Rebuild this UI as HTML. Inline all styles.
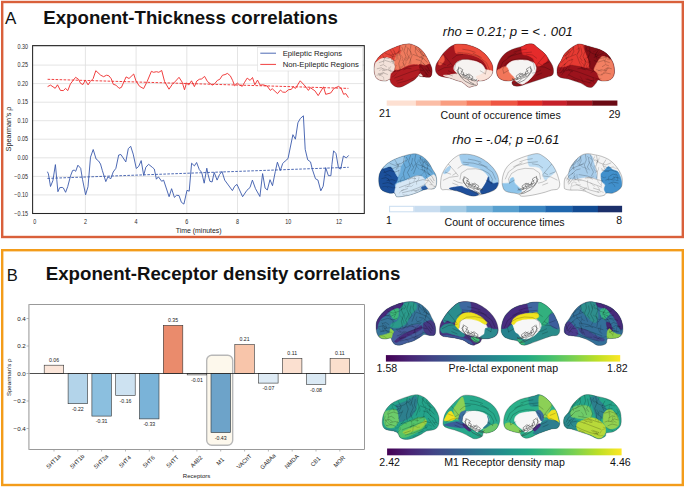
<!DOCTYPE html><html><head><meta charset="utf-8"><style>
html,body{margin:0;padding:0;background:#fff;width:685px;height:487px;overflow:hidden}
svg{display:block}
text{font-family:"Liberation Sans", sans-serif}
</style></head><body>
<svg width="685" height="487" viewBox="0 0 685 487">
<rect width="685" height="487" fill="#fff"/>
<rect x="2.2" y="2" width="680.6" height="235" fill="none" stroke="#d9603b" stroke-width="2.4"/>
<rect x="2.2" y="250.2" width="680.6" height="234.8" fill="none" stroke="#f39c1a" stroke-width="2.4"/>
<text x="5" y="24" font-size="17" fill="#111">A</text>
<text x="43.3" y="24.3" font-size="19" font-weight="bold" fill="#111" textLength="294.5" lengthAdjust="spacingAndGlyphs">Exponent-Thickness correlations</text>
<text x="6.8" y="281.2" font-size="16.5" fill="#111">B</text>
<text x="45.8" y="279.8" font-size="18.5" font-weight="bold" fill="#111" textLength="354.5" lengthAdjust="spacingAndGlyphs">Exponent-Receptor density correlations</text>
<line x1="33" x2="364" y1="46.5" y2="46.5" stroke="#dddddd" stroke-width="0.8"/>
<line x1="33" x2="364" y1="65.1" y2="65.1" stroke="#dddddd" stroke-width="0.8"/>
<line x1="33" x2="364" y1="83.6" y2="83.6" stroke="#dddddd" stroke-width="0.8"/>
<line x1="33" x2="364" y1="102.2" y2="102.2" stroke="#dddddd" stroke-width="0.8"/>
<line x1="33" x2="364" y1="120.7" y2="120.7" stroke="#dddddd" stroke-width="0.8"/>
<line x1="33" x2="364" y1="139.2" y2="139.2" stroke="#dddddd" stroke-width="0.8"/>
<line x1="33" x2="364" y1="157.8" y2="157.8" stroke="#dddddd" stroke-width="0.8"/>
<line x1="33" x2="364" y1="176.4" y2="176.4" stroke="#dddddd" stroke-width="0.8"/>
<line x1="33" x2="364" y1="194.9" y2="194.9" stroke="#dddddd" stroke-width="0.8"/>
<line x1="85.4" x2="85.4" y1="46" y2="213" stroke="#dddddd" stroke-width="0.8"/>
<line x1="136.1" x2="136.1" y1="46" y2="213" stroke="#dddddd" stroke-width="0.8"/>
<line x1="186.8" x2="186.8" y1="46" y2="213" stroke="#dddddd" stroke-width="0.8"/>
<line x1="237.5" x2="237.5" y1="46" y2="213" stroke="#dddddd" stroke-width="0.8"/>
<line x1="288.2" x2="288.2" y1="46" y2="213" stroke="#dddddd" stroke-width="0.8"/>
<line x1="338.9" x2="338.9" y1="46" y2="213" stroke="#dddddd" stroke-width="0.8"/>
<polyline points="47.6,86.6 50.5,85.1 55.2,88.3 57.5,84.8 60.4,90.4 63.4,90.6 65.5,88.4 67.8,90.6 70.4,83.9 75.6,77.3 78.5,79.3 80.6,83.4 83.0,84.5 85.3,80.1 88.1,84.9 90.2,81.6 93.1,78.7 95.8,70.7 100.7,75.2 103.6,76.7 106.6,75.2 108.9,75.8 111.2,78.7 113.3,84.3 115.9,85.1 119.1,88.3 121.4,87.4 126.1,76.9 129.0,78.5 133.7,74.0 136.0,81.0 139.5,86.3 143.6,88.6 147.1,81.6 151.4,71.3 153.5,72.3 156.5,71.7 158.8,72.3 161.7,70.5 164.6,81.6 169.0,89.2 172.2,84.5 175.7,81.0 179.0,77.3 182.2,82.2 184.5,89.8 186.5,82.8 188.6,85.1 191.5,80.8 194.4,86.6 196.8,81.0 199.3,79.3 201.7,78.9 204.6,76.4 207.5,81.6 212.2,85.1 214.5,83.9 217.4,80.4 219.8,79.3 222.5,75.2 225.0,74.6 227.4,73.4 230.3,75.8 232.6,80.4 234.6,85.7 237.3,83.1 239.6,85.1 242.3,86.3 244.3,82.8 247.2,78.1 250.1,80.4 252.5,77.5 254.8,84.8 257.5,80.1 260.1,85.1 263.0,84.8 267.1,86.0 270.3,90.4 272.2,88.7 277.5,93.6 280.5,90.0 282.7,92.1 285.4,92.3 288.6,89.7 291.3,89.4 293.2,86.8 295.5,88.4 300.2,80.8 305.1,86.0 308.4,90.4 310.3,87.7 314.9,90.8 318.2,95.6 323.5,86.8 325.7,94.3 330.7,93.0 334.0,88.4 338.6,86.4 341.2,88.4 343.6,94.3 345.8,93.6 348.4,97.6" fill="none" stroke="#ee2a2a" stroke-width="0.9" stroke-linejoin="round"/>
<polyline points="47.4,171.7 48.4,173.8 50.5,186.5 52.9,180.6 55.4,164.6 57.9,191.7 59.7,187.7 62.2,187.4 63.4,188.0 65.6,192.3 67.7,186.7 70.6,175.7 72.6,170.5 74.2,170.1 75.7,171.3 77.9,165.2 80.7,168.3 82.5,179.4 85.6,194.8 88.0,186.7 90.5,157.2 93.2,149.5 96.1,159.0 98.5,160.9 100.5,164.0 102.4,170.7 105.8,181.6 107.9,176.9 110.8,178.7 113.2,172.0 115.9,168.3 118.7,155.0 120.9,154.5 125.8,161.9 128.3,148.6 130.7,146.3 133.2,154.1 136.3,168.5 138.7,166.4 141.2,160.6 143.7,175.4 145.8,167.3 148.6,164.3 152.3,167.3 154.3,169.0 156.4,179.2 158.4,176.8 161.7,181.3 163.6,180.1 169.1,196.7 171.6,188.7 174.4,197.4 176.5,195.3 179.0,195.5 181.4,202.3 183.9,204.1 187.0,190.3 189.2,191.2 191.6,163.2 194.4,165.9 196.6,162.5 199.3,169.6 201.7,172.4 204.2,183.2 206.8,168.2 208.1,174.6 209.9,181.3 212.1,182.0 214.2,172.4 217.1,180.1 219.5,174.6 222.0,171.5 224.7,180.1 232.4,190.6 234.6,186.3 237.0,184.4 242.6,196.7 246.9,190.3 250.0,187.5 252.4,180.1 255.5,188.7 259.9,196.5 262.6,173.6 265.1,188.1 267.3,190.0 270.0,179.7 272.5,185.7 275.3,171.5 277.4,162.2 280.3,170.6 282.7,163.5 285.2,161.0 288.0,158.6 292.9,134.7 295.4,139.2 297.9,122.8 300.3,118.5 303.4,115.8 305.2,149.3 307.7,159.8 310.5,161.9 312.4,169.6 315.5,178.8 317.9,180.0 320.8,190.8 323.2,186.2 325.7,167.7 328.4,175.7 330.9,175.7 331.9,164.6 333.6,150.8 336.0,153.6 338.5,168.1 340.7,169.0 343.4,156.0 346.3,157.9 348.7,155.4" fill="none" stroke="#3a59ab" stroke-width="0.9" stroke-linejoin="round"/>
<line x1="47.6" y1="79.3" x2="348.4" y2="88.4" stroke="#ee2a2a" stroke-width="0.9" stroke-dasharray="2.6,1.4"/>
<line x1="47.4" y1="178.4" x2="348.7" y2="167.3" stroke="#3a59ab" stroke-width="0.9" stroke-dasharray="2.6,1.4"/>
<rect x="32.6" y="45.6" width="331.7" height="167.9" fill="none" stroke="#262626" stroke-width="1.05"/>
<text transform="translate(28,48.7) scale(0.86,1)" font-size="6.3" fill="#2a2a2a" text-anchor="end">0.30</text>
<text transform="translate(28,67.3) scale(0.86,1)" font-size="6.3" fill="#2a2a2a" text-anchor="end">0.25</text>
<text transform="translate(28,85.8) scale(0.86,1)" font-size="6.3" fill="#2a2a2a" text-anchor="end">0.20</text>
<text transform="translate(28,104.4) scale(0.86,1)" font-size="6.3" fill="#2a2a2a" text-anchor="end">0.15</text>
<text transform="translate(28,122.9) scale(0.86,1)" font-size="6.3" fill="#2a2a2a" text-anchor="end">0.10</text>
<text transform="translate(28,141.4) scale(0.86,1)" font-size="6.3" fill="#2a2a2a" text-anchor="end">0.05</text>
<text transform="translate(28,160.0) scale(0.86,1)" font-size="6.3" fill="#2a2a2a" text-anchor="end">0.00</text>
<text transform="translate(28,178.6) scale(0.86,1)" font-size="6.3" fill="#2a2a2a" text-anchor="end">−0.05</text>
<text transform="translate(28,197.1) scale(0.86,1)" font-size="6.3" fill="#2a2a2a" text-anchor="end">−0.10</text>
<text transform="translate(28,215.7) scale(0.86,1)" font-size="6.3" fill="#2a2a2a" text-anchor="end">−0.15</text>
<text transform="translate(34.7,224.2) scale(0.86,1)" font-size="6.3" fill="#2a2a2a" text-anchor="middle">0</text>
<text transform="translate(85.4,224.2) scale(0.86,1)" font-size="6.3" fill="#2a2a2a" text-anchor="middle">2</text>
<text transform="translate(136.1,224.2) scale(0.86,1)" font-size="6.3" fill="#2a2a2a" text-anchor="middle">4</text>
<text transform="translate(186.8,224.2) scale(0.86,1)" font-size="6.3" fill="#2a2a2a" text-anchor="middle">6</text>
<text transform="translate(237.5,224.2) scale(0.86,1)" font-size="6.3" fill="#2a2a2a" text-anchor="middle">8</text>
<text transform="translate(288.2,224.2) scale(0.86,1)" font-size="6.3" fill="#2a2a2a" text-anchor="middle">10</text>
<text transform="translate(338.9,224.2) scale(0.86,1)" font-size="6.3" fill="#2a2a2a" text-anchor="middle">12</text>
<text x="198.7" y="233.3" font-size="7.6" fill="#1e1e1e" text-anchor="middle" textLength="45.8" lengthAdjust="spacingAndGlyphs">Time (minutes)</text>
<text transform="translate(11.3,129) rotate(-90)" font-size="7.3" fill="#222" text-anchor="middle">Spearman’s ρ</text>
<rect x="257.6" y="47.3" width="104.8" height="23.7" fill="#fff" fill-opacity="0.85" stroke="#ddd" stroke-width="0.6"/>
<line x1="260.3" x2="276" y1="53.2" y2="53.2" stroke="#3a59ab" stroke-width="0.9"/>
<line x1="260.3" x2="276" y1="64.4" y2="64.4" stroke="#ee2a2a" stroke-width="0.9"/>
<text x="282.7" y="55.8" font-size="7.7" fill="#222">Epileptic Regions</text>
<text x="282.7" y="67.1" font-size="7.7" fill="#222">Non-Epileptic Regions</text>
<rect x="206.7" y="355.2" width="26" height="90" rx="5" ry="5" fill="#fdf8ec" stroke="#b8b8b8" stroke-width="1.4"/>
<rect x="44.2" y="365.2" width="19.5" height="8.2" fill="#fbe6da" stroke="#333" stroke-width="0.6"/>
<text x="54.0" y="361.8" font-size="5.2" fill="#222" text-anchor="middle">0.06</text>
<line x1="54.0" x2="54.0" y1="449.3" y2="451.5" stroke="#888" stroke-width="0.6"/>
<text transform="translate(54.9,462.9) rotate(-45)" font-size="5.8" fill="#1e1e1e" text-anchor="middle">5HT1a</text>
<rect x="68.1" y="373.5" width="19.5" height="30.2" fill="#b3d4ea" stroke="#333" stroke-width="0.6"/>
<text x="77.8" y="410.8" font-size="5.2" fill="#222" text-anchor="middle">-0.22</text>
<line x1="77.8" x2="77.8" y1="449.3" y2="451.5" stroke="#888" stroke-width="0.6"/>
<text transform="translate(78.7,462.9) rotate(-45)" font-size="5.8" fill="#1e1e1e" text-anchor="middle">5HT1b</text>
<rect x="91.9" y="373.5" width="19.5" height="42.6" fill="#8bbfdf" stroke="#333" stroke-width="0.6"/>
<text x="101.6" y="423.1" font-size="5.2" fill="#222" text-anchor="middle">-0.31</text>
<line x1="101.6" x2="101.6" y1="449.3" y2="451.5" stroke="#888" stroke-width="0.6"/>
<text transform="translate(102.5,462.9) rotate(-45)" font-size="5.8" fill="#1e1e1e" text-anchor="middle">5HT2a</text>
<rect x="115.7" y="373.5" width="19.5" height="22.0" fill="#cde2f1" stroke="#333" stroke-width="0.6"/>
<text x="125.5" y="402.5" font-size="5.2" fill="#222" text-anchor="middle">-0.16</text>
<line x1="125.5" x2="125.5" y1="449.3" y2="451.5" stroke="#888" stroke-width="0.6"/>
<text transform="translate(126.4,462.9) rotate(-45)" font-size="5.8" fill="#1e1e1e" text-anchor="middle">5HT4</text>
<rect x="139.5" y="373.5" width="19.5" height="45.4" fill="#7ab3d8" stroke="#333" stroke-width="0.6"/>
<text x="149.3" y="425.9" font-size="5.2" fill="#222" text-anchor="middle">-0.33</text>
<line x1="149.3" x2="149.3" y1="449.3" y2="451.5" stroke="#888" stroke-width="0.6"/>
<text transform="translate(150.2,462.9) rotate(-45)" font-size="5.8" fill="#1e1e1e" text-anchor="middle">5HT6</text>
<rect x="163.3" y="325.4" width="19.5" height="48.1" fill="#ea8b6c" stroke="#333" stroke-width="0.6"/>
<text x="173.1" y="321.9" font-size="5.2" fill="#222" text-anchor="middle">0.35</text>
<line x1="173.1" x2="173.1" y1="449.3" y2="451.5" stroke="#888" stroke-width="0.6"/>
<text transform="translate(174.0,462.9) rotate(-45)" font-size="5.8" fill="#1e1e1e" text-anchor="middle">5HTT</text>
<rect x="187.2" y="373.5" width="19.5" height="1.4" fill="#f7f7f7" stroke="#333" stroke-width="0.6"/>
<text x="196.9" y="381.9" font-size="5.2" fill="#222" text-anchor="middle">-0.01</text>
<line x1="196.9" x2="196.9" y1="449.3" y2="451.5" stroke="#888" stroke-width="0.6"/>
<text transform="translate(197.8,462.9) rotate(-45)" font-size="5.8" fill="#1e1e1e" text-anchor="middle">A4B2</text>
<rect x="211.0" y="373.5" width="19.5" height="59.1" fill="#6da3c9" stroke="#333" stroke-width="0.6"/>
<text x="220.7" y="439.6" font-size="5.2" fill="#222" text-anchor="middle">-0.43</text>
<line x1="220.7" x2="220.7" y1="449.3" y2="451.5" stroke="#888" stroke-width="0.6"/>
<text transform="translate(221.6,462.9) rotate(-45)" font-size="5.8" fill="#1e1e1e" text-anchor="middle">M1</text>
<rect x="234.8" y="344.6" width="19.5" height="28.9" fill="#f8c5aa" stroke="#333" stroke-width="0.6"/>
<text x="244.6" y="341.1" font-size="5.2" fill="#222" text-anchor="middle">0.21</text>
<line x1="244.6" x2="244.6" y1="449.3" y2="451.5" stroke="#888" stroke-width="0.6"/>
<text transform="translate(245.5,462.9) rotate(-45)" font-size="5.8" fill="#1e1e1e" text-anchor="middle">VAChT</text>
<rect x="258.6" y="373.5" width="19.5" height="9.6" fill="#deebf5" stroke="#333" stroke-width="0.6"/>
<text x="268.4" y="390.1" font-size="5.2" fill="#222" text-anchor="middle">-0.07</text>
<line x1="268.4" x2="268.4" y1="449.3" y2="451.5" stroke="#888" stroke-width="0.6"/>
<text transform="translate(269.3,462.9) rotate(-45)" font-size="5.8" fill="#1e1e1e" text-anchor="middle">GABAa</text>
<rect x="282.4" y="358.4" width="19.5" height="15.1" fill="#fbe0d0" stroke="#333" stroke-width="0.6"/>
<text x="292.2" y="354.9" font-size="5.2" fill="#222" text-anchor="middle">0.11</text>
<line x1="292.2" x2="292.2" y1="449.3" y2="451.5" stroke="#888" stroke-width="0.6"/>
<text transform="translate(293.1,462.9) rotate(-45)" font-size="5.8" fill="#1e1e1e" text-anchor="middle">NMDA</text>
<rect x="306.3" y="373.5" width="19.5" height="11.0" fill="#dae9f4" stroke="#333" stroke-width="0.6"/>
<text x="316.0" y="391.5" font-size="5.2" fill="#222" text-anchor="middle">-0.08</text>
<line x1="316.0" x2="316.0" y1="449.3" y2="451.5" stroke="#888" stroke-width="0.6"/>
<text transform="translate(316.9,462.9) rotate(-45)" font-size="5.8" fill="#1e1e1e" text-anchor="middle">CB1</text>
<rect x="330.1" y="358.4" width="19.5" height="15.1" fill="#fbdfcd" stroke="#333" stroke-width="0.6"/>
<text x="339.8" y="354.9" font-size="5.2" fill="#222" text-anchor="middle">0.11</text>
<line x1="339.8" x2="339.8" y1="449.3" y2="451.5" stroke="#888" stroke-width="0.6"/>
<text transform="translate(340.7,462.9) rotate(-45)" font-size="5.8" fill="#1e1e1e" text-anchor="middle">MOR</text>
<line x1="28.8" x2="364.4" y1="373.5" y2="373.5" stroke="#222" stroke-width="0.8"/>
<path d="M28.8,449.5 L28.8,304.5 L364.5,304.5 L364.5,449.5 Z" fill="none" stroke="#999" stroke-width="1"/>
<line x1="28.9" x2="28.9" y1="304.5" y2="449.5" stroke="#c4c4c4" stroke-width="1.3"/>
<line x1="26.5" x2="28.8" y1="318.5" y2="318.5" stroke="#888" stroke-width="0.6"/>
<text x="25.8" y="320.7" font-size="6.2" fill="#222" text-anchor="end">0.4</text>
<line x1="26.5" x2="28.8" y1="346.0" y2="346.0" stroke="#888" stroke-width="0.6"/>
<text x="25.8" y="348.2" font-size="6.2" fill="#222" text-anchor="end">0.2</text>
<line x1="26.5" x2="28.8" y1="373.5" y2="373.5" stroke="#888" stroke-width="0.6"/>
<text x="25.8" y="375.7" font-size="6.2" fill="#222" text-anchor="end">0.0</text>
<line x1="26.5" x2="28.8" y1="401.0" y2="401.0" stroke="#888" stroke-width="0.6"/>
<text x="25.8" y="403.2" font-size="6.2" fill="#222" text-anchor="end">−0.2</text>
<line x1="26.5" x2="28.8" y1="428.5" y2="428.5" stroke="#888" stroke-width="0.6"/>
<text x="25.8" y="430.7" font-size="6.2" fill="#222" text-anchor="end">−0.4</text>
<text transform="translate(11,377.3) rotate(-90)" font-size="6.1" fill="#222" text-anchor="middle">Spearman’s ρ</text>
<text x="196.6" y="477.5" font-size="6.05" fill="#222" text-anchor="middle">Receptors</text>
<rect x="386.7" y="100.5" width="29.5" height="5.2" fill="#fde0d2"/>
<rect x="415.9" y="100.5" width="24.8" height="5.2" fill="#fbbda6"/>
<rect x="440.4" y="100.5" width="26.3" height="5.2" fill="#f99d80"/>
<rect x="466.4" y="100.5" width="24.8" height="5.2" fill="#f6785a"/>
<rect x="490.9" y="100.5" width="26.6" height="5.2" fill="#ee5542"/>
<rect x="517.2" y="100.5" width="25.2" height="5.2" fill="#e32f28"/>
<rect x="542.1" y="100.5" width="24.8" height="5.2" fill="#c6202a"/>
<rect x="566.6" y="100.5" width="25.9" height="5.2" fill="#a5161f"/>
<rect x="592.2" y="100.5" width="25.2" height="5.2" fill="#6b0a14"/>
<rect x="389.1" y="205.8" width="25.4" height="6.5" fill="#ffffff"/>
<rect x="414.2" y="205.8" width="26.2" height="6.5" fill="#c9ddf0"/>
<rect x="440.1" y="205.8" width="26.4" height="6.5" fill="#a6cce5"/>
<rect x="466.2" y="205.8" width="26.7" height="6.5" fill="#7db6db"/>
<rect x="492.6" y="205.8" width="26.7" height="6.5" fill="#58a0cf"/>
<rect x="519.0" y="205.8" width="26.5" height="6.5" fill="#3a85c1"/>
<rect x="545.2" y="205.8" width="27.3" height="6.5" fill="#1f66ad"/>
<rect x="572.2" y="205.8" width="26.0" height="6.5" fill="#124b93"/>
<rect x="597.9" y="205.8" width="24.2" height="6.5" fill="#1b2f6a"/>
<rect x="389.6" y="206.3" width="24.2" height="5.5" fill="none" stroke="#c9ddf0" stroke-width="1"/>
<text x="379.0" y="116.8" font-size="10.6" fill="#111">21</text>
<text x="440.6" y="118.9" font-size="10.6" fill="#111">Count of occurence times</text>
<text x="608.7" y="118.0" font-size="10.6" fill="#111">29</text>
<text x="442.8" y="36.2" font-size="12" font-style="italic" fill="#111" textLength="130" lengthAdjust="spacingAndGlyphs">rho = 0.21; p = &lt; . 001</text>
<text x="452.2" y="144.4" font-size="12" font-style="italic" fill="#111" textLength="107.4" lengthAdjust="spacingAndGlyphs">rho = -.04; p =0.61</text>
<text x="386.0" y="223.7" font-size="10.6" fill="#111">1</text>
<text x="444.5" y="226.0" font-size="10.6" fill="#111">Count of occurence times</text>
<text x="616.3" y="223.5" font-size="10.6" fill="#111">8</text>
<defs><linearGradient id="vir" x1="0" x2="1" y1="0" y2="0"><stop offset="0.00" stop-color="#440154"/><stop offset="0.10" stop-color="#482475"/><stop offset="0.20" stop-color="#414487"/><stop offset="0.30" stop-color="#355f8d"/><stop offset="0.40" stop-color="#2a788e"/><stop offset="0.50" stop-color="#21918c"/><stop offset="0.60" stop-color="#22a884"/><stop offset="0.70" stop-color="#44bf70"/><stop offset="0.80" stop-color="#7ad151"/><stop offset="0.90" stop-color="#bddf26"/><stop offset="1.00" stop-color="#fde725"/></linearGradient></defs>
<rect x="385.9" y="355.1" width="234.3" height="6.5" fill="url(#vir)"/>
<rect x="387.1" y="448.5" width="234.5" height="6.8" fill="url(#vir)"/>
<text x="376.6" y="372.3" font-size="10.6" fill="#111">1.58</text>
<text x="448.6" y="372.3" font-size="10.6" fill="#111">Pre-Ictal exponent map</text>
<text x="607.1" y="372.3" font-size="10.6" fill="#111">1.82</text>
<text x="379.3" y="465.9" font-size="10.6" fill="#111">2.42</text>
<text x="444.2" y="465.9" font-size="10.6" fill="#111">M1 Receptor density map</text>
<text x="610.1" y="466.0" font-size="10.6" fill="#111">4.46</text>
<g transform="translate(370,40) scale(0.10264)">
<clipPath id="bc0"><path d="M40,300C38,278 42,247 45,230C48,213 52,212 60,200C68,188 75,174 90,160C105,146 128,128 150,115C172,102 195,91 220,80C245,69 280,56 300,50C320,44 325,44 340,42C355,40 373,36 390,38C407,40 423,47 440,55C457,63 475,72 490,85C505,98 518,114 530,130C542,146 550,162 560,180C570,198 582,222 590,240C598,258 603,273 605,290C607,307 604,328 600,340C596,352 592,359 580,362C568,365 545,361 530,360C515,359 500,357 490,355C480,353 480,344 470,350C460,356 448,377 430,390C412,403 383,418 360,430C337,442 310,457 290,460C270,463 254,457 240,450C226,443 213,431 205,420C197,409 199,388 190,385C181,382 167,399 150,400C133,401 106,397 90,390C74,383 63,375 55,360C47,345 42,322 40,300Z"/></clipPath>
<path d="M40,300C38,278 42,247 45,230C48,213 52,212 60,200C68,188 75,174 90,160C105,146 128,128 150,115C172,102 195,91 220,80C245,69 280,56 300,50C320,44 325,44 340,42C355,40 373,36 390,38C407,40 423,47 440,55C457,63 475,72 490,85C505,98 518,114 530,130C542,146 550,162 560,180C570,198 582,222 590,240C598,258 603,273 605,290C607,307 604,328 600,340C596,352 592,359 580,362C568,365 545,361 530,360C515,359 500,357 490,355C480,353 480,344 470,350C460,356 448,377 430,390C412,403 383,418 360,430C337,442 310,457 290,460C270,463 254,457 240,450C226,443 213,431 205,420C197,409 199,388 190,385C181,382 167,399 150,400C133,401 106,397 90,390C74,383 63,375 55,360C47,345 42,322 40,300Z" fill="#b21c22"/>
<g clip-path="url(#bc0)">
<path d="M45,330C43,320 38,284 40,270C42,256 53,220 60,210C67,200 88,185 100,180C112,175 148,166 160,165C172,164 191,171 200,175C209,179 235,190 240,200C245,210 246,248 245,260C244,272 235,292 230,300C225,308 205,320 200,330C195,340 196,377 190,385C184,393 162,399 150,400C138,401 101,395 90,390C79,385 60,367 55,360C50,353 47,340 45,330Z" fill="#f3e2da" stroke="#f3e2da" stroke-width="6" stroke-linejoin="round"/>
<path d="M60,210C59,208 80,171 90,160C100,149 135,124 150,115C165,106 202,88 220,80C238,72 291,44 300,50C309,56 305,120 300,130C295,140 267,132 260,140C253,148 247,196 240,200C233,204 209,179 200,175C191,171 172,164 160,165C148,166 112,175 100,180C88,185 61,212 60,210Z" fill="#e8463a" stroke="#e8463a" stroke-width="6" stroke-linejoin="round"/>
<path d="M300,50C305,40 330,43 340,42C350,41 378,36 390,38C402,40 428,50 440,55C452,60 480,76 490,85C500,94 522,119 530,130C538,141 554,168 560,180C566,192 582,227 580,235C578,243 552,249 540,250C528,251 494,242 480,240C466,238 434,234 420,235C406,236 374,245 360,250C346,255 313,275 300,280C287,285 256,292 250,290C244,288 246,270 245,260C244,250 238,214 240,200C242,186 253,148 260,140C267,132 295,140 300,130C305,120 295,60 300,50Z" fill="#f07b5e" stroke="#f07b5e" stroke-width="6" stroke-linejoin="round"/>
<path d="M480,240C486,234 528,251 540,250C552,249 573,232 580,235C587,238 598,268 600,280C602,292 602,330 600,340C598,350 588,360 580,362C572,364 540,361 530,360C520,359 497,356 490,355C483,354 470,356 470,350C470,344 489,313 490,300C491,287 474,246 480,240Z" fill="#8e1118" stroke="#8e1118" stroke-width="6" stroke-linejoin="round"/>
<path d="M470,350C469,346 485,330 490,330C495,330 509,346 510,350C511,354 505,365 500,365C495,365 471,354 470,350Z" fill="#f5ded6" stroke="#f5ded6" stroke-width="6" stroke-linejoin="round"/>
<polyline points="150,130 200,150 260,130 300,100" fill="none" stroke="#000" stroke-opacity="0.28" stroke-width="7" stroke-linejoin="round" stroke-linecap="round"/>
<polyline points="90,220 150,200 200,215 240,200" fill="none" stroke="#000" stroke-opacity="0.28" stroke-width="7" stroke-linejoin="round" stroke-linecap="round"/>
<polyline points="290,60 280,120 300,170 280,230 290,280" fill="none" stroke="#000" stroke-opacity="0.28" stroke-width="7" stroke-linejoin="round" stroke-linecap="round"/>
<polyline points="350,50 330,110 350,160 320,220 340,260" fill="none" stroke="#000" stroke-opacity="0.28" stroke-width="7" stroke-linejoin="round" stroke-linecap="round"/>
<polyline points="400,45 390,100 410,150 380,230" fill="none" stroke="#000" stroke-opacity="0.28" stroke-width="7" stroke-linejoin="round" stroke-linecap="round"/>
<polyline points="420,140 470,160 520,180 560,220" fill="none" stroke="#000" stroke-opacity="0.28" stroke-width="7" stroke-linejoin="round" stroke-linecap="round"/>
<polyline points="230,310 300,290 380,260 460,245" fill="none" stroke="#000" stroke-opacity="0.28" stroke-width="7" stroke-linejoin="round" stroke-linecap="round"/>
<polyline points="240,370 320,340 400,310 470,290 520,300" fill="none" stroke="#000" stroke-opacity="0.28" stroke-width="7" stroke-linejoin="round" stroke-linecap="round"/>
<polyline points="270,420 350,400 430,370 490,340" fill="none" stroke="#000" stroke-opacity="0.28" stroke-width="7" stroke-linejoin="round" stroke-linecap="round"/>
<polyline points="480,90 500,140 540,160" fill="none" stroke="#000" stroke-opacity="0.28" stroke-width="7" stroke-linejoin="round" stroke-linecap="round"/>
<polyline points="120,300 170,290 200,300" fill="none" stroke="#000" stroke-opacity="0.28" stroke-width="7" stroke-linejoin="round" stroke-linecap="round"/>
<polyline points="450,60 440,110 460,150" fill="none" stroke="#000" stroke-opacity="0.28" stroke-width="7" stroke-linejoin="round" stroke-linecap="round"/>
<polyline points="520,230 560,260 580,300" fill="none" stroke="#000" stroke-opacity="0.28" stroke-width="7" stroke-linejoin="round" stroke-linecap="round"/>
<polyline points="200,100 230,150 210,190" fill="none" stroke="#000" stroke-opacity="0.28" stroke-width="7" stroke-linejoin="round" stroke-linecap="round"/>
<polyline points="100,250 130,240 160,260" fill="none" stroke="#000" stroke-opacity="0.28" stroke-width="7" stroke-linejoin="round" stroke-linecap="round"/>
<polyline points="70,280 110,270 140,290" fill="none" stroke="#000" stroke-opacity="0.28" stroke-width="7" stroke-linejoin="round" stroke-linecap="round"/>
<polyline points="80,330 130,320 170,335" fill="none" stroke="#000" stroke-opacity="0.28" stroke-width="7" stroke-linejoin="round" stroke-linecap="round"/>
<polyline points="130,170 180,180 220,160" fill="none" stroke="#000" stroke-opacity="0.28" stroke-width="7" stroke-linejoin="round" stroke-linecap="round"/>
<polyline points="310,70 320,90 305,110" fill="none" stroke="#000" stroke-opacity="0.28" stroke-width="7" stroke-linejoin="round" stroke-linecap="round"/>
<polyline points="370,80 360,130 380,170 360,200" fill="none" stroke="#000" stroke-opacity="0.28" stroke-width="7" stroke-linejoin="round" stroke-linecap="round"/>
<polyline points="440,70 460,100 480,120" fill="none" stroke="#000" stroke-opacity="0.28" stroke-width="7" stroke-linejoin="round" stroke-linecap="round"/>
<polyline points="500,110 520,150 510,190" fill="none" stroke="#000" stroke-opacity="0.28" stroke-width="7" stroke-linejoin="round" stroke-linecap="round"/>
<polyline points="450,190 490,200 530,240" fill="none" stroke="#000" stroke-opacity="0.28" stroke-width="7" stroke-linejoin="round" stroke-linecap="round"/>
<polyline points="260,400 320,380" fill="none" stroke="#000" stroke-opacity="0.28" stroke-width="7" stroke-linejoin="round" stroke-linecap="round"/>
<polyline points="400,400 450,380" fill="none" stroke="#000" stroke-opacity="0.28" stroke-width="7" stroke-linejoin="round" stroke-linecap="round"/>
<polyline points="540,280 570,320" fill="none" stroke="#000" stroke-opacity="0.28" stroke-width="7" stroke-linejoin="round" stroke-linecap="round"/>
<polyline points="500,260 530,300 560,340" fill="none" stroke="#000" stroke-opacity="0.28" stroke-width="7" stroke-linejoin="round" stroke-linecap="round"/>
<polyline points="330,290 360,275 400,280" fill="none" stroke="#000" stroke-opacity="0.28" stroke-width="7" stroke-linejoin="round" stroke-linecap="round"/>
<polyline points="185,266 182,289 197,308 220,308" fill="none" stroke="#000" stroke-opacity="0.22" stroke-width="6" stroke-linejoin="round" stroke-linecap="round"/>
<polyline points="500,157 507,186 497,214 488,243" fill="none" stroke="#000" stroke-opacity="0.22" stroke-width="6" stroke-linejoin="round" stroke-linecap="round"/>
<polyline points="396,116 392,143 378,167 357,185" fill="none" stroke="#000" stroke-opacity="0.22" stroke-width="6" stroke-linejoin="round" stroke-linecap="round"/>
<polyline points="94,348 103,332 120,325 136,317" fill="none" stroke="#000" stroke-opacity="0.22" stroke-width="6" stroke-linejoin="round" stroke-linecap="round"/>
<polyline points="437,394 465,384 493,390 521,393" fill="none" stroke="#000" stroke-opacity="0.22" stroke-width="6" stroke-linejoin="round" stroke-linecap="round"/>
<polyline points="551,394 560,381 576,379 591,375" fill="none" stroke="#000" stroke-opacity="0.22" stroke-width="6" stroke-linejoin="round" stroke-linecap="round"/>
<polyline points="389,173 395,192 397,212 397,231" fill="none" stroke="#000" stroke-opacity="0.22" stroke-width="6" stroke-linejoin="round" stroke-linecap="round"/>
<polyline points="535,319 553,339 564,364 588,379" fill="none" stroke="#000" stroke-opacity="0.22" stroke-width="6" stroke-linejoin="round" stroke-linecap="round"/>
<polyline points="512,426 533,434 556,430 577,439" fill="none" stroke="#000" stroke-opacity="0.22" stroke-width="6" stroke-linejoin="round" stroke-linecap="round"/>
<polyline points="361,167 347,190 352,217 342,243" fill="none" stroke="#000" stroke-opacity="0.22" stroke-width="6" stroke-linejoin="round" stroke-linecap="round"/>
<polyline points="275,116 263,138 271,163 274,189" fill="none" stroke="#000" stroke-opacity="0.22" stroke-width="6" stroke-linejoin="round" stroke-linecap="round"/>
<polyline points="84,332 108,347 132,361 135,389" fill="none" stroke="#000" stroke-opacity="0.22" stroke-width="6" stroke-linejoin="round" stroke-linecap="round"/>
<polyline points="223,87 229,100 238,111 244,123" fill="none" stroke="#000" stroke-opacity="0.22" stroke-width="6" stroke-linejoin="round" stroke-linecap="round"/>
<polyline points="142,74 126,83 108,79 89,80" fill="none" stroke="#000" stroke-opacity="0.22" stroke-width="6" stroke-linejoin="round" stroke-linecap="round"/>
<polyline points="302,257 297,280 288,301 267,309" fill="none" stroke="#000" stroke-opacity="0.22" stroke-width="6" stroke-linejoin="round" stroke-linecap="round"/>
<polyline points="326,223 330,240 320,253 309,267" fill="none" stroke="#000" stroke-opacity="0.22" stroke-width="6" stroke-linejoin="round" stroke-linecap="round"/>
<polyline points="348,62 367,76 382,93 393,113" fill="none" stroke="#000" stroke-opacity="0.22" stroke-width="6" stroke-linejoin="round" stroke-linecap="round"/>
<polyline points="92,298 113,285 137,281 161,288" fill="none" stroke="#000" stroke-opacity="0.22" stroke-width="6" stroke-linejoin="round" stroke-linecap="round"/>
<polyline points="72,81 82,109 94,136 101,164" fill="none" stroke="#000" stroke-opacity="0.22" stroke-width="6" stroke-linejoin="round" stroke-linecap="round"/>
<polyline points="228,197 228,217 234,235 244,251" fill="none" stroke="#000" stroke-opacity="0.22" stroke-width="6" stroke-linejoin="round" stroke-linecap="round"/>
<polyline points="465,68 473,93 492,110 499,135" fill="none" stroke="#000" stroke-opacity="0.22" stroke-width="6" stroke-linejoin="round" stroke-linecap="round"/>
<polyline points="185,130 203,147 225,159 250,163" fill="none" stroke="#000" stroke-opacity="0.22" stroke-width="6" stroke-linejoin="round" stroke-linecap="round"/>
<polyline points="498,225 499,242 495,257 483,267" fill="none" stroke="#000" stroke-opacity="0.22" stroke-width="6" stroke-linejoin="round" stroke-linecap="round"/>
<polyline points="297,144 313,159 320,180 313,201" fill="none" stroke="#000" stroke-opacity="0.22" stroke-width="6" stroke-linejoin="round" stroke-linecap="round"/>
<polyline points="156,164 140,182 129,204 134,227" fill="none" stroke="#000" stroke-opacity="0.22" stroke-width="6" stroke-linejoin="round" stroke-linecap="round"/>
<polyline points="213,361 230,352 245,340 258,326" fill="none" stroke="#000" stroke-opacity="0.22" stroke-width="6" stroke-linejoin="round" stroke-linecap="round"/>
<polyline points="543,118 534,145 507,156 482,170" fill="none" stroke="#000" stroke-opacity="0.22" stroke-width="6" stroke-linejoin="round" stroke-linecap="round"/>
<polyline points="559,412 584,418 606,430 628,444" fill="none" stroke="#000" stroke-opacity="0.22" stroke-width="6" stroke-linejoin="round" stroke-linecap="round"/>
<polyline points="212,188 212,203 219,216 217,230" fill="none" stroke="#000" stroke-opacity="0.22" stroke-width="6" stroke-linejoin="round" stroke-linecap="round"/>
<polyline points="84,403 108,418 116,446 121,474" fill="none" stroke="#000" stroke-opacity="0.22" stroke-width="6" stroke-linejoin="round" stroke-linecap="round"/>
<polyline points="67,343 85,340 103,339 121,335" fill="none" stroke="#000" stroke-opacity="0.22" stroke-width="6" stroke-linejoin="round" stroke-linecap="round"/>
<polyline points="553,292 570,297 586,302 599,315" fill="none" stroke="#000" stroke-opacity="0.22" stroke-width="6" stroke-linejoin="round" stroke-linecap="round"/>
<polyline points="245,133 260,156 261,183 244,203" fill="none" stroke="#000" stroke-opacity="0.22" stroke-width="6" stroke-linejoin="round" stroke-linecap="round"/>
<polyline points="483,373 507,376 526,362 537,341" fill="none" stroke="#000" stroke-opacity="0.22" stroke-width="6" stroke-linejoin="round" stroke-linecap="round"/>
<polyline points="201,259 192,279 202,298 222,304" fill="none" stroke="#000" stroke-opacity="0.22" stroke-width="6" stroke-linejoin="round" stroke-linecap="round"/>
<polyline points="127,106 117,134 130,161 142,188" fill="none" stroke="#000" stroke-opacity="0.22" stroke-width="6" stroke-linejoin="round" stroke-linecap="round"/>
<polyline points="226,178 225,202 230,226 247,243" fill="none" stroke="#000" stroke-opacity="0.22" stroke-width="6" stroke-linejoin="round" stroke-linecap="round"/>
<polyline points="233,105 238,130 258,145 283,146" fill="none" stroke="#000" stroke-opacity="0.22" stroke-width="6" stroke-linejoin="round" stroke-linecap="round"/>
<polyline points="256,289 243,304 227,315 213,329" fill="none" stroke="#000" stroke-opacity="0.22" stroke-width="6" stroke-linejoin="round" stroke-linecap="round"/>
<polyline points="256,248 246,266 238,284 240,305" fill="none" stroke="#000" stroke-opacity="0.22" stroke-width="6" stroke-linejoin="round" stroke-linecap="round"/>
</g>
<path d="M40,300C38,278 42,247 45,230C48,213 52,212 60,200C68,188 75,174 90,160C105,146 128,128 150,115C172,102 195,91 220,80C245,69 280,56 300,50C320,44 325,44 340,42C355,40 373,36 390,38C407,40 423,47 440,55C457,63 475,72 490,85C505,98 518,114 530,130C542,146 550,162 560,180C570,198 582,222 590,240C598,258 603,273 605,290C607,307 604,328 600,340C596,352 592,359 580,362C568,365 545,361 530,360C515,359 500,357 490,355C480,353 480,344 470,350C460,356 448,377 430,390C412,403 383,418 360,430C337,442 310,457 290,460C270,463 254,457 240,450C226,443 213,431 205,420C197,409 199,388 190,385C181,382 167,399 150,400C133,401 106,397 90,390C74,383 63,375 55,360C47,345 42,322 40,300Z" fill="none" stroke="#222" stroke-opacity="0.55" stroke-width="5" stroke-linejoin="round"/>
</g>
<g transform="translate(432,40) scale(0.10264)">
<clipPath id="bc1"><path d="M35,300C32,283 34,258 40,240C46,222 58,208 70,190C82,172 95,148 110,130C125,112 142,94 160,80C178,66 200,52 220,45C240,38 257,39 280,40C303,41 333,43 360,50C387,57 415,67 440,80C465,93 490,112 510,130C530,148 547,170 560,190C573,210 585,228 590,250C595,272 594,302 590,320C586,338 577,348 565,360C553,372 536,383 520,390C504,397 483,398 470,400C457,402 445,398 440,405C435,412 447,432 440,440C433,448 413,447 400,450C387,453 372,462 360,460C348,458 342,448 330,440C318,432 305,418 290,410C275,402 260,402 240,395C220,388 192,376 170,370C148,364 128,365 110,360C92,355 72,350 60,340C48,330 38,317 35,300Z"/></clipPath>
<path d="M35,300C32,283 34,258 40,240C46,222 58,208 70,190C82,172 95,148 110,130C125,112 142,94 160,80C178,66 200,52 220,45C240,38 257,39 280,40C303,41 333,43 360,50C387,57 415,67 440,80C465,93 490,112 510,130C530,148 547,170 560,190C573,210 585,228 590,250C595,272 594,302 590,320C586,338 577,348 565,360C553,372 536,383 520,390C504,397 483,398 470,400C457,402 445,398 440,405C435,412 447,432 440,440C433,448 413,447 400,450C387,453 372,462 360,460C348,458 342,448 330,440C318,432 305,418 290,410C275,402 260,402 240,395C220,388 192,376 170,370C148,364 128,365 110,360C92,355 72,350 60,340C48,330 38,317 35,300Z" fill="#a3161e"/>
<g clip-path="url(#bc1)">
<path d="M220,45C226,35 264,39 280,40C296,41 341,45 360,50C379,55 422,71 440,80C458,89 496,117 510,130C524,143 551,176 560,190C569,204 586,237 590,250C594,263 595,299 590,305C585,311 557,306 550,300C543,294 536,261 530,250C524,239 509,214 500,205C491,196 462,176 450,170C438,164 414,154 400,150C386,146 346,138 330,135C314,132 272,129 260,128C248,127 235,135 230,125C225,115 214,55 220,45Z" fill="#ec4b3a" stroke="#ec4b3a" stroke-width="6" stroke-linejoin="round"/>
<path d="M215,260C218,252 231,228 240,220C249,212 276,198 290,195C304,192 344,193 360,195C376,197 415,205 430,210C445,215 480,231 490,240C500,249 518,281 520,290C522,299 516,313 510,320C504,327 478,341 470,350C462,359 450,386 445,395C440,404 433,427 425,430C417,433 391,425 380,420C369,415 342,398 330,390C318,382 290,358 280,350C270,342 248,327 240,320C232,313 218,297 215,290C212,283 212,268 215,260Z" fill="#f6f3f1" stroke="#f6f3f1" stroke-width="6" stroke-linejoin="round"/>
<path d="M520,290C529,288 583,298 590,305C597,312 586,341 580,350C574,359 553,374 540,380C527,386 483,402 470,400C457,398 430,367 430,360C430,353 461,345 470,340C479,335 504,326 510,320C516,314 511,292 520,290Z" fill="#fbe4da" stroke="#fbe4da" stroke-width="6" stroke-linejoin="round"/>
<path d="M110,345C110,342 156,342 170,340C184,338 217,330 230,330C243,330 268,335 280,340C292,345 318,364 330,370C342,376 368,386 380,390C392,394 423,394 430,400C437,406 444,434 440,440C436,446 409,448 400,450C391,452 368,461 360,460C352,459 338,446 330,440C322,434 300,415 290,410C280,405 254,400 240,395C226,390 185,376 170,370C155,364 110,348 110,345Z" fill="#f2e0d9" stroke="#f2e0d9" stroke-width="6" stroke-linejoin="round"/>
<path d="M70,190C75,180 104,149 110,150C116,151 122,190 120,200C118,210 96,235 90,240C84,245 67,246 65,240C63,234 65,200 70,190Z" fill="#ee5a44" stroke="#ee5a44" stroke-width="6" stroke-linejoin="round"/>
<polyline points="60,300 120,270 200,260" fill="none" stroke="#000" stroke-opacity="0.28" stroke-width="7" stroke-linejoin="round" stroke-linecap="round"/>
<polyline points="110,140 160,200 200,250" fill="none" stroke="#000" stroke-opacity="0.28" stroke-width="7" stroke-linejoin="round" stroke-linecap="round"/>
<polyline points="250,120 350,130 450,160 530,220 560,290" fill="none" stroke="#000" stroke-opacity="0.28" stroke-width="7" stroke-linejoin="round" stroke-linecap="round"/>
<polyline points="160,300 200,320 240,330" fill="none" stroke="#000" stroke-opacity="0.28" stroke-width="7" stroke-linejoin="round" stroke-linecap="round"/>
<polyline points="300,90 360,100 420,120" fill="none" stroke="#000" stroke-opacity="0.28" stroke-width="7" stroke-linejoin="round" stroke-linecap="round"/>
<polyline points="80,220 130,240" fill="none" stroke="#000" stroke-opacity="0.28" stroke-width="7" stroke-linejoin="round" stroke-linecap="round"/>
<polyline points="400,130 480,170" fill="none" stroke="#000" stroke-opacity="0.28" stroke-width="7" stroke-linejoin="round" stroke-linecap="round"/>
<polyline points="150,330 200,350" fill="none" stroke="#000" stroke-opacity="0.28" stroke-width="7" stroke-linejoin="round" stroke-linecap="round"/>
<polyline points="470,300 520,330" fill="none" stroke="#000" stroke-opacity="0.28" stroke-width="7" stroke-linejoin="round" stroke-linecap="round"/>
<polyline points="220,290 230,230 290,190 370,185 440,200 500,235 530,290 520,330" fill="none" stroke="#000" stroke-opacity="0.28" stroke-width="7" stroke-linejoin="round" stroke-linecap="round"/>
<polyline points="200,180 240,150 300,140" fill="none" stroke="#000" stroke-opacity="0.28" stroke-width="7" stroke-linejoin="round" stroke-linecap="round"/>
<polyline points="150,250 180,230" fill="none" stroke="#000" stroke-opacity="0.28" stroke-width="7" stroke-linejoin="round" stroke-linecap="round"/>
<polyline points="240,300 270,270 300,290 280,330 330,350 360,330 400,360 380,390 420,400 440,380" fill="none" stroke="#3a3a3a" stroke-opacity="0.8" stroke-width="6" stroke-linejoin="round"/>
<polyline points="260,260 250,320 290,360 340,380 370,410 410,430" fill="none" stroke="#3a3a3a" stroke-opacity="0.8" stroke-width="6" stroke-linejoin="round"/>
<polyline points="280,300 310,320 300,350 350,370" fill="none" stroke="#3a3a3a" stroke-opacity="0.8" stroke-width="6" stroke-linejoin="round"/>
<polyline points="330,330 370,350 350,380 400,390" fill="none" stroke="#3a3a3a" stroke-opacity="0.8" stroke-width="6" stroke-linejoin="round"/>
<polyline points="250,300 280,360 320,400 380,430 430,440" fill="none" stroke="#3a3a3a" stroke-opacity="0.8" stroke-width="6" stroke-linejoin="round"/>
<polyline points="300,330 350,360 400,380 440,400" fill="none" stroke="#3a3a3a" stroke-opacity="0.8" stroke-width="6" stroke-linejoin="round"/>
</g>
<path d="M35,300C32,283 34,258 40,240C46,222 58,208 70,190C82,172 95,148 110,130C125,112 142,94 160,80C178,66 200,52 220,45C240,38 257,39 280,40C303,41 333,43 360,50C387,57 415,67 440,80C465,93 490,112 510,130C530,148 547,170 560,190C573,210 585,228 590,250C595,272 594,302 590,320C586,338 577,348 565,360C553,372 536,383 520,390C504,397 483,398 470,400C457,402 445,398 440,405C435,412 447,432 440,440C433,448 413,447 400,450C387,453 372,462 360,460C348,458 342,448 330,440C318,432 305,418 290,410C275,402 260,402 240,395C220,388 192,376 170,370C148,364 128,365 110,360C92,355 72,350 60,340C48,330 38,317 35,300Z" fill="none" stroke="#222" stroke-opacity="0.55" stroke-width="5" stroke-linejoin="round"/>
</g>
<g transform="translate(494,40) scale(0.10264)">
<clipPath id="bc2"><path d="M25,310C25,288 31,255 40,230C49,205 63,180 80,160C97,140 118,123 140,110C162,97 187,88 210,80C233,72 260,67 280,60C300,53 313,43 330,40C347,37 365,35 380,40C395,45 405,58 420,70C435,82 455,97 470,110C485,123 498,135 510,150C522,165 530,183 540,200C550,217 563,233 570,250C577,267 580,285 580,300C580,315 580,330 570,340C560,350 538,353 520,360C502,367 480,373 460,380C440,387 420,393 400,400C380,407 360,413 340,420C320,427 298,435 280,440C262,445 246,450 230,450C214,450 194,447 185,440C176,433 174,418 175,410C176,402 196,392 190,390C184,388 158,400 140,400C122,400 97,397 80,390C63,383 49,373 40,360C31,347 25,332 25,310Z"/></clipPath>
<path d="M25,310C25,288 31,255 40,230C49,205 63,180 80,160C97,140 118,123 140,110C162,97 187,88 210,80C233,72 260,67 280,60C300,53 313,43 330,40C347,37 365,35 380,40C395,45 405,58 420,70C435,82 455,97 470,110C485,123 498,135 510,150C522,165 530,183 540,200C550,217 563,233 570,250C577,267 580,285 580,300C580,315 580,330 570,340C560,350 538,353 520,360C502,367 480,373 460,380C440,387 420,393 400,400C380,407 360,413 340,420C320,427 298,435 280,440C262,445 246,450 230,450C214,450 194,447 185,440C176,433 174,418 175,410C176,402 196,392 190,390C184,388 158,400 140,400C122,400 97,397 80,390C63,383 49,373 40,360C31,347 25,332 25,310Z" fill="#931219"/>
<g clip-path="url(#bc2)">
<path d="M270,60C277,53 317,42 330,40C343,38 370,36 380,40C390,44 410,62 420,70C430,78 460,101 470,110C480,119 504,140 510,150C516,160 525,190 520,200C515,210 480,233 470,240C460,247 438,261 430,260C422,259 406,239 400,230C394,221 388,189 380,180C372,171 342,155 330,150C318,145 287,146 280,140C273,134 271,109 270,100C269,91 263,67 270,60Z" fill="#e52b2b" stroke="#e52b2b" stroke-width="6" stroke-linejoin="round"/>
<path d="M110,290C109,280 122,250 130,240C138,230 166,210 180,205C194,200 232,196 250,195C268,194 314,196 330,200C346,204 381,217 390,225C399,233 409,259 410,270C411,281 405,310 400,320C395,330 378,351 370,360C362,369 340,392 330,400C320,408 290,428 280,430C270,432 249,425 240,420C231,415 208,397 200,390C192,383 177,367 170,360C163,353 147,338 140,330C133,322 111,300 110,290Z" fill="#f6f4f3" stroke="#f6f4f3" stroke-width="6" stroke-linejoin="round"/>
<path d="M25,310C24,301 31,296 40,290C49,284 90,262 100,260C110,258 124,263 130,270C136,277 143,310 150,320C157,330 184,352 190,360C196,368 204,380 200,385C196,390 172,399 160,400C148,401 113,398 100,395C87,392 59,380 50,370C41,360 26,319 25,310Z" fill="#f2765a" stroke="#f2765a" stroke-width="6" stroke-linejoin="round"/>
<polyline points="555,294 495,265 415,255" fill="none" stroke="#000" stroke-opacity="0.28" stroke-width="7" stroke-linejoin="round" stroke-linecap="round"/>
<polyline points="505,138 455,196 415,245" fill="none" stroke="#000" stroke-opacity="0.28" stroke-width="7" stroke-linejoin="round" stroke-linecap="round"/>
<polyline points="365,118 265,128 165,157 85,216 55,284" fill="none" stroke="#000" stroke-opacity="0.28" stroke-width="7" stroke-linejoin="round" stroke-linecap="round"/>
<polyline points="455,294 415,313 375,323" fill="none" stroke="#000" stroke-opacity="0.28" stroke-width="7" stroke-linejoin="round" stroke-linecap="round"/>
<polyline points="315,89 255,99 195,118" fill="none" stroke="#000" stroke-opacity="0.28" stroke-width="7" stroke-linejoin="round" stroke-linecap="round"/>
<polyline points="535,216 485,235" fill="none" stroke="#000" stroke-opacity="0.28" stroke-width="7" stroke-linejoin="round" stroke-linecap="round"/>
<polyline points="215,128 135,167" fill="none" stroke="#000" stroke-opacity="0.28" stroke-width="7" stroke-linejoin="round" stroke-linecap="round"/>
<polyline points="465,323 415,343" fill="none" stroke="#000" stroke-opacity="0.28" stroke-width="7" stroke-linejoin="round" stroke-linecap="round"/>
<polyline points="145,294 95,323" fill="none" stroke="#000" stroke-opacity="0.28" stroke-width="7" stroke-linejoin="round" stroke-linecap="round"/>
<polyline points="395,284 385,225 325,186 245,182 175,196 115,230 85,284 95,323" fill="none" stroke="#000" stroke-opacity="0.28" stroke-width="7" stroke-linejoin="round" stroke-linecap="round"/>
<polyline points="415,177 375,147 315,138" fill="none" stroke="#000" stroke-opacity="0.28" stroke-width="7" stroke-linejoin="round" stroke-linecap="round"/>
<polyline points="465,245 435,225" fill="none" stroke="#000" stroke-opacity="0.28" stroke-width="7" stroke-linejoin="round" stroke-linecap="round"/>
<polyline points="375,294 345,265 315,284 335,323 285,343 255,323 215,352 235,382 195,391 175,372" fill="none" stroke="#3a3a3a" stroke-opacity="0.8" stroke-width="6" stroke-linejoin="round"/>
<polyline points="355,255 365,313 325,352 275,372 245,401 205,421" fill="none" stroke="#3a3a3a" stroke-opacity="0.8" stroke-width="6" stroke-linejoin="round"/>
<polyline points="335,294 305,313 315,343 265,362" fill="none" stroke="#3a3a3a" stroke-opacity="0.8" stroke-width="6" stroke-linejoin="round"/>
<polyline points="285,323 245,343 265,372 215,382" fill="none" stroke="#3a3a3a" stroke-opacity="0.8" stroke-width="6" stroke-linejoin="round"/>
<polyline points="365,294 335,352 295,391 235,421 185,430" fill="none" stroke="#3a3a3a" stroke-opacity="0.8" stroke-width="6" stroke-linejoin="round"/>
<polyline points="315,323 265,352 215,372 175,391" fill="none" stroke="#3a3a3a" stroke-opacity="0.8" stroke-width="6" stroke-linejoin="round"/>
</g>
<path d="M25,310C25,288 31,255 40,230C49,205 63,180 80,160C97,140 118,123 140,110C162,97 187,88 210,80C233,72 260,67 280,60C300,53 313,43 330,40C347,37 365,35 380,40C395,45 405,58 420,70C435,82 455,97 470,110C485,123 498,135 510,150C522,165 530,183 540,200C550,217 563,233 570,250C577,267 580,285 580,300C580,315 580,330 570,340C560,350 538,353 520,360C502,367 480,373 460,380C440,387 420,393 400,400C380,407 360,413 340,420C320,427 298,435 280,440C262,445 246,450 230,450C214,450 194,447 185,440C176,433 174,418 175,410C176,402 196,392 190,390C184,388 158,400 140,400C122,400 97,397 80,390C63,383 49,373 40,360C31,347 25,332 25,310Z" fill="none" stroke="#222" stroke-opacity="0.55" stroke-width="5" stroke-linejoin="round"/>
</g>
<g transform="translate(555,40) scale(0.10264)">
<clipPath id="bc3"><path d="M20,320C19,305 18,280 25,260C32,240 49,220 60,200C71,180 77,158 90,140C103,122 122,105 140,90C158,75 183,59 200,50C217,41 225,38 240,38C255,38 270,45 290,50C310,55 337,63 360,70C383,77 407,80 430,90C453,100 480,113 500,130C520,147 538,170 550,190C562,210 570,228 575,250C580,272 582,300 580,320C578,340 570,358 560,370C550,382 537,390 520,395C503,400 477,401 460,400C443,399 430,387 420,390C410,393 410,408 400,420C390,432 375,454 360,460C345,466 328,462 310,455C292,448 270,429 250,420C230,411 210,407 190,400C170,393 150,385 130,380C110,375 87,375 70,370C53,365 38,358 30,350C22,342 21,335 20,320Z"/></clipPath>
<path d="M20,320C19,305 18,280 25,260C32,240 49,220 60,200C71,180 77,158 90,140C103,122 122,105 140,90C158,75 183,59 200,50C217,41 225,38 240,38C255,38 270,45 290,50C310,55 337,63 360,70C383,77 407,80 430,90C453,100 480,113 500,130C520,147 538,170 550,190C562,210 570,228 575,250C580,272 582,300 580,320C578,340 570,358 560,370C550,382 537,390 520,395C503,400 477,401 460,400C443,399 430,387 420,390C410,393 410,408 400,420C390,432 375,454 360,460C345,466 328,462 310,455C292,448 270,429 250,420C230,411 210,407 190,400C170,393 150,385 130,380C110,375 87,375 70,370C53,365 38,358 30,350C22,342 21,335 20,320Z" fill="#9c131c"/>
<g clip-path="url(#bc3)">
<path d="M40,260C36,253 54,214 60,200C66,186 81,153 90,140C99,127 127,100 140,90C153,80 188,56 200,50C212,44 230,38 240,38C250,38 283,40 290,50C297,60 295,102 300,120C305,138 325,182 330,200C335,218 347,263 340,270C333,277 286,262 270,260C254,258 214,252 200,250C186,248 163,239 150,240C137,241 103,258 90,260C77,262 44,267 40,260Z" fill="#e63a32" stroke="#e63a32" stroke-width="6" stroke-linejoin="round"/>
<path d="M290,50C297,44 344,65 360,70C376,75 414,83 430,90C446,97 487,120 500,130C513,140 539,175 540,180C541,185 519,172 510,170C501,168 469,158 460,160C451,162 437,181 430,190C423,199 406,228 400,240C394,252 387,286 380,290C373,294 346,280 340,270C334,260 335,218 330,200C325,182 305,138 300,120C295,102 283,56 290,50Z" fill="#850e16" stroke="#850e16" stroke-width="6" stroke-linejoin="round"/>
<path d="M380,290C379,281 394,252 400,240C406,228 423,199 430,190C437,181 451,162 460,160C469,158 500,165 510,170C520,175 543,191 550,200C557,209 567,236 570,250C573,264 576,306 575,320C574,334 566,361 560,370C554,379 532,392 520,395C508,398 470,403 460,400C450,397 436,379 430,370C424,361 416,329 410,320C404,311 381,299 380,290Z" fill="#f27f62" stroke="#f27f62" stroke-width="6" stroke-linejoin="round"/>
<polyline points="471,130 421,150 362,130 322,100" fill="none" stroke="#000" stroke-opacity="0.28" stroke-width="7" stroke-linejoin="round" stroke-linecap="round"/>
<polyline points="530,220 471,200 421,215 382,200" fill="none" stroke="#000" stroke-opacity="0.28" stroke-width="7" stroke-linejoin="round" stroke-linecap="round"/>
<polyline points="332,60 342,120 322,170 342,230 332,280" fill="none" stroke="#000" stroke-opacity="0.28" stroke-width="7" stroke-linejoin="round" stroke-linecap="round"/>
<polyline points="273,50 293,110 273,160 302,220 283,260" fill="none" stroke="#000" stroke-opacity="0.28" stroke-width="7" stroke-linejoin="round" stroke-linecap="round"/>
<polyline points="223,45 233,100 213,150 243,230" fill="none" stroke="#000" stroke-opacity="0.28" stroke-width="7" stroke-linejoin="round" stroke-linecap="round"/>
<polyline points="203,140 154,160 104,180 65,220" fill="none" stroke="#000" stroke-opacity="0.28" stroke-width="7" stroke-linejoin="round" stroke-linecap="round"/>
<polyline points="392,310 322,290 243,260 164,245" fill="none" stroke="#000" stroke-opacity="0.28" stroke-width="7" stroke-linejoin="round" stroke-linecap="round"/>
<polyline points="382,370 302,340 223,310 154,290 104,300" fill="none" stroke="#000" stroke-opacity="0.28" stroke-width="7" stroke-linejoin="round" stroke-linecap="round"/>
<polyline points="352,420 273,400 193,370 134,340" fill="none" stroke="#000" stroke-opacity="0.28" stroke-width="7" stroke-linejoin="round" stroke-linecap="round"/>
<polyline points="144,90 124,140 84,160" fill="none" stroke="#000" stroke-opacity="0.28" stroke-width="7" stroke-linejoin="round" stroke-linecap="round"/>
<polyline points="501,300 451,290 421,300" fill="none" stroke="#000" stroke-opacity="0.28" stroke-width="7" stroke-linejoin="round" stroke-linecap="round"/>
<polyline points="174,60 184,110 164,150" fill="none" stroke="#000" stroke-opacity="0.28" stroke-width="7" stroke-linejoin="round" stroke-linecap="round"/>
<polyline points="104,230 65,260 45,300" fill="none" stroke="#000" stroke-opacity="0.28" stroke-width="7" stroke-linejoin="round" stroke-linecap="round"/>
<polyline points="421,100 392,150 412,190" fill="none" stroke="#000" stroke-opacity="0.28" stroke-width="7" stroke-linejoin="round" stroke-linecap="round"/>
<polyline points="521,250 491,240 461,260" fill="none" stroke="#000" stroke-opacity="0.28" stroke-width="7" stroke-linejoin="round" stroke-linecap="round"/>
<polyline points="550,280 511,270 481,290" fill="none" stroke="#000" stroke-opacity="0.28" stroke-width="7" stroke-linejoin="round" stroke-linecap="round"/>
<polyline points="540,330 491,320 451,335" fill="none" stroke="#000" stroke-opacity="0.28" stroke-width="7" stroke-linejoin="round" stroke-linecap="round"/>
<polyline points="491,170 441,180 402,160" fill="none" stroke="#000" stroke-opacity="0.28" stroke-width="7" stroke-linejoin="round" stroke-linecap="round"/>
<polyline points="312,70 302,90 317,110" fill="none" stroke="#000" stroke-opacity="0.28" stroke-width="7" stroke-linejoin="round" stroke-linecap="round"/>
<polyline points="253,80 263,130 243,170 263,200" fill="none" stroke="#000" stroke-opacity="0.28" stroke-width="7" stroke-linejoin="round" stroke-linecap="round"/>
<polyline points="184,70 164,100 144,120" fill="none" stroke="#000" stroke-opacity="0.28" stroke-width="7" stroke-linejoin="round" stroke-linecap="round"/>
<polyline points="124,110 104,150 114,190" fill="none" stroke="#000" stroke-opacity="0.28" stroke-width="7" stroke-linejoin="round" stroke-linecap="round"/>
<polyline points="174,190 134,200 94,240" fill="none" stroke="#000" stroke-opacity="0.28" stroke-width="7" stroke-linejoin="round" stroke-linecap="round"/>
<polyline points="362,400 302,380" fill="none" stroke="#000" stroke-opacity="0.28" stroke-width="7" stroke-linejoin="round" stroke-linecap="round"/>
<polyline points="223,400 174,380" fill="none" stroke="#000" stroke-opacity="0.28" stroke-width="7" stroke-linejoin="round" stroke-linecap="round"/>
<polyline points="84,280 55,320" fill="none" stroke="#000" stroke-opacity="0.28" stroke-width="7" stroke-linejoin="round" stroke-linecap="round"/>
<polyline points="124,260 94,300 65,340" fill="none" stroke="#000" stroke-opacity="0.28" stroke-width="7" stroke-linejoin="round" stroke-linecap="round"/>
<polyline points="293,290 263,275 223,280" fill="none" stroke="#000" stroke-opacity="0.28" stroke-width="7" stroke-linejoin="round" stroke-linecap="round"/>
<polyline points="410,379 384,392 354,397 335,420" fill="none" stroke="#000" stroke-opacity="0.22" stroke-width="6" stroke-linejoin="round" stroke-linecap="round"/>
<polyline points="434,116 420,137 408,159 384,169" fill="none" stroke="#000" stroke-opacity="0.22" stroke-width="6" stroke-linejoin="round" stroke-linecap="round"/>
<polyline points="554,102 542,129 532,157 533,186" fill="none" stroke="#000" stroke-opacity="0.22" stroke-width="6" stroke-linejoin="round" stroke-linecap="round"/>
<polyline points="536,91 548,115 567,135 591,147" fill="none" stroke="#000" stroke-opacity="0.22" stroke-width="6" stroke-linejoin="round" stroke-linecap="round"/>
<polyline points="322,198 324,227 307,250 311,278" fill="none" stroke="#000" stroke-opacity="0.22" stroke-width="6" stroke-linejoin="round" stroke-linecap="round"/>
<polyline points="90,312 83,286 92,261 91,234" fill="none" stroke="#000" stroke-opacity="0.22" stroke-width="6" stroke-linejoin="round" stroke-linecap="round"/>
<polyline points="426,411 408,423 401,443 394,464" fill="none" stroke="#000" stroke-opacity="0.22" stroke-width="6" stroke-linejoin="round" stroke-linecap="round"/>
<polyline points="389,430 376,412 373,391 372,369" fill="none" stroke="#000" stroke-opacity="0.22" stroke-width="6" stroke-linejoin="round" stroke-linecap="round"/>
<polyline points="166,299 144,290 120,285 103,269" fill="none" stroke="#000" stroke-opacity="0.22" stroke-width="6" stroke-linejoin="round" stroke-linecap="round"/>
<polyline points="250,237 256,254 260,271 266,287" fill="none" stroke="#000" stroke-opacity="0.22" stroke-width="6" stroke-linejoin="round" stroke-linecap="round"/>
<polyline points="495,153 497,167 505,179 513,191" fill="none" stroke="#000" stroke-opacity="0.22" stroke-width="6" stroke-linejoin="round" stroke-linecap="round"/>
<polyline points="437,72 418,88 397,103 375,115" fill="none" stroke="#000" stroke-opacity="0.22" stroke-width="6" stroke-linejoin="round" stroke-linecap="round"/>
<polyline points="253,209 263,225 277,236 280,254" fill="none" stroke="#000" stroke-opacity="0.22" stroke-width="6" stroke-linejoin="round" stroke-linecap="round"/>
<polyline points="455,303 438,301 421,294 404,289" fill="none" stroke="#000" stroke-opacity="0.22" stroke-width="6" stroke-linejoin="round" stroke-linecap="round"/>
<polyline points="369,404 353,393 334,387 318,375" fill="none" stroke="#000" stroke-opacity="0.22" stroke-width="6" stroke-linejoin="round" stroke-linecap="round"/>
<polyline points="247,65 240,78 227,85 214,91" fill="none" stroke="#000" stroke-opacity="0.22" stroke-width="6" stroke-linejoin="round" stroke-linecap="round"/>
<polyline points="508,139 520,150 525,165 539,173" fill="none" stroke="#000" stroke-opacity="0.22" stroke-width="6" stroke-linejoin="round" stroke-linecap="round"/>
<polyline points="526,271 515,280 501,283 493,294" fill="none" stroke="#000" stroke-opacity="0.22" stroke-width="6" stroke-linejoin="round" stroke-linecap="round"/>
<polyline points="135,112 128,125 121,137 109,147" fill="none" stroke="#000" stroke-opacity="0.22" stroke-width="6" stroke-linejoin="round" stroke-linecap="round"/>
<polyline points="172,308 148,306 134,287 134,263" fill="none" stroke="#000" stroke-opacity="0.22" stroke-width="6" stroke-linejoin="round" stroke-linecap="round"/>
<polyline points="473,188 485,198 486,214 493,228" fill="none" stroke="#000" stroke-opacity="0.22" stroke-width="6" stroke-linejoin="round" stroke-linecap="round"/>
<polyline points="493,147 498,163 495,181 489,197" fill="none" stroke="#000" stroke-opacity="0.22" stroke-width="6" stroke-linejoin="round" stroke-linecap="round"/>
<polyline points="532,149 541,160 539,174 535,188" fill="none" stroke="#000" stroke-opacity="0.22" stroke-width="6" stroke-linejoin="round" stroke-linecap="round"/>
<polyline points="287,188 298,210 322,218 346,211" fill="none" stroke="#000" stroke-opacity="0.22" stroke-width="6" stroke-linejoin="round" stroke-linecap="round"/>
<polyline points="465,338 448,342 431,340 416,332" fill="none" stroke="#000" stroke-opacity="0.22" stroke-width="6" stroke-linejoin="round" stroke-linecap="round"/>
<polyline points="164,184 167,213 149,235 143,264" fill="none" stroke="#000" stroke-opacity="0.22" stroke-width="6" stroke-linejoin="round" stroke-linecap="round"/>
<polyline points="369,275 373,294 366,312 348,320" fill="none" stroke="#000" stroke-opacity="0.22" stroke-width="6" stroke-linejoin="round" stroke-linecap="round"/>
<polyline points="305,185 295,204 291,224 289,245" fill="none" stroke="#000" stroke-opacity="0.22" stroke-width="6" stroke-linejoin="round" stroke-linecap="round"/>
<polyline points="333,149 322,168 301,175 285,190" fill="none" stroke="#000" stroke-opacity="0.22" stroke-width="6" stroke-linejoin="round" stroke-linecap="round"/>
<polyline points="448,376 429,381 410,379 392,370" fill="none" stroke="#000" stroke-opacity="0.22" stroke-width="6" stroke-linejoin="round" stroke-linecap="round"/>
<polyline points="151,112 140,137 129,162 113,183" fill="none" stroke="#000" stroke-opacity="0.22" stroke-width="6" stroke-linejoin="round" stroke-linecap="round"/>
<polyline points="408,118 395,134 394,155 381,171" fill="none" stroke="#000" stroke-opacity="0.22" stroke-width="6" stroke-linejoin="round" stroke-linecap="round"/>
<polyline points="114,291 101,285 88,292 75,299" fill="none" stroke="#000" stroke-opacity="0.22" stroke-width="6" stroke-linejoin="round" stroke-linecap="round"/>
<polyline points="293,425 270,407 262,380 246,356" fill="none" stroke="#000" stroke-opacity="0.22" stroke-width="6" stroke-linejoin="round" stroke-linecap="round"/>
<polyline points="90,302 69,313 47,321 23,318" fill="none" stroke="#000" stroke-opacity="0.22" stroke-width="6" stroke-linejoin="round" stroke-linecap="round"/>
<polyline points="540,135 528,152 525,172 523,192" fill="none" stroke="#000" stroke-opacity="0.22" stroke-width="6" stroke-linejoin="round" stroke-linecap="round"/>
<polyline points="238,82 239,100 232,117 221,132" fill="none" stroke="#000" stroke-opacity="0.22" stroke-width="6" stroke-linejoin="round" stroke-linecap="round"/>
<polyline points="167,305 146,321 133,343 113,360" fill="none" stroke="#000" stroke-opacity="0.22" stroke-width="6" stroke-linejoin="round" stroke-linecap="round"/>
<polyline points="330,251 320,272 300,284 276,285" fill="none" stroke="#000" stroke-opacity="0.22" stroke-width="6" stroke-linejoin="round" stroke-linecap="round"/>
<polyline points="511,278 504,296 489,308 471,317" fill="none" stroke="#000" stroke-opacity="0.22" stroke-width="6" stroke-linejoin="round" stroke-linecap="round"/>
</g>
<path d="M20,320C19,305 18,280 25,260C32,240 49,220 60,200C71,180 77,158 90,140C103,122 122,105 140,90C158,75 183,59 200,50C217,41 225,38 240,38C255,38 270,45 290,50C310,55 337,63 360,70C383,77 407,80 430,90C453,100 480,113 500,130C520,147 538,170 550,190C562,210 570,228 575,250C580,272 582,300 580,320C578,340 570,358 560,370C550,382 537,390 520,395C503,400 477,401 460,400C443,399 430,387 420,390C410,393 410,408 400,420C390,432 375,454 360,460C345,466 328,462 310,455C292,448 270,429 250,420C230,411 210,407 190,400C170,393 150,385 130,380C110,375 87,375 70,370C53,365 38,358 30,350C22,342 21,335 20,320Z" fill="none" stroke="#222" stroke-opacity="0.55" stroke-width="5" stroke-linejoin="round"/>
</g>
<g transform="translate(370,148) scale(0.10264)">
<clipPath id="bc4"><path d="M85,330C83,308 84,282 90,260C96,238 107,218 120,200C133,182 150,165 170,150C190,135 215,122 240,110C265,98 293,88 320,80C347,72 377,63 400,60C423,57 440,55 460,60C480,65 502,77 520,90C538,103 555,120 570,140C585,160 598,190 610,210C622,230 633,242 640,260C647,278 650,300 650,320C650,340 647,367 640,380C633,393 623,397 610,400C597,403 575,398 560,400C545,402 535,405 520,410C505,415 490,422 470,430C450,438 423,448 400,455C377,462 353,467 330,470C307,473 275,480 260,475C245,470 252,446 240,440C228,434 208,443 190,440C172,437 145,428 130,420C115,412 108,405 100,390C92,375 87,352 85,330Z"/></clipPath>
<path d="M85,330C83,308 84,282 90,260C96,238 107,218 120,200C133,182 150,165 170,150C190,135 215,122 240,110C265,98 293,88 320,80C347,72 377,63 400,60C423,57 440,55 460,60C480,65 502,77 520,90C538,103 555,120 570,140C585,160 598,190 610,210C622,230 633,242 640,260C647,278 650,300 650,320C650,340 647,367 640,380C633,393 623,397 610,400C597,403 575,398 560,400C545,402 535,405 520,410C505,415 490,422 470,430C450,438 423,448 400,455C377,462 353,467 330,470C307,473 275,480 260,475C245,470 252,446 240,440C228,434 208,443 190,440C172,437 145,428 130,420C115,412 108,405 100,390C92,375 87,352 85,330Z" fill="#68aad9"/>
<g clip-path="url(#bc4)">
<path d="M85,330C84,315 86,275 90,260C94,245 107,209 120,200C133,191 186,176 200,180C214,184 232,218 240,230C248,242 268,268 270,280C272,292 264,321 260,330C256,339 240,347 240,360C240,373 266,431 260,440C254,449 205,442 190,440C175,438 140,426 130,420C120,414 105,400 100,390C95,380 86,345 85,330Z" fill="#1b4f9a" stroke="#1b4f9a" stroke-width="6" stroke-linejoin="round"/>
<path d="M120,200C116,196 156,160 170,150C184,140 222,118 240,110C258,102 308,79 320,80C332,81 342,108 340,120C338,132 306,166 300,180C294,194 294,228 290,240C286,252 276,281 270,280C264,279 248,242 240,230C232,218 214,184 200,180C186,176 124,204 120,200Z" fill="#a1cbea" stroke="#a1cbea" stroke-width="6" stroke-linejoin="round"/>
<path d="M260,350C270,343 324,327 340,320C356,313 386,296 400,290C414,284 447,271 460,270C473,269 501,274 510,280C519,286 539,308 540,320C541,332 528,367 520,380C512,393 484,421 470,430C456,439 416,450 400,455C384,460 346,468 330,470C314,472 270,478 260,475C250,472 241,451 240,440C239,429 248,390 250,380C252,370 250,357 260,350Z" fill="#d6e7f5" stroke="#d6e7f5" stroke-width="6" stroke-linejoin="round"/>
<path d="M540,310C549,298 608,261 620,260C632,259 642,287 645,300C648,313 649,358 645,370C641,382 620,396 610,400C600,404 568,405 560,400C552,395 542,370 540,360C538,350 531,322 540,310Z" fill="#ececec" stroke="#ececec" stroke-width="6" stroke-linejoin="round"/>
<path d="M500,385C502,380 533,368 540,370C547,372 562,395 560,400C558,405 527,412 520,410C513,408 498,390 500,385Z" fill="#2a5ea8" stroke="#2a5ea8" stroke-width="6" stroke-linejoin="round"/>
<polyline points="195,150 245,170 305,150 345,121" fill="none" stroke="#000" stroke-opacity="0.28" stroke-width="7" stroke-linejoin="round" stroke-linecap="round"/>
<polyline points="135,239 195,219 245,234 285,219" fill="none" stroke="#000" stroke-opacity="0.28" stroke-width="7" stroke-linejoin="round" stroke-linecap="round"/>
<polyline points="335,82 325,141 345,190 325,249 335,298" fill="none" stroke="#000" stroke-opacity="0.28" stroke-width="7" stroke-linejoin="round" stroke-linecap="round"/>
<polyline points="395,72 375,131 395,180 365,239 385,278" fill="none" stroke="#000" stroke-opacity="0.28" stroke-width="7" stroke-linejoin="round" stroke-linecap="round"/>
<polyline points="445,67 435,121 455,170 425,249" fill="none" stroke="#000" stroke-opacity="0.28" stroke-width="7" stroke-linejoin="round" stroke-linecap="round"/>
<polyline points="465,160 515,180 565,200 605,239" fill="none" stroke="#000" stroke-opacity="0.28" stroke-width="7" stroke-linejoin="round" stroke-linecap="round"/>
<polyline points="275,327 345,308 425,278 505,264" fill="none" stroke="#000" stroke-opacity="0.28" stroke-width="7" stroke-linejoin="round" stroke-linecap="round"/>
<polyline points="285,386 365,357 445,327 515,308 565,318" fill="none" stroke="#000" stroke-opacity="0.28" stroke-width="7" stroke-linejoin="round" stroke-linecap="round"/>
<polyline points="315,436 395,416 475,386 535,357" fill="none" stroke="#000" stroke-opacity="0.28" stroke-width="7" stroke-linejoin="round" stroke-linecap="round"/>
<polyline points="525,111 545,160 585,180" fill="none" stroke="#000" stroke-opacity="0.28" stroke-width="7" stroke-linejoin="round" stroke-linecap="round"/>
<polyline points="165,318 215,308 245,318" fill="none" stroke="#000" stroke-opacity="0.28" stroke-width="7" stroke-linejoin="round" stroke-linecap="round"/>
<polyline points="495,82 485,131 505,170" fill="none" stroke="#000" stroke-opacity="0.28" stroke-width="7" stroke-linejoin="round" stroke-linecap="round"/>
<polyline points="565,249 605,278 625,318" fill="none" stroke="#000" stroke-opacity="0.28" stroke-width="7" stroke-linejoin="round" stroke-linecap="round"/>
<polyline points="245,121 275,170 255,209" fill="none" stroke="#000" stroke-opacity="0.28" stroke-width="7" stroke-linejoin="round" stroke-linecap="round"/>
<polyline points="145,268 175,259 205,278" fill="none" stroke="#000" stroke-opacity="0.28" stroke-width="7" stroke-linejoin="round" stroke-linecap="round"/>
<polyline points="115,298 155,288 185,308" fill="none" stroke="#000" stroke-opacity="0.28" stroke-width="7" stroke-linejoin="round" stroke-linecap="round"/>
<polyline points="125,347 175,337 215,352" fill="none" stroke="#000" stroke-opacity="0.28" stroke-width="7" stroke-linejoin="round" stroke-linecap="round"/>
<polyline points="175,190 225,200 265,180" fill="none" stroke="#000" stroke-opacity="0.28" stroke-width="7" stroke-linejoin="round" stroke-linecap="round"/>
<polyline points="355,91 365,111 350,131" fill="none" stroke="#000" stroke-opacity="0.28" stroke-width="7" stroke-linejoin="round" stroke-linecap="round"/>
<polyline points="415,101 405,150 425,190 405,219" fill="none" stroke="#000" stroke-opacity="0.28" stroke-width="7" stroke-linejoin="round" stroke-linecap="round"/>
<polyline points="485,91 505,121 525,141" fill="none" stroke="#000" stroke-opacity="0.28" stroke-width="7" stroke-linejoin="round" stroke-linecap="round"/>
<polyline points="545,131 565,170 555,209" fill="none" stroke="#000" stroke-opacity="0.28" stroke-width="7" stroke-linejoin="round" stroke-linecap="round"/>
<polyline points="495,209 535,219 575,259" fill="none" stroke="#000" stroke-opacity="0.28" stroke-width="7" stroke-linejoin="round" stroke-linecap="round"/>
<polyline points="305,416 365,396" fill="none" stroke="#000" stroke-opacity="0.28" stroke-width="7" stroke-linejoin="round" stroke-linecap="round"/>
<polyline points="445,416 495,396" fill="none" stroke="#000" stroke-opacity="0.28" stroke-width="7" stroke-linejoin="round" stroke-linecap="round"/>
<polyline points="585,298 615,337" fill="none" stroke="#000" stroke-opacity="0.28" stroke-width="7" stroke-linejoin="round" stroke-linecap="round"/>
<polyline points="545,278 575,318 605,357" fill="none" stroke="#000" stroke-opacity="0.28" stroke-width="7" stroke-linejoin="round" stroke-linecap="round"/>
<polyline points="375,308 405,293 445,298" fill="none" stroke="#000" stroke-opacity="0.28" stroke-width="7" stroke-linejoin="round" stroke-linecap="round"/>
<polyline points="111,122 128,140 153,143 176,135" fill="none" stroke="#000" stroke-opacity="0.22" stroke-width="6" stroke-linejoin="round" stroke-linecap="round"/>
<polyline points="503,135 515,157 525,179 537,200" fill="none" stroke="#000" stroke-opacity="0.22" stroke-width="6" stroke-linejoin="round" stroke-linecap="round"/>
<polyline points="322,454 334,458 348,460 361,455" fill="none" stroke="#000" stroke-opacity="0.22" stroke-width="6" stroke-linejoin="round" stroke-linecap="round"/>
<polyline points="278,217 282,233 283,250 282,267" fill="none" stroke="#000" stroke-opacity="0.22" stroke-width="6" stroke-linejoin="round" stroke-linecap="round"/>
<polyline points="606,395 622,399 628,415 644,420" fill="none" stroke="#000" stroke-opacity="0.22" stroke-width="6" stroke-linejoin="round" stroke-linecap="round"/>
<polyline points="491,406 507,412 519,423 535,427" fill="none" stroke="#000" stroke-opacity="0.22" stroke-width="6" stroke-linejoin="round" stroke-linecap="round"/>
<polyline points="441,162 453,177 467,190 477,206" fill="none" stroke="#000" stroke-opacity="0.22" stroke-width="6" stroke-linejoin="round" stroke-linecap="round"/>
<polyline points="544,440 570,455 600,460 627,448" fill="none" stroke="#000" stroke-opacity="0.22" stroke-width="6" stroke-linejoin="round" stroke-linecap="round"/>
<polyline points="432,285 439,298 434,312 427,325" fill="none" stroke="#000" stroke-opacity="0.22" stroke-width="6" stroke-linejoin="round" stroke-linecap="round"/>
<polyline points="470,116 465,144 440,158 426,183" fill="none" stroke="#000" stroke-opacity="0.22" stroke-width="6" stroke-linejoin="round" stroke-linecap="round"/>
<polyline points="344,380 370,376 387,356 387,329" fill="none" stroke="#000" stroke-opacity="0.22" stroke-width="6" stroke-linejoin="round" stroke-linecap="round"/>
<polyline points="621,125 618,143 605,157 592,171" fill="none" stroke="#000" stroke-opacity="0.22" stroke-width="6" stroke-linejoin="round" stroke-linecap="round"/>
<polyline points="367,376 386,373 405,374 420,361" fill="none" stroke="#000" stroke-opacity="0.22" stroke-width="6" stroke-linejoin="round" stroke-linecap="round"/>
<polyline points="164,132 143,145 118,148 97,161" fill="none" stroke="#000" stroke-opacity="0.22" stroke-width="6" stroke-linejoin="round" stroke-linecap="round"/>
<polyline points="507,449 518,442 526,431 527,418" fill="none" stroke="#000" stroke-opacity="0.22" stroke-width="6" stroke-linejoin="round" stroke-linecap="round"/>
<polyline points="129,127 123,140 124,154 132,165" fill="none" stroke="#000" stroke-opacity="0.22" stroke-width="6" stroke-linejoin="round" stroke-linecap="round"/>
<polyline points="536,192 534,213 530,233 515,248" fill="none" stroke="#000" stroke-opacity="0.22" stroke-width="6" stroke-linejoin="round" stroke-linecap="round"/>
<polyline points="316,277 305,295 296,314 300,334" fill="none" stroke="#000" stroke-opacity="0.22" stroke-width="6" stroke-linejoin="round" stroke-linecap="round"/>
<polyline points="170,374 198,380 225,390 254,383" fill="none" stroke="#000" stroke-opacity="0.22" stroke-width="6" stroke-linejoin="round" stroke-linecap="round"/>
<polyline points="553,125 557,140 567,152 578,163" fill="none" stroke="#000" stroke-opacity="0.22" stroke-width="6" stroke-linejoin="round" stroke-linecap="round"/>
<polyline points="478,283 473,309 453,327 454,353" fill="none" stroke="#000" stroke-opacity="0.22" stroke-width="6" stroke-linejoin="round" stroke-linecap="round"/>
<polyline points="428,416 444,419 461,418 477,414" fill="none" stroke="#000" stroke-opacity="0.22" stroke-width="6" stroke-linejoin="round" stroke-linecap="round"/>
<polyline points="534,224 543,239 545,256 552,271" fill="none" stroke="#000" stroke-opacity="0.22" stroke-width="6" stroke-linejoin="round" stroke-linecap="round"/>
<polyline points="510,105 515,128 521,151 508,171" fill="none" stroke="#000" stroke-opacity="0.22" stroke-width="6" stroke-linejoin="round" stroke-linecap="round"/>
<polyline points="251,148 265,164 279,180 301,178" fill="none" stroke="#000" stroke-opacity="0.22" stroke-width="6" stroke-linejoin="round" stroke-linecap="round"/>
<polyline points="105,222 91,234 75,243 61,255" fill="none" stroke="#000" stroke-opacity="0.22" stroke-width="6" stroke-linejoin="round" stroke-linecap="round"/>
<polyline points="513,167 510,195 515,222 537,238" fill="none" stroke="#000" stroke-opacity="0.22" stroke-width="6" stroke-linejoin="round" stroke-linecap="round"/>
<polyline points="406,150 392,168 373,180 354,191" fill="none" stroke="#000" stroke-opacity="0.22" stroke-width="6" stroke-linejoin="round" stroke-linecap="round"/>
<polyline points="556,196 556,220 568,242 583,261" fill="none" stroke="#000" stroke-opacity="0.22" stroke-width="6" stroke-linejoin="round" stroke-linecap="round"/>
<polyline points="537,171 526,179 512,183 501,191" fill="none" stroke="#000" stroke-opacity="0.22" stroke-width="6" stroke-linejoin="round" stroke-linecap="round"/>
<polyline points="621,379 637,371 653,378 670,374" fill="none" stroke="#000" stroke-opacity="0.22" stroke-width="6" stroke-linejoin="round" stroke-linecap="round"/>
<polyline points="130,197 135,217 143,235 160,246" fill="none" stroke="#000" stroke-opacity="0.22" stroke-width="6" stroke-linejoin="round" stroke-linecap="round"/>
<polyline points="117,381 137,374 159,375 175,389" fill="none" stroke="#000" stroke-opacity="0.22" stroke-width="6" stroke-linejoin="round" stroke-linecap="round"/>
<polyline points="539,353 547,339 562,332 567,317" fill="none" stroke="#000" stroke-opacity="0.22" stroke-width="6" stroke-linejoin="round" stroke-linecap="round"/>
<polyline points="404,421 421,412 440,418 456,430" fill="none" stroke="#000" stroke-opacity="0.22" stroke-width="6" stroke-linejoin="round" stroke-linecap="round"/>
<polyline points="545,95 546,115 536,133 519,145" fill="none" stroke="#000" stroke-opacity="0.22" stroke-width="6" stroke-linejoin="round" stroke-linecap="round"/>
<polyline points="583,357 603,358 621,369 639,379" fill="none" stroke="#000" stroke-opacity="0.22" stroke-width="6" stroke-linejoin="round" stroke-linecap="round"/>
<polyline points="177,300 189,325 206,347 231,359" fill="none" stroke="#000" stroke-opacity="0.22" stroke-width="6" stroke-linejoin="round" stroke-linecap="round"/>
<polyline points="284,440 298,428 311,414 327,406" fill="none" stroke="#000" stroke-opacity="0.22" stroke-width="6" stroke-linejoin="round" stroke-linecap="round"/>
<polyline points="285,150 276,165 277,183 271,199" fill="none" stroke="#000" stroke-opacity="0.22" stroke-width="6" stroke-linejoin="round" stroke-linecap="round"/>
</g>
<path d="M85,330C83,308 84,282 90,260C96,238 107,218 120,200C133,182 150,165 170,150C190,135 215,122 240,110C265,98 293,88 320,80C347,72 377,63 400,60C423,57 440,55 460,60C480,65 502,77 520,90C538,103 555,120 570,140C585,160 598,190 610,210C622,230 633,242 640,260C647,278 650,300 650,320C650,340 647,367 640,380C633,393 623,397 610,400C597,403 575,398 560,400C545,402 535,405 520,410C505,415 490,422 470,430C450,438 423,448 400,455C377,462 353,467 330,470C307,473 275,480 260,475C245,470 252,446 240,440C228,434 208,443 190,440C172,437 145,428 130,420C115,412 108,405 100,390C92,375 87,352 85,330Z" fill="none" stroke="#222" stroke-opacity="0.55" stroke-width="5" stroke-linejoin="round"/>
</g>
<g transform="translate(432,148) scale(0.10264)">
<clipPath id="bc5"><path d="M90,400C81,386 83,345 85,320C87,295 91,273 100,250C109,227 125,202 140,180C155,158 172,138 190,120C208,102 232,85 250,75C268,65 278,62 300,60C322,58 353,60 380,65C407,70 433,78 460,90C487,102 517,122 540,140C563,158 583,178 600,200C617,222 632,247 640,270C648,293 653,318 650,340C647,362 635,385 620,400C605,415 582,422 560,430C538,438 508,445 490,450C472,455 465,457 450,460C435,463 418,471 400,470C382,469 360,462 340,455C320,448 303,438 280,430C257,422 223,414 200,410C177,406 158,407 140,405C122,403 99,414 90,400Z"/></clipPath>
<path d="M90,400C81,386 83,345 85,320C87,295 91,273 100,250C109,227 125,202 140,180C155,158 172,138 190,120C208,102 232,85 250,75C268,65 278,62 300,60C322,58 353,60 380,65C407,70 433,78 460,90C487,102 517,122 540,140C563,158 583,178 600,200C617,222 632,247 640,270C648,293 653,318 650,340C647,362 635,385 620,400C605,415 582,422 560,430C538,438 508,445 490,450C472,455 465,457 450,460C435,463 418,471 400,470C382,469 360,462 340,455C320,448 303,438 280,430C257,422 223,414 200,410C177,406 158,407 140,405C122,403 99,414 90,400Z" fill="#f5f5f5"/>
<g clip-path="url(#bc5)">
<path d="M270,70C272,63 287,61 300,60C313,59 361,62 380,65C399,68 441,81 460,90C479,99 524,127 540,140C556,153 588,185 600,200C612,215 635,254 640,270C645,286 650,331 645,340C640,349 610,347 600,345C590,343 566,328 560,320C554,312 555,289 550,280C545,271 530,249 520,240C510,231 476,207 460,200C444,193 399,185 380,180C361,175 312,167 300,160C288,153 284,130 280,120C276,110 268,77 270,70Z" fill="#9fcbec" stroke="#9fcbec" stroke-width="6" stroke-linejoin="round"/>
<path d="M550,280C554,279 554,312 560,320C566,328 590,343 600,345C610,347 643,334 645,340C647,346 630,390 620,400C610,410 575,424 560,430C545,436 500,451 490,450C480,449 469,428 470,420C471,412 493,390 500,380C507,370 524,342 530,330C536,318 546,281 550,280Z" fill="#1d4e98" stroke="#1d4e98" stroke-width="6" stroke-linejoin="round"/>
<path d="M170,392C174,388 216,382 230,380C244,378 280,373 290,374C300,375 312,387 320,390C328,393 350,399 360,403C370,407 400,419 410,423C420,427 440,436 445,440C450,444 455,456 450,460C445,464 413,471 400,470C387,469 354,460 340,455C326,450 296,435 280,430C264,425 213,416 200,412C187,408 166,396 170,392Z" fill="#1f4f9b" stroke="#1f4f9b" stroke-width="6" stroke-linejoin="round"/>
<path d="M110,240C112,233 142,197 150,190C158,183 178,176 180,180C182,184 176,212 170,220C164,228 137,248 130,250C123,252 108,247 110,240Z" fill="#a7d0ee" stroke="#a7d0ee" stroke-width="6" stroke-linejoin="round"/>
<polyline points="110,314 172,285 253,275" fill="none" stroke="#000" stroke-opacity="0.28" stroke-width="7" stroke-linejoin="round" stroke-linecap="round"/>
<polyline points="161,158 212,216 253,265" fill="none" stroke="#000" stroke-opacity="0.28" stroke-width="7" stroke-linejoin="round" stroke-linecap="round"/>
<polyline points="304,138 406,148 507,177 589,236 619,304" fill="none" stroke="#000" stroke-opacity="0.28" stroke-width="7" stroke-linejoin="round" stroke-linecap="round"/>
<polyline points="212,314 253,333 294,343" fill="none" stroke="#000" stroke-opacity="0.28" stroke-width="7" stroke-linejoin="round" stroke-linecap="round"/>
<polyline points="355,109 416,119 477,138" fill="none" stroke="#000" stroke-opacity="0.28" stroke-width="7" stroke-linejoin="round" stroke-linecap="round"/>
<polyline points="131,236 182,255" fill="none" stroke="#000" stroke-opacity="0.28" stroke-width="7" stroke-linejoin="round" stroke-linecap="round"/>
<polyline points="457,148 538,187" fill="none" stroke="#000" stroke-opacity="0.28" stroke-width="7" stroke-linejoin="round" stroke-linecap="round"/>
<polyline points="202,343 253,363" fill="none" stroke="#000" stroke-opacity="0.28" stroke-width="7" stroke-linejoin="round" stroke-linecap="round"/>
<polyline points="528,314 579,343" fill="none" stroke="#000" stroke-opacity="0.28" stroke-width="7" stroke-linejoin="round" stroke-linecap="round"/>
<polyline points="273,304 284,245 345,206 426,202 497,216 558,250 589,304 579,343" fill="none" stroke="#000" stroke-opacity="0.28" stroke-width="7" stroke-linejoin="round" stroke-linecap="round"/>
<polyline points="253,197 294,167 355,158" fill="none" stroke="#000" stroke-opacity="0.28" stroke-width="7" stroke-linejoin="round" stroke-linecap="round"/>
<polyline points="202,265 233,245" fill="none" stroke="#000" stroke-opacity="0.28" stroke-width="7" stroke-linejoin="round" stroke-linecap="round"/>
<polyline points="294,314 324,285 355,304 334,343 385,363 416,343 457,372 436,402 477,411 497,392" fill="none" stroke="#3a3a3a" stroke-opacity="0.8" stroke-width="6" stroke-linejoin="round"/>
<polyline points="314,275 304,333 345,372 395,392 426,421 467,441" fill="none" stroke="#3a3a3a" stroke-opacity="0.8" stroke-width="6" stroke-linejoin="round"/>
<polyline points="334,314 365,333 355,363 406,382" fill="none" stroke="#3a3a3a" stroke-opacity="0.8" stroke-width="6" stroke-linejoin="round"/>
<polyline points="385,343 426,363 406,392 457,402" fill="none" stroke="#3a3a3a" stroke-opacity="0.8" stroke-width="6" stroke-linejoin="round"/>
<polyline points="304,314 334,372 375,411 436,441 487,450" fill="none" stroke="#3a3a3a" stroke-opacity="0.8" stroke-width="6" stroke-linejoin="round"/>
<polyline points="355,343 406,372 457,392 497,411" fill="none" stroke="#3a3a3a" stroke-opacity="0.8" stroke-width="6" stroke-linejoin="round"/>
</g>
<path d="M90,400C81,386 83,345 85,320C87,295 91,273 100,250C109,227 125,202 140,180C155,158 172,138 190,120C208,102 232,85 250,75C268,65 278,62 300,60C322,58 353,60 380,65C407,70 433,78 460,90C487,102 517,122 540,140C563,158 583,178 600,200C617,222 632,247 640,270C648,293 653,318 650,340C647,362 635,385 620,400C605,415 582,422 560,430C538,438 508,445 490,450C472,455 465,457 450,460C435,463 418,471 400,470C382,469 360,462 340,455C320,448 303,438 280,430C257,422 223,414 200,410C177,406 158,407 140,405C122,403 99,414 90,400Z" fill="none" stroke="#222" stroke-opacity="0.55" stroke-width="5" stroke-linejoin="round"/>
</g>
<g transform="translate(494,148) scale(0.10264)">
<clipPath id="bc6"><path d="M80,350C78,328 80,303 85,280C90,257 98,232 110,210C122,188 140,167 160,150C180,133 205,122 230,110C255,98 285,88 310,80C335,72 360,64 380,60C400,56 413,52 430,55C447,58 463,69 480,80C497,91 513,103 530,120C547,137 567,160 580,180C593,200 602,220 610,240C618,260 625,280 630,300C635,320 642,343 640,360C638,377 633,392 620,400C607,408 580,405 560,410C540,415 523,423 500,430C477,437 447,444 420,450C393,456 365,462 340,465C315,468 287,472 270,470C253,468 252,455 240,450C228,445 217,443 200,440C183,437 157,435 140,430C123,425 110,423 100,410C90,397 82,372 80,350Z"/></clipPath>
<path d="M80,350C78,328 80,303 85,280C90,257 98,232 110,210C122,188 140,167 160,150C180,133 205,122 230,110C255,98 285,88 310,80C335,72 360,64 380,60C400,56 413,52 430,55C447,58 463,69 480,80C497,91 513,103 530,120C547,137 567,160 580,180C593,200 602,220 610,240C618,260 625,280 630,300C635,320 642,343 640,360C638,377 633,392 620,400C607,408 580,405 560,410C540,415 523,423 500,430C477,437 447,444 420,450C393,456 365,462 340,465C315,468 287,472 270,470C253,468 252,455 240,450C228,445 217,443 200,440C183,437 157,435 140,430C123,425 110,423 100,410C90,397 82,372 80,350Z" fill="#f6f6f6"/>
<g clip-path="url(#bc6)">
<path d="M330,80C335,67 368,63 380,60C392,57 418,53 430,55C442,57 468,72 480,80C492,88 518,108 530,120C542,132 572,167 580,180C588,193 605,218 600,230C595,242 552,271 540,280C528,289 507,310 500,310C493,310 484,289 480,280C476,271 475,240 470,230C465,220 450,196 440,190C430,184 392,182 380,180C368,178 346,182 340,170C334,158 325,93 330,80Z" fill="#bcdcf3" stroke="#bcdcf3" stroke-width="6" stroke-linejoin="round"/>
<path d="M80,350C80,342 92,346 100,345C108,344 143,345 150,340C157,335 155,306 160,300C165,294 185,285 190,290C195,295 194,330 200,340C206,350 232,371 240,380C248,389 270,413 270,420C270,427 255,439 240,440C225,441 156,434 140,430C124,426 107,419 100,410C93,401 80,358 80,350Z" fill="#8fc5ea" stroke="#8fc5ea" stroke-width="6" stroke-linejoin="round"/>
<polyline points="615,312 554,282 474,272" fill="none" stroke="#000" stroke-opacity="0.28" stroke-width="7" stroke-linejoin="round" stroke-linecap="round"/>
<polyline points="564,154 514,213 474,262" fill="none" stroke="#000" stroke-opacity="0.28" stroke-width="7" stroke-linejoin="round" stroke-linecap="round"/>
<polyline points="423,134 322,144 221,174 141,233 110,302" fill="none" stroke="#000" stroke-opacity="0.28" stroke-width="7" stroke-linejoin="round" stroke-linecap="round"/>
<polyline points="514,312 474,332 433,342" fill="none" stroke="#000" stroke-opacity="0.28" stroke-width="7" stroke-linejoin="round" stroke-linecap="round"/>
<polyline points="373,104 312,114 252,134" fill="none" stroke="#000" stroke-opacity="0.28" stroke-width="7" stroke-linejoin="round" stroke-linecap="round"/>
<polyline points="595,233 544,253" fill="none" stroke="#000" stroke-opacity="0.28" stroke-width="7" stroke-linejoin="round" stroke-linecap="round"/>
<polyline points="272,144 191,183" fill="none" stroke="#000" stroke-opacity="0.28" stroke-width="7" stroke-linejoin="round" stroke-linecap="round"/>
<polyline points="524,342 474,361" fill="none" stroke="#000" stroke-opacity="0.28" stroke-width="7" stroke-linejoin="round" stroke-linecap="round"/>
<polyline points="201,312 151,342" fill="none" stroke="#000" stroke-opacity="0.28" stroke-width="7" stroke-linejoin="round" stroke-linecap="round"/>
<polyline points="453,302 443,243 383,203 302,198 231,213 171,248 141,302 151,342" fill="none" stroke="#000" stroke-opacity="0.28" stroke-width="7" stroke-linejoin="round" stroke-linecap="round"/>
<polyline points="474,193 433,164 373,154" fill="none" stroke="#000" stroke-opacity="0.28" stroke-width="7" stroke-linejoin="round" stroke-linecap="round"/>
<polyline points="524,262 494,243" fill="none" stroke="#000" stroke-opacity="0.28" stroke-width="7" stroke-linejoin="round" stroke-linecap="round"/>
<polyline points="433,312 403,282 373,302 393,342 342,361 312,342 272,371 292,401 252,411 231,391" fill="none" stroke="#3a3a3a" stroke-opacity="0.8" stroke-width="6" stroke-linejoin="round"/>
<polyline points="413,272 423,332 383,371 332,391 302,421 262,440" fill="none" stroke="#3a3a3a" stroke-opacity="0.8" stroke-width="6" stroke-linejoin="round"/>
<polyline points="393,312 363,332 373,361 322,381" fill="none" stroke="#3a3a3a" stroke-opacity="0.8" stroke-width="6" stroke-linejoin="round"/>
<polyline points="342,342 302,361 322,391 272,401" fill="none" stroke="#3a3a3a" stroke-opacity="0.8" stroke-width="6" stroke-linejoin="round"/>
<polyline points="423,312 393,371 352,411 292,440 241,450" fill="none" stroke="#3a3a3a" stroke-opacity="0.8" stroke-width="6" stroke-linejoin="round"/>
<polyline points="373,342 322,371 272,391 231,411" fill="none" stroke="#3a3a3a" stroke-opacity="0.8" stroke-width="6" stroke-linejoin="round"/>
</g>
<path d="M80,350C78,328 80,303 85,280C90,257 98,232 110,210C122,188 140,167 160,150C180,133 205,122 230,110C255,98 285,88 310,80C335,72 360,64 380,60C400,56 413,52 430,55C447,58 463,69 480,80C497,91 513,103 530,120C547,137 567,160 580,180C593,200 602,220 610,240C618,260 625,280 630,300C635,320 642,343 640,360C638,377 633,392 620,400C607,408 580,405 560,410C540,415 523,423 500,430C477,437 447,444 420,450C393,456 365,462 340,465C315,468 287,472 270,470C253,468 252,455 240,450C228,445 217,443 200,440C183,437 157,435 140,430C123,425 110,423 100,410C90,397 82,372 80,350Z" fill="none" stroke="#222" stroke-opacity="0.55" stroke-width="5" stroke-linejoin="round"/>
</g>
<g transform="translate(555,148) scale(0.10264)">
<clipPath id="bc7"><path d="M90,380C89,363 88,322 95,300C102,278 121,268 130,250C139,232 138,212 150,190C162,168 182,140 200,120C218,100 240,81 260,70C280,59 300,56 320,55C340,54 358,61 380,65C402,69 427,72 450,80C473,88 498,97 520,110C542,123 562,140 580,160C598,180 618,207 630,230C642,253 652,277 655,300C658,323 656,352 650,370C644,388 635,398 620,410C605,422 580,435 560,440C540,445 513,437 500,440C487,443 493,455 480,460C467,465 440,472 420,470C400,468 382,458 360,450C338,442 313,427 290,420C267,413 243,412 220,410C197,408 170,412 150,410C130,408 110,405 100,400C90,395 91,397 90,380Z"/></clipPath>
<path d="M90,380C89,363 88,322 95,300C102,278 121,268 130,250C139,232 138,212 150,190C162,168 182,140 200,120C218,100 240,81 260,70C280,59 300,56 320,55C340,54 358,61 380,65C402,69 427,72 450,80C473,88 498,97 520,110C542,123 562,140 580,160C598,180 618,207 630,230C642,253 652,277 655,300C658,323 656,352 650,370C644,388 635,398 620,410C605,422 580,435 560,440C540,445 513,437 500,440C487,443 493,455 480,460C467,465 440,472 420,470C400,468 382,458 360,450C338,442 313,427 290,420C267,413 243,412 220,410C197,408 170,412 150,410C130,408 110,405 100,400C90,395 91,397 90,380Z" fill="#f4f4f4"/>
<g clip-path="url(#bc7)">
<path d="M130,250C131,237 142,205 150,190C158,175 187,134 200,120C213,106 246,78 260,70C274,62 308,54 320,55C332,56 353,69 360,80C367,91 375,132 380,150C385,168 396,212 400,230C404,248 412,293 410,300C408,307 390,292 380,290C370,288 334,280 320,280C306,280 274,288 260,290C246,292 214,299 200,300C186,301 148,306 140,300C132,294 129,263 130,250Z" fill="#a8cdeb" stroke="#a8cdeb" stroke-width="6" stroke-linejoin="round"/>
<path d="M450,250C454,242 472,228 480,220C488,212 511,181 520,180C529,179 550,204 560,210C570,216 601,221 610,230C619,239 635,274 640,290C645,306 652,356 650,370C648,384 630,402 620,410C610,418 574,436 560,440C546,444 509,445 500,440C491,435 481,409 480,400C479,391 492,368 490,360C488,352 465,338 460,330C455,322 451,299 450,290C449,281 446,258 450,250Z" fill="#4190cc" stroke="#4190cc" stroke-width="6" stroke-linejoin="round"/>
<polyline points="545,145 495,165 435,145 395,116" fill="none" stroke="#000" stroke-opacity="0.28" stroke-width="7" stroke-linejoin="round" stroke-linecap="round"/>
<polyline points="605,234 545,214 495,229 455,214" fill="none" stroke="#000" stroke-opacity="0.28" stroke-width="7" stroke-linejoin="round" stroke-linecap="round"/>
<polyline points="405,77 415,136 395,185 415,244 405,293" fill="none" stroke="#000" stroke-opacity="0.28" stroke-width="7" stroke-linejoin="round" stroke-linecap="round"/>
<polyline points="345,67 365,126 345,175 375,234 355,273" fill="none" stroke="#000" stroke-opacity="0.28" stroke-width="7" stroke-linejoin="round" stroke-linecap="round"/>
<polyline points="295,62 305,116 285,165 315,244" fill="none" stroke="#000" stroke-opacity="0.28" stroke-width="7" stroke-linejoin="round" stroke-linecap="round"/>
<polyline points="275,155 225,175 175,195 135,234" fill="none" stroke="#000" stroke-opacity="0.28" stroke-width="7" stroke-linejoin="round" stroke-linecap="round"/>
<polyline points="465,322 395,303 315,273 235,259" fill="none" stroke="#000" stroke-opacity="0.28" stroke-width="7" stroke-linejoin="round" stroke-linecap="round"/>
<polyline points="455,381 375,352 295,322 225,303 175,313" fill="none" stroke="#000" stroke-opacity="0.28" stroke-width="7" stroke-linejoin="round" stroke-linecap="round"/>
<polyline points="425,431 345,411 265,381 205,352" fill="none" stroke="#000" stroke-opacity="0.28" stroke-width="7" stroke-linejoin="round" stroke-linecap="round"/>
<polyline points="215,106 195,155 155,175" fill="none" stroke="#000" stroke-opacity="0.28" stroke-width="7" stroke-linejoin="round" stroke-linecap="round"/>
<polyline points="575,313 525,303 495,313" fill="none" stroke="#000" stroke-opacity="0.28" stroke-width="7" stroke-linejoin="round" stroke-linecap="round"/>
<polyline points="245,77 255,126 235,165" fill="none" stroke="#000" stroke-opacity="0.28" stroke-width="7" stroke-linejoin="round" stroke-linecap="round"/>
<polyline points="175,244 135,273 115,313" fill="none" stroke="#000" stroke-opacity="0.28" stroke-width="7" stroke-linejoin="round" stroke-linecap="round"/>
<polyline points="495,116 465,165 485,204" fill="none" stroke="#000" stroke-opacity="0.28" stroke-width="7" stroke-linejoin="round" stroke-linecap="round"/>
<polyline points="595,263 565,254 535,273" fill="none" stroke="#000" stroke-opacity="0.28" stroke-width="7" stroke-linejoin="round" stroke-linecap="round"/>
<polyline points="625,293 585,283 555,303" fill="none" stroke="#000" stroke-opacity="0.28" stroke-width="7" stroke-linejoin="round" stroke-linecap="round"/>
<polyline points="615,342 565,332 525,347" fill="none" stroke="#000" stroke-opacity="0.28" stroke-width="7" stroke-linejoin="round" stroke-linecap="round"/>
<polyline points="565,185 515,195 475,175" fill="none" stroke="#000" stroke-opacity="0.28" stroke-width="7" stroke-linejoin="round" stroke-linecap="round"/>
<polyline points="385,86 375,106 390,126" fill="none" stroke="#000" stroke-opacity="0.28" stroke-width="7" stroke-linejoin="round" stroke-linecap="round"/>
<polyline points="325,96 335,145 315,185 335,214" fill="none" stroke="#000" stroke-opacity="0.28" stroke-width="7" stroke-linejoin="round" stroke-linecap="round"/>
<polyline points="255,86 235,116 215,136" fill="none" stroke="#000" stroke-opacity="0.28" stroke-width="7" stroke-linejoin="round" stroke-linecap="round"/>
<polyline points="195,126 175,165 185,204" fill="none" stroke="#000" stroke-opacity="0.28" stroke-width="7" stroke-linejoin="round" stroke-linecap="round"/>
<polyline points="245,204 205,214 165,254" fill="none" stroke="#000" stroke-opacity="0.28" stroke-width="7" stroke-linejoin="round" stroke-linecap="round"/>
<polyline points="435,411 375,391" fill="none" stroke="#000" stroke-opacity="0.28" stroke-width="7" stroke-linejoin="round" stroke-linecap="round"/>
<polyline points="295,411 245,391" fill="none" stroke="#000" stroke-opacity="0.28" stroke-width="7" stroke-linejoin="round" stroke-linecap="round"/>
<polyline points="155,293 125,332" fill="none" stroke="#000" stroke-opacity="0.28" stroke-width="7" stroke-linejoin="round" stroke-linecap="round"/>
<polyline points="195,273 165,313 135,352" fill="none" stroke="#000" stroke-opacity="0.28" stroke-width="7" stroke-linejoin="round" stroke-linecap="round"/>
<polyline points="365,303 335,288 295,293" fill="none" stroke="#000" stroke-opacity="0.28" stroke-width="7" stroke-linejoin="round" stroke-linecap="round"/>
<polyline points="624,95 606,108 592,124 570,125" fill="none" stroke="#000" stroke-opacity="0.22" stroke-width="6" stroke-linejoin="round" stroke-linecap="round"/>
<polyline points="194,448 177,449 161,447 148,457" fill="none" stroke="#000" stroke-opacity="0.22" stroke-width="6" stroke-linejoin="round" stroke-linecap="round"/>
<polyline points="313,79 325,90 340,96 351,108" fill="none" stroke="#000" stroke-opacity="0.22" stroke-width="6" stroke-linejoin="round" stroke-linecap="round"/>
<polyline points="328,397 320,370 315,342 318,314" fill="none" stroke="#000" stroke-opacity="0.22" stroke-width="6" stroke-linejoin="round" stroke-linecap="round"/>
<polyline points="573,279 578,300 593,316 615,317" fill="none" stroke="#000" stroke-opacity="0.22" stroke-width="6" stroke-linejoin="round" stroke-linecap="round"/>
<polyline points="207,337 184,330 163,343 161,367" fill="none" stroke="#000" stroke-opacity="0.22" stroke-width="6" stroke-linejoin="round" stroke-linecap="round"/>
<polyline points="454,274 465,286 480,290 495,284" fill="none" stroke="#000" stroke-opacity="0.22" stroke-width="6" stroke-linejoin="round" stroke-linecap="round"/>
<polyline points="425,190 423,211 412,228 394,238" fill="none" stroke="#000" stroke-opacity="0.22" stroke-width="6" stroke-linejoin="round" stroke-linecap="round"/>
<polyline points="189,435 163,426 152,401 156,374" fill="none" stroke="#000" stroke-opacity="0.22" stroke-width="6" stroke-linejoin="round" stroke-linecap="round"/>
<polyline points="235,333 225,309 215,285 214,259" fill="none" stroke="#000" stroke-opacity="0.22" stroke-width="6" stroke-linejoin="round" stroke-linecap="round"/>
<polyline points="150,324 132,306 111,292 86,297" fill="none" stroke="#000" stroke-opacity="0.22" stroke-width="6" stroke-linejoin="round" stroke-linecap="round"/>
<polyline points="133,269 134,294 136,320 130,345" fill="none" stroke="#000" stroke-opacity="0.22" stroke-width="6" stroke-linejoin="round" stroke-linecap="round"/>
<polyline points="189,247 185,269 194,289 196,312" fill="none" stroke="#000" stroke-opacity="0.22" stroke-width="6" stroke-linejoin="round" stroke-linecap="round"/>
<polyline points="632,196 625,213 632,229 630,246" fill="none" stroke="#000" stroke-opacity="0.22" stroke-width="6" stroke-linejoin="round" stroke-linecap="round"/>
<polyline points="247,358 220,361 193,362 167,372" fill="none" stroke="#000" stroke-opacity="0.22" stroke-width="6" stroke-linejoin="round" stroke-linecap="round"/>
<polyline points="569,186 586,197 606,198 625,207" fill="none" stroke="#000" stroke-opacity="0.22" stroke-width="6" stroke-linejoin="round" stroke-linecap="round"/>
<polyline points="282,144 269,156 253,164 236,169" fill="none" stroke="#000" stroke-opacity="0.22" stroke-width="6" stroke-linejoin="round" stroke-linecap="round"/>
<polyline points="451,293 455,317 453,342 451,367" fill="none" stroke="#000" stroke-opacity="0.22" stroke-width="6" stroke-linejoin="round" stroke-linecap="round"/>
<polyline points="594,119 616,138 628,165 620,193" fill="none" stroke="#000" stroke-opacity="0.22" stroke-width="6" stroke-linejoin="round" stroke-linecap="round"/>
<polyline points="430,96 426,114 414,126 406,142" fill="none" stroke="#000" stroke-opacity="0.22" stroke-width="6" stroke-linejoin="round" stroke-linecap="round"/>
<polyline points="238,119 235,133 224,144 224,159" fill="none" stroke="#000" stroke-opacity="0.22" stroke-width="6" stroke-linejoin="round" stroke-linecap="round"/>
<polyline points="387,372 371,364 358,352 346,339" fill="none" stroke="#000" stroke-opacity="0.22" stroke-width="6" stroke-linejoin="round" stroke-linecap="round"/>
<polyline points="635,416 620,422 605,425 590,426" fill="none" stroke="#000" stroke-opacity="0.22" stroke-width="6" stroke-linejoin="round" stroke-linecap="round"/>
<polyline points="249,166 267,187 293,192 315,207" fill="none" stroke="#000" stroke-opacity="0.22" stroke-width="6" stroke-linejoin="round" stroke-linecap="round"/>
<polyline points="332,133 340,150 351,165 365,178" fill="none" stroke="#000" stroke-opacity="0.22" stroke-width="6" stroke-linejoin="round" stroke-linecap="round"/>
<polyline points="449,362 434,347 419,333 416,312" fill="none" stroke="#000" stroke-opacity="0.22" stroke-width="6" stroke-linejoin="round" stroke-linecap="round"/>
<polyline points="583,377 577,362 567,351 554,344" fill="none" stroke="#000" stroke-opacity="0.22" stroke-width="6" stroke-linejoin="round" stroke-linecap="round"/>
<polyline points="375,276 357,289 335,292 312,289" fill="none" stroke="#000" stroke-opacity="0.22" stroke-width="6" stroke-linejoin="round" stroke-linecap="round"/>
<polyline points="254,314 229,318 204,308 185,290" fill="none" stroke="#000" stroke-opacity="0.22" stroke-width="6" stroke-linejoin="round" stroke-linecap="round"/>
<polyline points="204,427 183,428 163,433 143,427" fill="none" stroke="#000" stroke-opacity="0.22" stroke-width="6" stroke-linejoin="round" stroke-linecap="round"/>
<polyline points="594,251 607,268 607,289 610,310" fill="none" stroke="#000" stroke-opacity="0.22" stroke-width="6" stroke-linejoin="round" stroke-linecap="round"/>
<polyline points="124,163 142,182 168,188 183,209" fill="none" stroke="#000" stroke-opacity="0.22" stroke-width="6" stroke-linejoin="round" stroke-linecap="round"/>
<polyline points="270,424 257,431 246,441 234,450" fill="none" stroke="#000" stroke-opacity="0.22" stroke-width="6" stroke-linejoin="round" stroke-linecap="round"/>
<polyline points="282,436 277,414 287,393 309,387" fill="none" stroke="#000" stroke-opacity="0.22" stroke-width="6" stroke-linejoin="round" stroke-linecap="round"/>
<polyline points="418,115 420,129 410,139 403,151" fill="none" stroke="#000" stroke-opacity="0.22" stroke-width="6" stroke-linejoin="round" stroke-linecap="round"/>
<polyline points="470,432 451,424 433,430 413,426" fill="none" stroke="#000" stroke-opacity="0.22" stroke-width="6" stroke-linejoin="round" stroke-linecap="round"/>
<polyline points="450,197 472,214 499,219 524,230" fill="none" stroke="#000" stroke-opacity="0.22" stroke-width="6" stroke-linejoin="round" stroke-linecap="round"/>
<polyline points="525,278 522,291 518,304 524,316" fill="none" stroke="#000" stroke-opacity="0.22" stroke-width="6" stroke-linejoin="round" stroke-linecap="round"/>
<polyline points="388,170 376,194 386,218 410,229" fill="none" stroke="#000" stroke-opacity="0.22" stroke-width="6" stroke-linejoin="round" stroke-linecap="round"/>
<polyline points="444,421 430,408 429,389 414,377" fill="none" stroke="#000" stroke-opacity="0.22" stroke-width="6" stroke-linejoin="round" stroke-linecap="round"/>
</g>
<path d="M90,380C89,363 88,322 95,300C102,278 121,268 130,250C139,232 138,212 150,190C162,168 182,140 200,120C218,100 240,81 260,70C280,59 300,56 320,55C340,54 358,61 380,65C402,69 427,72 450,80C473,88 498,97 520,110C542,123 562,140 580,160C598,180 618,207 630,230C642,253 652,277 655,300C658,323 656,352 650,370C644,388 635,398 620,410C605,422 580,435 560,440C540,445 513,437 500,440C487,443 493,455 480,460C467,465 440,472 420,470C400,468 382,458 360,450C338,442 313,427 290,420C267,413 243,412 220,410C197,408 170,412 150,410C130,408 110,405 100,400C90,395 91,397 90,380Z" fill="none" stroke="#222" stroke-opacity="0.55" stroke-width="5" stroke-linejoin="round"/>
</g>
<g transform="translate(370,298) scale(0.10264)">
<clipPath id="bc8"><path d="M60,300C59,280 58,252 65,230C72,208 84,190 100,170C116,150 137,127 160,110C183,93 213,81 240,70C267,59 293,51 320,45C347,39 377,35 400,35C423,35 440,38 460,45C480,52 502,66 520,80C538,94 557,112 570,130C583,148 590,170 600,190C610,210 623,230 630,250C637,270 640,292 640,310C640,328 640,351 630,360C620,369 597,366 580,365C563,364 545,352 530,355C515,358 508,369 490,380C472,391 443,410 420,420C397,430 372,433 350,440C328,447 308,458 290,460C272,462 252,457 240,450C228,443 222,430 215,420C208,410 211,393 200,390C189,387 167,400 150,400C133,400 113,398 100,390C87,382 77,365 70,350C63,335 61,320 60,300Z"/></clipPath>
<path d="M60,300C59,280 58,252 65,230C72,208 84,190 100,170C116,150 137,127 160,110C183,93 213,81 240,70C267,59 293,51 320,45C347,39 377,35 400,35C423,35 440,38 460,45C480,52 502,66 520,80C538,94 557,112 570,130C583,148 590,170 600,190C610,210 623,230 630,250C637,270 640,292 640,310C640,328 640,351 630,360C620,369 597,366 580,365C563,364 545,352 530,355C515,358 508,369 490,380C472,391 443,410 420,420C397,430 372,433 350,440C328,447 308,458 290,460C272,462 252,457 240,450C228,443 222,430 215,420C208,410 211,393 200,390C189,387 167,400 150,400C133,400 113,398 100,390C87,382 77,365 70,350C63,335 61,320 60,300Z" fill="#36749a"/>
<g clip-path="url(#bc8)">
<path d="M60,300C59,292 60,245 65,230C70,215 89,184 100,170C111,156 144,122 160,110C176,98 221,78 240,70C259,62 312,43 320,45C328,47 318,82 310,90C302,98 264,105 250,110C236,115 202,123 190,130C178,137 159,162 150,170C141,178 118,191 110,200C102,209 85,238 80,250C75,262 72,294 70,300C68,306 61,308 60,300Z" fill="#472a7a" stroke="#472a7a" stroke-width="6" stroke-linejoin="round"/>
<path d="M300,100C306,85 328,57 340,50C352,43 387,39 400,40C413,41 444,52 450,60C456,68 455,100 450,110C445,120 418,140 410,150C402,160 387,188 380,200C373,212 359,241 350,250C341,259 312,275 300,280C288,285 262,290 250,290C238,290 205,285 200,280C195,275 203,256 210,250C217,244 251,238 260,230C269,222 285,195 290,180C295,165 294,115 300,100Z" fill="#2b9a8b" stroke="#2b9a8b" stroke-width="6" stroke-linejoin="round"/>
<path d="M195,140C198,131 230,114 240,110C250,106 276,97 280,105C284,113 278,168 275,180C272,192 262,209 255,210C248,211 222,198 215,190C208,182 192,149 195,140Z" fill="#3cb77a" stroke="#3cb77a" stroke-width="6" stroke-linejoin="round"/>
<path d="M90,370C91,366 118,364 130,360C142,356 182,347 190,340C198,333 195,301 200,300C205,299 228,321 230,330C232,339 226,372 220,380C214,388 192,393 180,395C168,397 130,398 120,395C110,392 89,374 90,370Z" fill="#8dd04c" stroke="#8dd04c" stroke-width="6" stroke-linejoin="round"/>
<path d="M230,340C240,326 280,308 300,300C320,292 379,275 400,270C421,265 466,256 480,260C494,264 519,286 520,300C521,314 502,366 490,380C478,394 436,413 420,420C404,427 365,435 350,440C335,445 303,459 290,460C277,461 249,455 240,450C231,445 216,433 215,420C214,407 220,354 230,340Z" fill="#455e9c" stroke="#455e9c" stroke-width="6" stroke-linejoin="round"/>
<path d="M240,420C245,413 284,380 300,370C316,360 362,338 380,330C398,322 436,307 450,300C464,293 494,270 500,270C506,270 512,292 505,300C498,308 455,327 440,335C425,343 395,357 380,365C365,373 324,397 310,405C296,413 268,430 260,432C252,434 235,427 240,420Z" fill="#472d7b" stroke="#472d7b" stroke-width="6" stroke-linejoin="round"/>
<path d="M520,250C527,237 577,220 590,220C603,220 624,240 630,250C636,260 640,297 640,310C640,323 637,354 630,360C623,366 592,368 580,365C568,362 537,343 530,330C523,317 513,263 520,250Z" fill="#453781" stroke="#453781" stroke-width="6" stroke-linejoin="round"/>
<polyline points="173,128 224,148 286,128 327,97" fill="none" stroke="#000" stroke-opacity="0.28" stroke-width="7" stroke-linejoin="round" stroke-linecap="round"/>
<polyline points="111,218 173,198 224,213 265,198" fill="none" stroke="#000" stroke-opacity="0.28" stroke-width="7" stroke-linejoin="round" stroke-linecap="round"/>
<polyline points="317,57 306,118 327,168 306,228 317,279" fill="none" stroke="#000" stroke-opacity="0.28" stroke-width="7" stroke-linejoin="round" stroke-linecap="round"/>
<polyline points="378,47 358,108 378,158 347,218 368,259" fill="none" stroke="#000" stroke-opacity="0.28" stroke-width="7" stroke-linejoin="round" stroke-linecap="round"/>
<polyline points="430,42 419,97 440,148 409,228" fill="none" stroke="#000" stroke-opacity="0.28" stroke-width="7" stroke-linejoin="round" stroke-linecap="round"/>
<polyline points="450,138 501,158 553,178 594,218" fill="none" stroke="#000" stroke-opacity="0.28" stroke-width="7" stroke-linejoin="round" stroke-linecap="round"/>
<polyline points="255,309 327,289 409,259 491,243" fill="none" stroke="#000" stroke-opacity="0.28" stroke-width="7" stroke-linejoin="round" stroke-linecap="round"/>
<polyline points="265,369 347,339 430,309 501,289 553,299" fill="none" stroke="#000" stroke-opacity="0.28" stroke-width="7" stroke-linejoin="round" stroke-linecap="round"/>
<polyline points="296,420 378,400 460,369 522,339" fill="none" stroke="#000" stroke-opacity="0.28" stroke-width="7" stroke-linejoin="round" stroke-linecap="round"/>
<polyline points="512,87 532,138 573,158" fill="none" stroke="#000" stroke-opacity="0.28" stroke-width="7" stroke-linejoin="round" stroke-linecap="round"/>
<polyline points="142,299 193,289 224,299" fill="none" stroke="#000" stroke-opacity="0.28" stroke-width="7" stroke-linejoin="round" stroke-linecap="round"/>
<polyline points="481,57 471,108 491,148" fill="none" stroke="#000" stroke-opacity="0.28" stroke-width="7" stroke-linejoin="round" stroke-linecap="round"/>
<polyline points="553,228 594,259 614,299" fill="none" stroke="#000" stroke-opacity="0.28" stroke-width="7" stroke-linejoin="round" stroke-linecap="round"/>
<polyline points="224,97 255,148 235,188" fill="none" stroke="#000" stroke-opacity="0.28" stroke-width="7" stroke-linejoin="round" stroke-linecap="round"/>
<polyline points="122,249 152,238 183,259" fill="none" stroke="#000" stroke-opacity="0.28" stroke-width="7" stroke-linejoin="round" stroke-linecap="round"/>
<polyline points="91,279 132,269 163,289" fill="none" stroke="#000" stroke-opacity="0.28" stroke-width="7" stroke-linejoin="round" stroke-linecap="round"/>
<polyline points="101,329 152,319 193,334" fill="none" stroke="#000" stroke-opacity="0.28" stroke-width="7" stroke-linejoin="round" stroke-linecap="round"/>
<polyline points="152,168 204,178 245,158" fill="none" stroke="#000" stroke-opacity="0.28" stroke-width="7" stroke-linejoin="round" stroke-linecap="round"/>
<polyline points="337,67 347,87 332,108" fill="none" stroke="#000" stroke-opacity="0.28" stroke-width="7" stroke-linejoin="round" stroke-linecap="round"/>
<polyline points="399,77 388,128 409,168 388,198" fill="none" stroke="#000" stroke-opacity="0.28" stroke-width="7" stroke-linejoin="round" stroke-linecap="round"/>
<polyline points="471,67 491,97 512,118" fill="none" stroke="#000" stroke-opacity="0.28" stroke-width="7" stroke-linejoin="round" stroke-linecap="round"/>
<polyline points="532,108 553,148 542,188" fill="none" stroke="#000" stroke-opacity="0.28" stroke-width="7" stroke-linejoin="round" stroke-linecap="round"/>
<polyline points="481,188 522,198 563,238" fill="none" stroke="#000" stroke-opacity="0.28" stroke-width="7" stroke-linejoin="round" stroke-linecap="round"/>
<polyline points="286,400 347,379" fill="none" stroke="#000" stroke-opacity="0.28" stroke-width="7" stroke-linejoin="round" stroke-linecap="round"/>
<polyline points="430,400 481,379" fill="none" stroke="#000" stroke-opacity="0.28" stroke-width="7" stroke-linejoin="round" stroke-linecap="round"/>
<polyline points="573,279 604,319" fill="none" stroke="#000" stroke-opacity="0.28" stroke-width="7" stroke-linejoin="round" stroke-linecap="round"/>
<polyline points="532,259 563,299 594,339" fill="none" stroke="#000" stroke-opacity="0.28" stroke-width="7" stroke-linejoin="round" stroke-linecap="round"/>
<polyline points="358,289 388,274 430,279" fill="none" stroke="#000" stroke-opacity="0.28" stroke-width="7" stroke-linejoin="round" stroke-linecap="round"/>
<polyline points="201,414 212,422 220,433 224,446" fill="none" stroke="#000" stroke-opacity="0.22" stroke-width="6" stroke-linejoin="round" stroke-linecap="round"/>
<polyline points="86,374 112,367 138,373 159,389" fill="none" stroke="#000" stroke-opacity="0.22" stroke-width="6" stroke-linejoin="round" stroke-linecap="round"/>
<polyline points="263,313 284,331 312,331 340,338" fill="none" stroke="#000" stroke-opacity="0.22" stroke-width="6" stroke-linejoin="round" stroke-linecap="round"/>
<polyline points="537,172 543,198 528,219 524,244" fill="none" stroke="#000" stroke-opacity="0.22" stroke-width="6" stroke-linejoin="round" stroke-linecap="round"/>
<polyline points="128,278 139,299 156,316 180,319" fill="none" stroke="#000" stroke-opacity="0.22" stroke-width="6" stroke-linejoin="round" stroke-linecap="round"/>
<polyline points="299,355 315,339 331,324 353,328" fill="none" stroke="#000" stroke-opacity="0.22" stroke-width="6" stroke-linejoin="round" stroke-linecap="round"/>
<polyline points="296,173 314,195 325,220 332,247" fill="none" stroke="#000" stroke-opacity="0.22" stroke-width="6" stroke-linejoin="round" stroke-linecap="round"/>
<polyline points="407,253 416,278 439,294 466,293" fill="none" stroke="#000" stroke-opacity="0.22" stroke-width="6" stroke-linejoin="round" stroke-linecap="round"/>
<polyline points="378,149 382,170 380,193 377,214" fill="none" stroke="#000" stroke-opacity="0.22" stroke-width="6" stroke-linejoin="round" stroke-linecap="round"/>
<polyline points="366,355 379,361 393,363 406,363" fill="none" stroke="#000" stroke-opacity="0.22" stroke-width="6" stroke-linejoin="round" stroke-linecap="round"/>
<polyline points="144,278 140,291 147,304 156,316" fill="none" stroke="#000" stroke-opacity="0.22" stroke-width="6" stroke-linejoin="round" stroke-linecap="round"/>
<polyline points="164,336 185,330 207,333 224,347" fill="none" stroke="#000" stroke-opacity="0.22" stroke-width="6" stroke-linejoin="round" stroke-linecap="round"/>
<polyline points="116,241 128,266 122,294 130,322" fill="none" stroke="#000" stroke-opacity="0.22" stroke-width="6" stroke-linejoin="round" stroke-linecap="round"/>
<polyline points="408,377 426,383 445,383 461,376" fill="none" stroke="#000" stroke-opacity="0.22" stroke-width="6" stroke-linejoin="round" stroke-linecap="round"/>
<polyline points="596,73 585,81 578,94 576,107" fill="none" stroke="#000" stroke-opacity="0.22" stroke-width="6" stroke-linejoin="round" stroke-linecap="round"/>
<polyline points="80,276 89,301 109,320 136,318" fill="none" stroke="#000" stroke-opacity="0.22" stroke-width="6" stroke-linejoin="round" stroke-linecap="round"/>
<polyline points="153,293 160,279 154,264 142,254" fill="none" stroke="#000" stroke-opacity="0.22" stroke-width="6" stroke-linejoin="round" stroke-linecap="round"/>
<polyline points="445,288 437,304 437,323 430,340" fill="none" stroke="#000" stroke-opacity="0.22" stroke-width="6" stroke-linejoin="round" stroke-linecap="round"/>
<polyline points="423,336 439,338 455,339 466,328" fill="none" stroke="#000" stroke-opacity="0.22" stroke-width="6" stroke-linejoin="round" stroke-linecap="round"/>
<polyline points="344,143 334,161 336,181 340,202" fill="none" stroke="#000" stroke-opacity="0.22" stroke-width="6" stroke-linejoin="round" stroke-linecap="round"/>
<polyline points="501,237 482,257 462,276 441,293" fill="none" stroke="#000" stroke-opacity="0.22" stroke-width="6" stroke-linejoin="round" stroke-linecap="round"/>
<polyline points="431,392 448,370 442,342 435,315" fill="none" stroke="#000" stroke-opacity="0.22" stroke-width="6" stroke-linejoin="round" stroke-linecap="round"/>
<polyline points="193,188 205,209 226,220 236,242" fill="none" stroke="#000" stroke-opacity="0.22" stroke-width="6" stroke-linejoin="round" stroke-linecap="round"/>
<polyline points="97,404 112,411 128,418 145,414" fill="none" stroke="#000" stroke-opacity="0.22" stroke-width="6" stroke-linejoin="round" stroke-linecap="round"/>
<polyline points="223,230 223,248 225,265 214,279" fill="none" stroke="#000" stroke-opacity="0.22" stroke-width="6" stroke-linejoin="round" stroke-linecap="round"/>
<polyline points="541,101 534,116 531,132 518,143" fill="none" stroke="#000" stroke-opacity="0.22" stroke-width="6" stroke-linejoin="round" stroke-linecap="round"/>
<polyline points="283,381 296,391 311,388 322,377" fill="none" stroke="#000" stroke-opacity="0.22" stroke-width="6" stroke-linejoin="round" stroke-linecap="round"/>
<polyline points="214,305 235,312 255,301 277,304" fill="none" stroke="#000" stroke-opacity="0.22" stroke-width="6" stroke-linejoin="round" stroke-linecap="round"/>
<polyline points="354,251 356,272 343,288 322,291" fill="none" stroke="#000" stroke-opacity="0.22" stroke-width="6" stroke-linejoin="round" stroke-linecap="round"/>
<polyline points="511,332 524,336 537,340 550,344" fill="none" stroke="#000" stroke-opacity="0.22" stroke-width="6" stroke-linejoin="round" stroke-linecap="round"/>
<polyline points="456,184 447,206 457,227 480,233" fill="none" stroke="#000" stroke-opacity="0.22" stroke-width="6" stroke-linejoin="round" stroke-linecap="round"/>
<polyline points="599,386 626,389 646,370 662,348" fill="none" stroke="#000" stroke-opacity="0.22" stroke-width="6" stroke-linejoin="round" stroke-linecap="round"/>
<polyline points="310,276 293,292 289,314 298,334" fill="none" stroke="#000" stroke-opacity="0.22" stroke-width="6" stroke-linejoin="round" stroke-linecap="round"/>
<polyline points="309,306 329,300 342,284 349,264" fill="none" stroke="#000" stroke-opacity="0.22" stroke-width="6" stroke-linejoin="round" stroke-linecap="round"/>
<polyline points="507,208 492,224 471,225 456,241" fill="none" stroke="#000" stroke-opacity="0.22" stroke-width="6" stroke-linejoin="round" stroke-linecap="round"/>
<polyline points="599,392 624,407 651,398 679,390" fill="none" stroke="#000" stroke-opacity="0.22" stroke-width="6" stroke-linejoin="round" stroke-linecap="round"/>
<polyline points="547,122 547,141 561,154 579,164" fill="none" stroke="#000" stroke-opacity="0.22" stroke-width="6" stroke-linejoin="round" stroke-linecap="round"/>
<polyline points="200,154 187,168 168,174 148,174" fill="none" stroke="#000" stroke-opacity="0.22" stroke-width="6" stroke-linejoin="round" stroke-linecap="round"/>
<polyline points="347,403 372,415 382,441 403,457" fill="none" stroke="#000" stroke-opacity="0.22" stroke-width="6" stroke-linejoin="round" stroke-linecap="round"/>
<polyline points="513,64 513,79 519,92 521,107" fill="none" stroke="#000" stroke-opacity="0.22" stroke-width="6" stroke-linejoin="round" stroke-linecap="round"/>
</g>
<path d="M60,300C59,280 58,252 65,230C72,208 84,190 100,170C116,150 137,127 160,110C183,93 213,81 240,70C267,59 293,51 320,45C347,39 377,35 400,35C423,35 440,38 460,45C480,52 502,66 520,80C538,94 557,112 570,130C583,148 590,170 600,190C610,210 623,230 630,250C637,270 640,292 640,310C640,328 640,351 630,360C620,369 597,366 580,365C563,364 545,352 530,355C515,358 508,369 490,380C472,391 443,410 420,420C397,430 372,433 350,440C328,447 308,458 290,460C272,462 252,457 240,450C228,443 222,430 215,420C208,410 211,393 200,390C189,387 167,400 150,400C133,400 113,398 100,390C87,382 77,365 70,350C63,335 61,320 60,300Z" fill="none" stroke="#222" stroke-opacity="0.55" stroke-width="5" stroke-linejoin="round"/>
</g>
<g transform="translate(432,298) scale(0.10264)">
<clipPath id="bc9"><path d="M75,340C72,322 74,283 80,260C86,237 97,222 110,200C123,178 143,150 160,130C177,110 193,94 210,80C227,66 242,52 260,45C278,38 300,36 320,35C340,34 358,36 380,40C402,44 425,48 450,60C475,72 507,92 530,110C553,128 573,148 590,170C607,192 621,215 630,240C639,265 647,298 645,320C643,342 634,358 620,370C606,382 582,390 560,395C538,400 505,394 490,400C475,406 480,422 470,430C460,438 442,445 430,450C418,455 413,462 400,460C387,458 367,448 350,440C333,432 322,418 300,410C278,402 245,395 220,390C195,385 170,383 150,380C130,377 112,377 100,370C88,363 78,358 75,340Z"/></clipPath>
<path d="M75,340C72,322 74,283 80,260C86,237 97,222 110,200C123,178 143,150 160,130C177,110 193,94 210,80C227,66 242,52 260,45C278,38 300,36 320,35C340,34 358,36 380,40C402,44 425,48 450,60C475,72 507,92 530,110C553,128 573,148 590,170C607,192 621,215 630,240C639,265 647,298 645,320C643,342 634,358 620,370C606,382 582,390 560,395C538,400 505,394 490,400C475,406 480,422 470,430C460,438 442,445 430,450C418,455 413,462 400,460C387,458 367,448 350,440C333,432 322,418 300,410C278,402 245,395 220,390C195,385 170,383 150,380C130,377 112,377 100,370C88,363 78,358 75,340Z" fill="#472f7d"/>
<g clip-path="url(#bc9)">
<path d="M110,200C115,187 148,144 160,130C172,116 198,90 210,80C222,70 251,47 260,45C269,43 286,49 290,60C294,71 294,126 290,140C286,154 267,170 260,180C253,190 237,223 230,230C223,237 209,241 200,240C191,239 159,220 150,220C141,220 125,242 120,240C115,238 105,213 110,200Z" fill="#2a8d8e" stroke="#2a8d8e" stroke-width="6" stroke-linejoin="round"/>
<path d="M270,50C275,42 308,36 320,35C332,34 363,31 370,40C377,49 382,98 380,110C378,122 359,138 350,140C341,142 308,135 300,130C292,125 284,109 280,100C276,91 265,58 270,50Z" fill="#3e68a0" stroke="#3e68a0" stroke-width="6" stroke-linejoin="round"/>
<path d="M250,300C248,290 254,252 260,240C266,228 286,206 300,200C314,194 362,189 380,190C398,191 435,204 450,210C465,216 500,231 510,240C520,249 538,278 540,290C542,302 536,331 530,340C524,349 499,365 490,370C481,375 460,380 450,380C440,380 414,374 400,370C386,366 344,355 330,350C316,345 289,336 280,330C271,324 252,310 250,300Z" fill="#f7f7f7" stroke="#f7f7f7" stroke-width="6" stroke-linejoin="round"/>
<path d="M224,287C221,278 232,232 238,218C244,204 268,175 278,166C288,157 308,148 320,145C332,142 366,142 380,144C394,146 427,157 440,163C453,169 481,186 492,195C503,204 534,235 537,242C540,249 523,258 514,256C505,254 475,232 462,226C449,220 414,211 400,208C386,205 353,203 340,203C327,203 301,205 292,210C283,215 269,232 265,242C261,252 265,292 260,297C255,302 227,296 224,287Z" fill="#eee31f" stroke="#eee31f" stroke-width="6" stroke-linejoin="round"/>
<path d="M520,300C526,293 551,289 560,290C569,291 591,303 600,305C609,307 638,302 640,310C642,318 629,360 620,370C611,380 575,392 560,395C545,398 500,402 490,400C480,398 468,386 470,380C472,374 504,359 510,350C516,341 514,307 520,300Z" fill="#2d8a8f" stroke="#2d8a8f" stroke-width="6" stroke-linejoin="round"/>
<path d="M80,300C82,291 106,266 120,260C134,254 186,246 200,250C214,254 231,281 240,290C249,299 271,322 280,330C289,338 318,354 320,360C322,366 312,380 300,380C288,380 238,365 220,360C202,355 164,342 150,340C136,338 108,345 100,340C92,335 78,309 80,300Z" fill="#2a8a8c" stroke="#2a8a8c" stroke-width="6" stroke-linejoin="round"/>
<path d="M100,370C100,372 136,378 150,380C164,382 202,386 220,390C238,394 285,404 300,410C315,416 338,434 350,440C362,446 398,462 400,460C402,458 382,428 370,420C358,412 318,395 300,390C282,385 238,378 220,375C202,372 164,361 150,360C136,359 100,368 100,370Z" fill="#3b5a98" stroke="#3b5a98" stroke-width="6" stroke-linejoin="round"/>
<path d="M380,385C381,380 411,378 420,380C429,382 456,394 460,400C464,406 456,427 450,430C444,433 418,430 410,425C402,420 379,390 380,385Z" fill="#3ec07a" stroke="#3ec07a" stroke-width="6" stroke-linejoin="round"/>
<polyline points="101,298 162,268 244,258" fill="none" stroke="#000" stroke-opacity="0.28" stroke-width="7" stroke-linejoin="round" stroke-linecap="round"/>
<polyline points="152,136 203,197 244,248" fill="none" stroke="#000" stroke-opacity="0.28" stroke-width="7" stroke-linejoin="round" stroke-linecap="round"/>
<polyline points="296,116 399,126 501,156 583,217 614,288" fill="none" stroke="#000" stroke-opacity="0.28" stroke-width="7" stroke-linejoin="round" stroke-linecap="round"/>
<polyline points="203,298 244,318 286,328" fill="none" stroke="#000" stroke-opacity="0.28" stroke-width="7" stroke-linejoin="round" stroke-linecap="round"/>
<polyline points="347,86 409,96 470,116" fill="none" stroke="#000" stroke-opacity="0.28" stroke-width="7" stroke-linejoin="round" stroke-linecap="round"/>
<polyline points="121,217 173,237" fill="none" stroke="#000" stroke-opacity="0.28" stroke-width="7" stroke-linejoin="round" stroke-linecap="round"/>
<polyline points="450,126 532,167" fill="none" stroke="#000" stroke-opacity="0.28" stroke-width="7" stroke-linejoin="round" stroke-linecap="round"/>
<polyline points="193,328 244,349" fill="none" stroke="#000" stroke-opacity="0.28" stroke-width="7" stroke-linejoin="round" stroke-linecap="round"/>
<polyline points="522,298 573,328" fill="none" stroke="#000" stroke-opacity="0.28" stroke-width="7" stroke-linejoin="round" stroke-linecap="round"/>
<polyline points="265,288 275,227 337,187 419,182 491,197 553,232 583,288 573,328" fill="none" stroke="#000" stroke-opacity="0.28" stroke-width="7" stroke-linejoin="round" stroke-linecap="round"/>
<polyline points="244,177 286,146 347,136" fill="none" stroke="#000" stroke-opacity="0.28" stroke-width="7" stroke-linejoin="round" stroke-linecap="round"/>
<polyline points="193,248 224,227" fill="none" stroke="#000" stroke-opacity="0.28" stroke-width="7" stroke-linejoin="round" stroke-linecap="round"/>
<polyline points="286,298 316,268 347,288 327,328 378,349 409,328 450,359 429,389 470,399 491,379" fill="none" stroke="#3a3a3a" stroke-opacity="0.8" stroke-width="6" stroke-linejoin="round"/>
<polyline points="306,258 296,318 337,359 388,379 419,409 460,430" fill="none" stroke="#3a3a3a" stroke-opacity="0.8" stroke-width="6" stroke-linejoin="round"/>
<polyline points="327,298 357,318 347,349 399,369" fill="none" stroke="#3a3a3a" stroke-opacity="0.8" stroke-width="6" stroke-linejoin="round"/>
<polyline points="378,328 419,349 399,379 450,389" fill="none" stroke="#3a3a3a" stroke-opacity="0.8" stroke-width="6" stroke-linejoin="round"/>
<polyline points="296,298 327,359 368,399 429,430 481,440" fill="none" stroke="#3a3a3a" stroke-opacity="0.8" stroke-width="6" stroke-linejoin="round"/>
<polyline points="347,328 399,359 450,379 491,399" fill="none" stroke="#3a3a3a" stroke-opacity="0.8" stroke-width="6" stroke-linejoin="round"/>
</g>
<path d="M75,340C72,322 74,283 80,260C86,237 97,222 110,200C123,178 143,150 160,130C177,110 193,94 210,80C227,66 242,52 260,45C278,38 300,36 320,35C340,34 358,36 380,40C402,44 425,48 450,60C475,72 507,92 530,110C553,128 573,148 590,170C607,192 621,215 630,240C639,265 647,298 645,320C643,342 634,358 620,370C606,382 582,390 560,395C538,400 505,394 490,400C475,406 480,422 470,430C460,438 442,445 430,450C418,455 413,462 400,460C387,458 367,448 350,440C333,432 322,418 300,410C278,402 245,395 220,390C195,385 170,383 150,380C130,377 112,377 100,370C88,363 78,358 75,340Z" fill="none" stroke="#222" stroke-opacity="0.55" stroke-width="5" stroke-linejoin="round"/>
</g>
<g transform="translate(494,298) scale(0.10264)">
<clipPath id="bc10"><path d="M70,320C69,300 73,265 80,240C87,215 95,192 110,170C125,148 148,126 170,110C192,94 215,84 240,75C265,66 297,61 320,55C343,49 360,42 380,40C400,38 422,37 440,40C458,43 473,50 490,60C507,70 525,85 540,100C555,115 568,132 580,150C592,168 602,192 610,210C618,228 625,242 630,260C635,278 642,303 640,320C638,337 633,352 620,360C607,368 580,365 560,370C540,375 523,382 500,390C477,398 445,411 420,420C395,429 370,438 350,445C330,452 315,459 300,460C285,461 272,457 260,450C248,443 242,427 230,420C218,413 208,415 190,410C172,405 138,398 120,390C102,382 93,372 85,360C77,348 71,340 70,320Z"/></clipPath>
<path d="M70,320C69,300 73,265 80,240C87,215 95,192 110,170C125,148 148,126 170,110C192,94 215,84 240,75C265,66 297,61 320,55C343,49 360,42 380,40C400,38 422,37 440,40C458,43 473,50 490,60C507,70 525,85 540,100C555,115 568,132 580,150C592,168 602,192 610,210C618,228 625,242 630,260C635,278 642,303 640,320C638,337 633,352 620,360C607,368 580,365 560,370C540,375 523,382 500,390C477,398 445,411 420,420C395,429 370,438 350,445C330,452 315,459 300,460C285,461 272,457 260,450C248,443 242,427 230,420C218,413 208,415 190,410C172,405 138,398 120,390C102,382 93,372 85,360C77,348 71,340 70,320Z" fill="#2a8b8a"/>
<g clip-path="url(#bc10)">
<path d="M75,300C70,293 76,255 80,240C84,225 100,185 110,170C120,155 155,121 170,110C185,99 222,81 240,75C258,69 308,52 320,55C332,58 338,90 340,100C342,110 347,133 340,140C333,147 294,154 280,160C266,166 232,181 220,190C208,199 186,227 180,240C174,253 177,293 170,300C163,307 131,300 120,300C109,300 80,307 75,300Z" fill="#482c80" stroke="#482c80" stroke-width="6" stroke-linejoin="round"/>
<path d="M330,55C334,43 367,42 380,40C393,38 433,31 440,40C447,49 445,108 440,120C435,132 410,143 400,145C390,147 358,150 350,140C342,130 326,67 330,55Z" fill="#3f67a0" stroke="#3f67a0" stroke-width="6" stroke-linejoin="round"/>
<path d="M440,40C447,31 478,53 490,60C502,67 531,91 540,100C549,109 568,128 570,140C572,152 565,190 560,200C555,210 537,223 530,230C523,237 507,255 500,260C493,265 477,275 470,270C463,265 446,229 440,220C434,211 421,199 420,190C419,181 428,158 430,140C432,122 433,49 440,40Z" fill="#32b07e" stroke="#32b07e" stroke-width="6" stroke-linejoin="round"/>
<path d="M540,170C545,158 572,145 580,150C588,155 604,197 610,210C616,223 628,250 630,260C632,270 636,296 630,300C624,304 590,296 580,290C570,284 545,264 540,250C535,236 535,182 540,170Z" fill="#3d5e9c" stroke="#3d5e9c" stroke-width="6" stroke-linejoin="round"/>
<path d="M180,250C181,240 191,216 200,210C209,204 245,202 260,200C275,198 314,195 330,195C346,195 387,196 400,200C413,204 433,222 440,230C447,238 460,260 460,270C460,280 447,310 440,320C433,330 410,352 400,360C390,368 362,385 350,390C338,395 310,401 300,400C290,399 269,386 260,380C251,374 228,359 220,350C212,341 195,312 190,300C185,288 179,260 180,250Z" fill="#f7f7f7" stroke="#f7f7f7" stroke-width="6" stroke-linejoin="round"/>
<path d="M172,252C171,246 179,217 187,207C195,197 224,176 237,170C250,164 286,156 300,154C314,152 346,150 360,149C374,148 414,141 423,145C432,149 438,178 435,185C432,192 411,201 400,203C389,205 354,203 340,204C326,205 294,206 280,209C266,212 232,224 222,229C212,234 203,253 197,256C191,259 173,258 172,252Z" fill="#f1e31e" stroke="#f1e31e" stroke-width="6" stroke-linejoin="round"/>
<path d="M75,310C79,303 108,306 120,300C132,294 166,256 175,260C184,264 192,318 200,330C208,342 234,352 240,360C246,368 256,395 250,400C244,405 205,406 190,405C175,404 132,395 120,390C108,385 90,369 85,360C80,351 71,317 75,310Z" fill="#26828e" stroke="#26828e" stroke-width="6" stroke-linejoin="round"/>
<path d="M230,400C231,396 262,409 270,415C278,421 301,446 300,450C299,454 268,456 260,450C252,444 229,404 230,400Z" fill="#35b779" stroke="#35b779" stroke-width="6" stroke-linejoin="round"/>
<polyline points="614,300 553,270 471,260" fill="none" stroke="#000" stroke-opacity="0.28" stroke-width="7" stroke-linejoin="round" stroke-linecap="round"/>
<polyline points="563,140 512,200 471,250" fill="none" stroke="#000" stroke-opacity="0.28" stroke-width="7" stroke-linejoin="round" stroke-linecap="round"/>
<polyline points="419,120 316,130 214,160 132,220 101,290" fill="none" stroke="#000" stroke-opacity="0.28" stroke-width="7" stroke-linejoin="round" stroke-linecap="round"/>
<polyline points="512,300 471,320 429,330" fill="none" stroke="#000" stroke-opacity="0.28" stroke-width="7" stroke-linejoin="round" stroke-linecap="round"/>
<polyline points="368,90 306,100 245,120" fill="none" stroke="#000" stroke-opacity="0.28" stroke-width="7" stroke-linejoin="round" stroke-linecap="round"/>
<polyline points="594,220 542,240" fill="none" stroke="#000" stroke-opacity="0.28" stroke-width="7" stroke-linejoin="round" stroke-linecap="round"/>
<polyline points="265,130 183,170" fill="none" stroke="#000" stroke-opacity="0.28" stroke-width="7" stroke-linejoin="round" stroke-linecap="round"/>
<polyline points="522,330 471,350" fill="none" stroke="#000" stroke-opacity="0.28" stroke-width="7" stroke-linejoin="round" stroke-linecap="round"/>
<polyline points="193,300 142,330" fill="none" stroke="#000" stroke-opacity="0.28" stroke-width="7" stroke-linejoin="round" stroke-linecap="round"/>
<polyline points="450,290 440,230 378,190 296,185 224,200 162,235 132,290 142,330" fill="none" stroke="#000" stroke-opacity="0.28" stroke-width="7" stroke-linejoin="round" stroke-linecap="round"/>
<polyline points="471,180 429,150 368,140" fill="none" stroke="#000" stroke-opacity="0.28" stroke-width="7" stroke-linejoin="round" stroke-linecap="round"/>
<polyline points="522,250 491,230" fill="none" stroke="#000" stroke-opacity="0.28" stroke-width="7" stroke-linejoin="round" stroke-linecap="round"/>
<polyline points="429,300 399,270 368,290 388,330 337,350 306,330 265,360 286,390 245,400 224,380" fill="none" stroke="#3a3a3a" stroke-opacity="0.8" stroke-width="6" stroke-linejoin="round"/>
<polyline points="409,260 419,320 378,360 327,380 296,410 255,430" fill="none" stroke="#3a3a3a" stroke-opacity="0.8" stroke-width="6" stroke-linejoin="round"/>
<polyline points="388,300 358,320 368,350 316,370" fill="none" stroke="#3a3a3a" stroke-opacity="0.8" stroke-width="6" stroke-linejoin="round"/>
<polyline points="337,330 296,350 316,380 265,390" fill="none" stroke="#3a3a3a" stroke-opacity="0.8" stroke-width="6" stroke-linejoin="round"/>
<polyline points="419,300 388,360 347,400 286,430 234,440" fill="none" stroke="#3a3a3a" stroke-opacity="0.8" stroke-width="6" stroke-linejoin="round"/>
<polyline points="368,330 316,360 265,380 224,400" fill="none" stroke="#3a3a3a" stroke-opacity="0.8" stroke-width="6" stroke-linejoin="round"/>
</g>
<path d="M70,320C69,300 73,265 80,240C87,215 95,192 110,170C125,148 148,126 170,110C192,94 215,84 240,75C265,66 297,61 320,55C343,49 360,42 380,40C400,38 422,37 440,40C458,43 473,50 490,60C507,70 525,85 540,100C555,115 568,132 580,150C592,168 602,192 610,210C618,228 625,242 630,260C635,278 642,303 640,320C638,337 633,352 620,360C607,368 580,365 560,370C540,375 523,382 500,390C477,398 445,411 420,420C395,429 370,438 350,445C330,452 315,459 300,460C285,461 272,457 260,450C248,443 242,427 230,420C218,413 208,415 190,410C172,405 138,398 120,390C102,382 93,372 85,360C77,348 71,340 70,320Z" fill="none" stroke="#222" stroke-opacity="0.55" stroke-width="5" stroke-linejoin="round"/>
</g>
<g transform="translate(555,298) scale(0.10264)">
<clipPath id="bc11"><path d="M90,330C87,313 92,282 100,260C108,238 128,218 140,200C152,182 157,168 170,150C183,132 202,107 220,90C238,73 260,59 280,50C300,41 320,36 340,35C360,34 378,41 400,45C422,49 447,52 470,60C493,68 518,77 540,90C562,103 583,122 600,140C617,158 630,178 640,200C650,222 657,248 660,270C663,292 663,313 660,330C657,347 650,360 640,370C630,380 615,386 600,390C585,394 565,393 550,395C535,397 518,392 510,400C502,408 508,430 500,440C492,450 475,457 460,460C445,463 427,465 410,460C393,455 378,440 360,430C342,420 320,408 300,400C280,392 260,385 240,380C220,375 200,373 180,370C160,367 135,367 120,360C105,353 93,347 90,330Z"/></clipPath>
<path d="M90,330C87,313 92,282 100,260C108,238 128,218 140,200C152,182 157,168 170,150C183,132 202,107 220,90C238,73 260,59 280,50C300,41 320,36 340,35C360,34 378,41 400,45C422,49 447,52 470,60C493,68 518,77 540,90C562,103 583,122 600,140C617,158 630,178 640,200C650,222 657,248 660,270C663,292 663,313 660,330C657,347 650,360 640,370C630,380 615,386 600,390C585,394 565,393 550,395C535,397 518,392 510,400C502,408 508,430 500,440C492,450 475,457 460,460C445,463 427,465 410,460C393,455 378,440 360,430C342,420 320,408 300,400C280,392 260,385 240,380C220,375 200,373 180,370C160,367 135,367 120,360C105,353 93,347 90,330Z" fill="#33709a"/>
<g clip-path="url(#bc11)">
<path d="M250,80C256,67 312,44 330,40C348,36 391,38 400,45C409,52 408,84 410,100C412,116 421,164 420,180C419,196 407,234 400,240C393,246 369,236 360,230C351,224 329,199 320,190C311,181 288,163 280,150C272,137 244,93 250,80Z" fill="#2e8f8d" stroke="#2e8f8d" stroke-width="6" stroke-linejoin="round"/>
<path d="M90,330C88,318 94,272 100,260C106,248 131,229 140,230C149,231 171,260 180,270C189,280 215,310 220,320C225,330 225,354 220,360C215,366 192,370 180,370C168,370 130,365 120,360C110,355 92,342 90,330Z" fill="#4b3b8c" stroke="#4b3b8c" stroke-width="6" stroke-linejoin="round"/>
<path d="M400,45C406,42 454,55 470,60C486,65 525,81 540,90C555,99 588,127 600,140C612,153 633,185 640,200C647,215 659,257 660,270C661,283 655,309 650,310C645,311 626,289 620,280C614,271 607,243 600,230C593,217 570,183 560,170C550,157 522,129 510,120C498,111 470,99 460,95C450,91 427,91 420,85C413,79 394,48 400,45Z" fill="#472a7a" stroke="#472a7a" stroke-width="6" stroke-linejoin="round"/>
<path d="M440,120C444,113 471,99 480,100C489,101 514,123 520,130C526,137 532,153 530,160C528,167 506,184 500,190C494,196 485,210 480,210C475,210 464,196 460,190C456,184 447,168 445,160C443,152 436,127 440,120Z" fill="#36b483" stroke="#36b483" stroke-width="6" stroke-linejoin="round"/>
<path d="M500,240C502,232 533,241 540,250C547,259 562,312 560,320C558,328 527,329 520,320C513,311 498,248 500,240Z" fill="#44266f" stroke="#44266f" stroke-width="6" stroke-linejoin="round"/>
<path d="M510,330C512,320 524,300 530,300C536,300 552,324 560,330C568,336 591,346 600,350C609,354 636,356 640,360C644,364 635,376 630,380C625,384 609,393 600,395C591,397 560,396 550,395C540,394 515,398 510,390C505,382 508,340 510,330Z" fill="#8dce4c" stroke="#8dce4c" stroke-width="6" stroke-linejoin="round"/>
<path d="M230,300C235,295 284,304 300,310C316,316 355,342 370,350C385,358 417,374 430,380C443,386 475,395 480,400C485,405 479,419 470,420C461,421 418,415 400,410C382,405 336,387 320,380C304,373 270,359 260,350C250,341 225,305 230,300Z" fill="#404a8d" stroke="#404a8d" stroke-width="6" stroke-linejoin="round"/>
<polyline points="549,128 499,148 438,128 398,97" fill="none" stroke="#000" stroke-opacity="0.28" stroke-width="7" stroke-linejoin="round" stroke-linecap="round"/>
<polyline points="610,218 549,198 499,213 458,198" fill="none" stroke="#000" stroke-opacity="0.28" stroke-width="7" stroke-linejoin="round" stroke-linecap="round"/>
<polyline points="408,57 418,118 398,168 418,228 408,279" fill="none" stroke="#000" stroke-opacity="0.28" stroke-width="7" stroke-linejoin="round" stroke-linecap="round"/>
<polyline points="347,47 367,108 347,158 378,218 357,259" fill="none" stroke="#000" stroke-opacity="0.28" stroke-width="7" stroke-linejoin="round" stroke-linecap="round"/>
<polyline points="297,42 307,97 287,148 317,228" fill="none" stroke="#000" stroke-opacity="0.28" stroke-width="7" stroke-linejoin="round" stroke-linecap="round"/>
<polyline points="277,138 226,158 176,178 135,218" fill="none" stroke="#000" stroke-opacity="0.28" stroke-width="7" stroke-linejoin="round" stroke-linecap="round"/>
<polyline points="468,309 398,289 317,259 236,243" fill="none" stroke="#000" stroke-opacity="0.28" stroke-width="7" stroke-linejoin="round" stroke-linecap="round"/>
<polyline points="458,369 378,339 297,309 226,289 176,299" fill="none" stroke="#000" stroke-opacity="0.28" stroke-width="7" stroke-linejoin="round" stroke-linecap="round"/>
<polyline points="428,420 347,400 267,369 206,339" fill="none" stroke="#000" stroke-opacity="0.28" stroke-width="7" stroke-linejoin="round" stroke-linecap="round"/>
<polyline points="216,87 196,138 156,158" fill="none" stroke="#000" stroke-opacity="0.28" stroke-width="7" stroke-linejoin="round" stroke-linecap="round"/>
<polyline points="579,299 529,289 499,299" fill="none" stroke="#000" stroke-opacity="0.28" stroke-width="7" stroke-linejoin="round" stroke-linecap="round"/>
<polyline points="246,57 256,108 236,148" fill="none" stroke="#000" stroke-opacity="0.28" stroke-width="7" stroke-linejoin="round" stroke-linecap="round"/>
<polyline points="176,228 135,259 115,299" fill="none" stroke="#000" stroke-opacity="0.28" stroke-width="7" stroke-linejoin="round" stroke-linecap="round"/>
<polyline points="499,97 468,148 488,188" fill="none" stroke="#000" stroke-opacity="0.28" stroke-width="7" stroke-linejoin="round" stroke-linecap="round"/>
<polyline points="599,249 569,238 539,259" fill="none" stroke="#000" stroke-opacity="0.28" stroke-width="7" stroke-linejoin="round" stroke-linecap="round"/>
<polyline points="630,279 589,269 559,289" fill="none" stroke="#000" stroke-opacity="0.28" stroke-width="7" stroke-linejoin="round" stroke-linecap="round"/>
<polyline points="620,329 569,319 529,334" fill="none" stroke="#000" stroke-opacity="0.28" stroke-width="7" stroke-linejoin="round" stroke-linecap="round"/>
<polyline points="569,168 519,178 478,158" fill="none" stroke="#000" stroke-opacity="0.28" stroke-width="7" stroke-linejoin="round" stroke-linecap="round"/>
<polyline points="388,67 378,87 393,108" fill="none" stroke="#000" stroke-opacity="0.28" stroke-width="7" stroke-linejoin="round" stroke-linecap="round"/>
<polyline points="327,77 337,128 317,168 337,198" fill="none" stroke="#000" stroke-opacity="0.28" stroke-width="7" stroke-linejoin="round" stroke-linecap="round"/>
<polyline points="256,67 236,97 216,118" fill="none" stroke="#000" stroke-opacity="0.28" stroke-width="7" stroke-linejoin="round" stroke-linecap="round"/>
<polyline points="196,108 176,148 186,188" fill="none" stroke="#000" stroke-opacity="0.28" stroke-width="7" stroke-linejoin="round" stroke-linecap="round"/>
<polyline points="246,188 206,198 166,238" fill="none" stroke="#000" stroke-opacity="0.28" stroke-width="7" stroke-linejoin="round" stroke-linecap="round"/>
<polyline points="438,400 378,379" fill="none" stroke="#000" stroke-opacity="0.28" stroke-width="7" stroke-linejoin="round" stroke-linecap="round"/>
<polyline points="297,400 246,379" fill="none" stroke="#000" stroke-opacity="0.28" stroke-width="7" stroke-linejoin="round" stroke-linecap="round"/>
<polyline points="156,279 125,319" fill="none" stroke="#000" stroke-opacity="0.28" stroke-width="7" stroke-linejoin="round" stroke-linecap="round"/>
<polyline points="196,259 166,299 135,339" fill="none" stroke="#000" stroke-opacity="0.28" stroke-width="7" stroke-linejoin="round" stroke-linecap="round"/>
<polyline points="367,289 337,274 297,279" fill="none" stroke="#000" stroke-opacity="0.28" stroke-width="7" stroke-linejoin="round" stroke-linecap="round"/>
<polyline points="254,264 257,293 259,322 267,350" fill="none" stroke="#000" stroke-opacity="0.22" stroke-width="6" stroke-linejoin="round" stroke-linecap="round"/>
<polyline points="402,379 393,351 368,338 339,337" fill="none" stroke="#000" stroke-opacity="0.22" stroke-width="6" stroke-linejoin="round" stroke-linecap="round"/>
<polyline points="611,272 600,292 599,316 604,339" fill="none" stroke="#000" stroke-opacity="0.22" stroke-width="6" stroke-linejoin="round" stroke-linecap="round"/>
<polyline points="202,431 188,442 184,459 195,473" fill="none" stroke="#000" stroke-opacity="0.22" stroke-width="6" stroke-linejoin="round" stroke-linecap="round"/>
<polyline points="112,258 112,278 119,296 118,315" fill="none" stroke="#000" stroke-opacity="0.22" stroke-width="6" stroke-linejoin="round" stroke-linecap="round"/>
<polyline points="239,246 244,272 259,293 254,318" fill="none" stroke="#000" stroke-opacity="0.22" stroke-width="6" stroke-linejoin="round" stroke-linecap="round"/>
<polyline points="524,188 538,205 559,212 577,224" fill="none" stroke="#000" stroke-opacity="0.22" stroke-width="6" stroke-linejoin="round" stroke-linecap="round"/>
<polyline points="116,70 135,80 140,101 126,118" fill="none" stroke="#000" stroke-opacity="0.22" stroke-width="6" stroke-linejoin="round" stroke-linecap="round"/>
<polyline points="522,384 496,376 470,384 445,395" fill="none" stroke="#000" stroke-opacity="0.22" stroke-width="6" stroke-linejoin="round" stroke-linecap="round"/>
<polyline points="452,379 438,383 425,389 415,400" fill="none" stroke="#000" stroke-opacity="0.22" stroke-width="6" stroke-linejoin="round" stroke-linecap="round"/>
<polyline points="290,359 280,337 269,315 261,293" fill="none" stroke="#000" stroke-opacity="0.22" stroke-width="6" stroke-linejoin="round" stroke-linecap="round"/>
<polyline points="634,273 632,299 641,324 646,349" fill="none" stroke="#000" stroke-opacity="0.22" stroke-width="6" stroke-linejoin="round" stroke-linecap="round"/>
<polyline points="265,204 252,230 261,258 283,278" fill="none" stroke="#000" stroke-opacity="0.22" stroke-width="6" stroke-linejoin="round" stroke-linecap="round"/>
<polyline points="258,179 258,198 269,214 287,219" fill="none" stroke="#000" stroke-opacity="0.22" stroke-width="6" stroke-linejoin="round" stroke-linecap="round"/>
<polyline points="488,127 474,135 469,150 464,165" fill="none" stroke="#000" stroke-opacity="0.22" stroke-width="6" stroke-linejoin="round" stroke-linecap="round"/>
<polyline points="565,371 555,348 534,334 526,310" fill="none" stroke="#000" stroke-opacity="0.22" stroke-width="6" stroke-linejoin="round" stroke-linecap="round"/>
<polyline points="604,92 585,113 558,112 532,123" fill="none" stroke="#000" stroke-opacity="0.22" stroke-width="6" stroke-linejoin="round" stroke-linecap="round"/>
<polyline points="485,179 501,202 524,219 533,245" fill="none" stroke="#000" stroke-opacity="0.22" stroke-width="6" stroke-linejoin="round" stroke-linecap="round"/>
<polyline points="446,265 445,295 440,324 458,348" fill="none" stroke="#000" stroke-opacity="0.22" stroke-width="6" stroke-linejoin="round" stroke-linecap="round"/>
<polyline points="454,61 468,77 476,95 467,114" fill="none" stroke="#000" stroke-opacity="0.22" stroke-width="6" stroke-linejoin="round" stroke-linecap="round"/>
<polyline points="441,169 443,198 432,225 405,236" fill="none" stroke="#000" stroke-opacity="0.22" stroke-width="6" stroke-linejoin="round" stroke-linecap="round"/>
<polyline points="611,267 618,287 635,298 645,317" fill="none" stroke="#000" stroke-opacity="0.22" stroke-width="6" stroke-linejoin="round" stroke-linecap="round"/>
<polyline points="113,270 113,297 102,322 104,349" fill="none" stroke="#000" stroke-opacity="0.22" stroke-width="6" stroke-linejoin="round" stroke-linecap="round"/>
<polyline points="146,87 156,106 172,119 192,126" fill="none" stroke="#000" stroke-opacity="0.22" stroke-width="6" stroke-linejoin="round" stroke-linecap="round"/>
<polyline points="176,236 192,257 203,281 227,292" fill="none" stroke="#000" stroke-opacity="0.22" stroke-width="6" stroke-linejoin="round" stroke-linecap="round"/>
<polyline points="173,336 156,324 135,323 120,309" fill="none" stroke="#000" stroke-opacity="0.22" stroke-width="6" stroke-linejoin="round" stroke-linecap="round"/>
<polyline points="280,340 267,335 253,332 243,323" fill="none" stroke="#000" stroke-opacity="0.22" stroke-width="6" stroke-linejoin="round" stroke-linecap="round"/>
<polyline points="167,386 141,397 113,405 88,392" fill="none" stroke="#000" stroke-opacity="0.22" stroke-width="6" stroke-linejoin="round" stroke-linecap="round"/>
<polyline points="589,321 573,312 556,317 545,331" fill="none" stroke="#000" stroke-opacity="0.22" stroke-width="6" stroke-linejoin="round" stroke-linecap="round"/>
<polyline points="129,235 116,246 102,254 94,269" fill="none" stroke="#000" stroke-opacity="0.22" stroke-width="6" stroke-linejoin="round" stroke-linecap="round"/>
<polyline points="442,340 431,324 424,308 430,290" fill="none" stroke="#000" stroke-opacity="0.22" stroke-width="6" stroke-linejoin="round" stroke-linecap="round"/>
<polyline points="211,172 218,199 239,217 256,240" fill="none" stroke="#000" stroke-opacity="0.22" stroke-width="6" stroke-linejoin="round" stroke-linecap="round"/>
<polyline points="474,193 485,217 506,233 532,233" fill="none" stroke="#000" stroke-opacity="0.22" stroke-width="6" stroke-linejoin="round" stroke-linecap="round"/>
<polyline points="375,60 370,74 363,87 366,101" fill="none" stroke="#000" stroke-opacity="0.22" stroke-width="6" stroke-linejoin="round" stroke-linecap="round"/>
<polyline points="586,318 574,327 567,340 565,355" fill="none" stroke="#000" stroke-opacity="0.22" stroke-width="6" stroke-linejoin="round" stroke-linecap="round"/>
<polyline points="511,171 516,189 508,206 505,225" fill="none" stroke="#000" stroke-opacity="0.22" stroke-width="6" stroke-linejoin="round" stroke-linecap="round"/>
<polyline points="235,111 248,128 267,136 281,152" fill="none" stroke="#000" stroke-opacity="0.22" stroke-width="6" stroke-linejoin="round" stroke-linecap="round"/>
<polyline points="401,192 421,209 446,208 464,189" fill="none" stroke="#000" stroke-opacity="0.22" stroke-width="6" stroke-linejoin="round" stroke-linecap="round"/>
<polyline points="373,167 386,176 400,181 412,191" fill="none" stroke="#000" stroke-opacity="0.22" stroke-width="6" stroke-linejoin="round" stroke-linecap="round"/>
<polyline points="358,383 335,382 312,381 288,378" fill="none" stroke="#000" stroke-opacity="0.22" stroke-width="6" stroke-linejoin="round" stroke-linecap="round"/>
</g>
<path d="M90,330C87,313 92,282 100,260C108,238 128,218 140,200C152,182 157,168 170,150C183,132 202,107 220,90C238,73 260,59 280,50C300,41 320,36 340,35C360,34 378,41 400,45C422,49 447,52 470,60C493,68 518,77 540,90C562,103 583,122 600,140C617,158 630,178 640,200C650,222 657,248 660,270C663,292 663,313 660,330C657,347 650,360 640,370C630,380 615,386 600,390C585,394 565,393 550,395C535,397 518,392 510,400C502,408 508,430 500,440C492,450 475,457 460,460C445,463 427,465 410,460C393,455 378,440 360,430C342,420 320,408 300,400C280,392 260,385 240,380C220,375 200,373 180,370C160,367 135,367 120,360C105,353 93,347 90,330Z" fill="none" stroke="#222" stroke-opacity="0.55" stroke-width="5" stroke-linejoin="round"/>
</g>
<g transform="translate(370,390) scale(0.10264)">
<clipPath id="bc12"><path d="M120,330C118,312 120,282 125,260C130,238 138,220 150,200C162,180 180,157 200,140C220,123 245,112 270,100C295,88 325,78 350,70C375,62 398,53 420,50C442,47 460,45 480,50C500,55 522,67 540,80C558,93 573,112 590,130C607,148 627,168 640,190C653,212 665,237 670,260C675,283 673,312 670,330C667,348 660,360 650,370C640,380 627,385 610,390C593,395 568,393 550,400C532,407 518,420 500,430C482,440 460,452 440,460C420,468 398,477 380,480C362,483 345,483 330,480C315,477 300,470 290,460C280,450 280,430 270,420C260,410 247,405 230,400C213,395 186,395 170,390C154,385 143,380 135,370C127,360 122,348 120,330Z"/></clipPath>
<path d="M120,330C118,312 120,282 125,260C130,238 138,220 150,200C162,180 180,157 200,140C220,123 245,112 270,100C295,88 325,78 350,70C375,62 398,53 420,50C442,47 460,45 480,50C500,55 522,67 540,80C558,93 573,112 590,130C607,148 627,168 640,190C653,212 665,237 670,260C675,283 673,312 670,330C667,348 660,360 650,370C640,380 627,385 610,390C593,395 568,393 550,400C532,407 518,420 500,430C482,440 460,452 440,460C420,468 398,477 380,480C362,483 345,483 330,480C315,477 300,470 290,460C280,450 280,430 270,420C260,410 247,405 230,400C213,395 186,395 170,390C154,385 143,380 135,370C127,360 122,348 120,330Z" fill="#24a38a"/>
<g clip-path="url(#bc12)">
<path d="M140,220C145,206 168,204 180,200C192,196 228,188 240,190C252,192 274,210 280,220C286,230 291,268 290,280C289,292 276,311 270,320C264,329 248,354 240,360C232,366 209,370 200,370C191,370 167,366 160,360C153,354 142,336 140,320C138,304 135,234 140,220Z" fill="#6ccb6a" stroke="#6ccb6a" stroke-width="6" stroke-linejoin="round"/>
<path d="M250,150C260,143 330,119 350,110C370,101 408,76 420,70C432,64 445,54 450,60C455,66 461,104 460,120C459,136 447,184 440,200C433,216 413,248 400,260C387,272 343,294 330,300C317,306 296,315 290,310C284,305 282,273 280,260C278,247 272,210 270,200C268,190 262,176 260,170C258,164 240,157 250,150Z" fill="#2d7f8e" stroke="#2d7f8e" stroke-width="6" stroke-linejoin="round"/>
<path d="M290,360C296,350 317,337 330,330C343,323 384,307 400,300C416,293 455,274 470,270C485,266 521,266 530,270C539,274 550,290 550,300C550,310 538,348 530,360C522,372 493,392 480,400C467,408 435,423 420,430C405,437 364,456 350,460C336,464 308,465 300,460C292,455 281,432 280,420C279,408 284,370 290,360Z" fill="#53c36a" stroke="#53c36a" stroke-width="6" stroke-linejoin="round"/>
<path d="M320,410C324,404 365,387 380,380C395,373 434,358 450,350C466,342 510,317 520,310C530,303 536,289 540,290C544,291 555,311 550,320C545,329 515,361 500,370C485,379 438,393 420,400C402,407 362,429 350,430C338,431 316,416 320,410Z" fill="#9ad046" stroke="#9ad046" stroke-width="6" stroke-linejoin="round"/>
<path d="M150,370C154,369 188,378 200,380C212,382 242,385 250,390C258,395 272,419 270,420C268,421 242,404 230,400C218,396 179,394 170,390C161,386 146,371 150,370Z" fill="#2b8c8e" stroke="#2b8c8e" stroke-width="6" stroke-linejoin="round"/>
<polyline points="227,144 276,164 334,144 373,113" fill="none" stroke="#000" stroke-opacity="0.28" stroke-width="7" stroke-linejoin="round" stroke-linecap="round"/>
<polyline points="169,235 227,215 276,230 315,215" fill="none" stroke="#000" stroke-opacity="0.28" stroke-width="7" stroke-linejoin="round" stroke-linecap="round"/>
<polyline points="363,72 354,134 373,185 354,246 363,297" fill="none" stroke="#000" stroke-opacity="0.28" stroke-width="7" stroke-linejoin="round" stroke-linecap="round"/>
<polyline points="422,62 402,123 422,174 393,235 412,276" fill="none" stroke="#000" stroke-opacity="0.28" stroke-width="7" stroke-linejoin="round" stroke-linecap="round"/>
<polyline points="470,57 461,113 480,164 451,246" fill="none" stroke="#000" stroke-opacity="0.28" stroke-width="7" stroke-linejoin="round" stroke-linecap="round"/>
<polyline points="490,154 539,174 587,195 626,235" fill="none" stroke="#000" stroke-opacity="0.28" stroke-width="7" stroke-linejoin="round" stroke-linecap="round"/>
<polyline points="305,327 373,307 451,276 529,261" fill="none" stroke="#000" stroke-opacity="0.28" stroke-width="7" stroke-linejoin="round" stroke-linecap="round"/>
<polyline points="315,388 393,358 470,327 539,307 587,317" fill="none" stroke="#000" stroke-opacity="0.28" stroke-width="7" stroke-linejoin="round" stroke-linecap="round"/>
<polyline points="344,439 422,419 500,388 558,358" fill="none" stroke="#000" stroke-opacity="0.28" stroke-width="7" stroke-linejoin="round" stroke-linecap="round"/>
<polyline points="548,103 568,154 607,174" fill="none" stroke="#000" stroke-opacity="0.28" stroke-width="7" stroke-linejoin="round" stroke-linecap="round"/>
<polyline points="198,317 247,307 276,317" fill="none" stroke="#000" stroke-opacity="0.28" stroke-width="7" stroke-linejoin="round" stroke-linecap="round"/>
<polyline points="519,72 509,123 529,164" fill="none" stroke="#000" stroke-opacity="0.28" stroke-width="7" stroke-linejoin="round" stroke-linecap="round"/>
<polyline points="587,246 626,276 646,317" fill="none" stroke="#000" stroke-opacity="0.28" stroke-width="7" stroke-linejoin="round" stroke-linecap="round"/>
<polyline points="276,113 305,164 285,205" fill="none" stroke="#000" stroke-opacity="0.28" stroke-width="7" stroke-linejoin="round" stroke-linecap="round"/>
<polyline points="178,266 208,256 237,276" fill="none" stroke="#000" stroke-opacity="0.28" stroke-width="7" stroke-linejoin="round" stroke-linecap="round"/>
<polyline points="149,297 188,286 217,307" fill="none" stroke="#000" stroke-opacity="0.28" stroke-width="7" stroke-linejoin="round" stroke-linecap="round"/>
<polyline points="159,348 208,337 247,353" fill="none" stroke="#000" stroke-opacity="0.28" stroke-width="7" stroke-linejoin="round" stroke-linecap="round"/>
<polyline points="208,185 256,195 295,174" fill="none" stroke="#000" stroke-opacity="0.28" stroke-width="7" stroke-linejoin="round" stroke-linecap="round"/>
<polyline points="383,83 393,103 378,123" fill="none" stroke="#000" stroke-opacity="0.28" stroke-width="7" stroke-linejoin="round" stroke-linecap="round"/>
<polyline points="441,93 432,144 451,185 432,215" fill="none" stroke="#000" stroke-opacity="0.28" stroke-width="7" stroke-linejoin="round" stroke-linecap="round"/>
<polyline points="509,83 529,113 548,134" fill="none" stroke="#000" stroke-opacity="0.28" stroke-width="7" stroke-linejoin="round" stroke-linecap="round"/>
<polyline points="568,123 587,164 578,205" fill="none" stroke="#000" stroke-opacity="0.28" stroke-width="7" stroke-linejoin="round" stroke-linecap="round"/>
<polyline points="519,205 558,215 597,256" fill="none" stroke="#000" stroke-opacity="0.28" stroke-width="7" stroke-linejoin="round" stroke-linecap="round"/>
<polyline points="334,419 393,398" fill="none" stroke="#000" stroke-opacity="0.28" stroke-width="7" stroke-linejoin="round" stroke-linecap="round"/>
<polyline points="470,419 519,398" fill="none" stroke="#000" stroke-opacity="0.28" stroke-width="7" stroke-linejoin="round" stroke-linecap="round"/>
<polyline points="607,297 636,337" fill="none" stroke="#000" stroke-opacity="0.28" stroke-width="7" stroke-linejoin="round" stroke-linecap="round"/>
<polyline points="568,276 597,317 626,358" fill="none" stroke="#000" stroke-opacity="0.28" stroke-width="7" stroke-linejoin="round" stroke-linecap="round"/>
<polyline points="402,307 432,291 470,297" fill="none" stroke="#000" stroke-opacity="0.28" stroke-width="7" stroke-linejoin="round" stroke-linecap="round"/>
<polyline points="214,144 218,166 229,186 237,206" fill="none" stroke="#000" stroke-opacity="0.22" stroke-width="6" stroke-linejoin="round" stroke-linecap="round"/>
<polyline points="307,347 320,332 338,325 357,329" fill="none" stroke="#000" stroke-opacity="0.22" stroke-width="6" stroke-linejoin="round" stroke-linecap="round"/>
<polyline points="402,418 417,399 419,374 424,350" fill="none" stroke="#000" stroke-opacity="0.22" stroke-width="6" stroke-linejoin="round" stroke-linecap="round"/>
<polyline points="182,81 179,104 165,123 157,144" fill="none" stroke="#000" stroke-opacity="0.22" stroke-width="6" stroke-linejoin="round" stroke-linecap="round"/>
<polyline points="473,451 489,446 500,433 513,423" fill="none" stroke="#000" stroke-opacity="0.22" stroke-width="6" stroke-linejoin="round" stroke-linecap="round"/>
<polyline points="385,295 407,313 407,342 390,366" fill="none" stroke="#000" stroke-opacity="0.22" stroke-width="6" stroke-linejoin="round" stroke-linecap="round"/>
<polyline points="524,315 539,330 538,352 553,367" fill="none" stroke="#000" stroke-opacity="0.22" stroke-width="6" stroke-linejoin="round" stroke-linecap="round"/>
<polyline points="412,115 401,124 395,137 392,151" fill="none" stroke="#000" stroke-opacity="0.22" stroke-width="6" stroke-linejoin="round" stroke-linecap="round"/>
<polyline points="149,286 163,311 185,329 210,342" fill="none" stroke="#000" stroke-opacity="0.22" stroke-width="6" stroke-linejoin="round" stroke-linecap="round"/>
<polyline points="259,160 275,179 270,203 285,222" fill="none" stroke="#000" stroke-opacity="0.22" stroke-width="6" stroke-linejoin="round" stroke-linecap="round"/>
<polyline points="290,336 309,325 324,308 335,289" fill="none" stroke="#000" stroke-opacity="0.22" stroke-width="6" stroke-linejoin="round" stroke-linecap="round"/>
<polyline points="267,308 263,321 265,335 271,347" fill="none" stroke="#000" stroke-opacity="0.22" stroke-width="6" stroke-linejoin="round" stroke-linecap="round"/>
<polyline points="155,303 148,324 158,344 176,355" fill="none" stroke="#000" stroke-opacity="0.22" stroke-width="6" stroke-linejoin="round" stroke-linecap="round"/>
<polyline points="543,157 542,180 548,202 565,218" fill="none" stroke="#000" stroke-opacity="0.22" stroke-width="6" stroke-linejoin="round" stroke-linecap="round"/>
<polyline points="559,197 565,212 577,224 591,233" fill="none" stroke="#000" stroke-opacity="0.22" stroke-width="6" stroke-linejoin="round" stroke-linecap="round"/>
<polyline points="530,254 517,267 500,275 483,281" fill="none" stroke="#000" stroke-opacity="0.22" stroke-width="6" stroke-linejoin="round" stroke-linecap="round"/>
<polyline points="392,361 410,355 418,339 428,325" fill="none" stroke="#000" stroke-opacity="0.22" stroke-width="6" stroke-linejoin="round" stroke-linecap="round"/>
<polyline points="360,110 371,119 379,132 390,141" fill="none" stroke="#000" stroke-opacity="0.22" stroke-width="6" stroke-linejoin="round" stroke-linecap="round"/>
<polyline points="146,116 129,140 132,168 126,196" fill="none" stroke="#000" stroke-opacity="0.22" stroke-width="6" stroke-linejoin="round" stroke-linecap="round"/>
<polyline points="610,77 609,93 603,109 600,125" fill="none" stroke="#000" stroke-opacity="0.22" stroke-width="6" stroke-linejoin="round" stroke-linecap="round"/>
<polyline points="424,206 411,227 401,250 381,265" fill="none" stroke="#000" stroke-opacity="0.22" stroke-width="6" stroke-linejoin="round" stroke-linecap="round"/>
<polyline points="527,282 528,296 537,307 551,307" fill="none" stroke="#000" stroke-opacity="0.22" stroke-width="6" stroke-linejoin="round" stroke-linecap="round"/>
<polyline points="478,166 485,181 488,197 482,212" fill="none" stroke="#000" stroke-opacity="0.22" stroke-width="6" stroke-linejoin="round" stroke-linecap="round"/>
<polyline points="247,370 266,370 282,360 293,345" fill="none" stroke="#000" stroke-opacity="0.22" stroke-width="6" stroke-linejoin="round" stroke-linecap="round"/>
<polyline points="148,256 144,272 135,285 127,300" fill="none" stroke="#000" stroke-opacity="0.22" stroke-width="6" stroke-linejoin="round" stroke-linecap="round"/>
<polyline points="624,318 644,316 661,329 681,328" fill="none" stroke="#000" stroke-opacity="0.22" stroke-width="6" stroke-linejoin="round" stroke-linecap="round"/>
<polyline points="268,416 281,401 295,387 294,367" fill="none" stroke="#000" stroke-opacity="0.22" stroke-width="6" stroke-linejoin="round" stroke-linecap="round"/>
<polyline points="538,366 554,384 578,384 599,374" fill="none" stroke="#000" stroke-opacity="0.22" stroke-width="6" stroke-linejoin="round" stroke-linecap="round"/>
<polyline points="625,190 635,209 651,225 673,229" fill="none" stroke="#000" stroke-opacity="0.22" stroke-width="6" stroke-linejoin="round" stroke-linecap="round"/>
<polyline points="193,79 191,105 204,128 227,140" fill="none" stroke="#000" stroke-opacity="0.22" stroke-width="6" stroke-linejoin="round" stroke-linecap="round"/>
<polyline points="646,147 642,162 641,177 629,185" fill="none" stroke="#000" stroke-opacity="0.22" stroke-width="6" stroke-linejoin="round" stroke-linecap="round"/>
<polyline points="465,263 459,278 460,294 461,310" fill="none" stroke="#000" stroke-opacity="0.22" stroke-width="6" stroke-linejoin="round" stroke-linecap="round"/>
<polyline points="419,454 442,445 466,445 482,427" fill="none" stroke="#000" stroke-opacity="0.22" stroke-width="6" stroke-linejoin="round" stroke-linecap="round"/>
<polyline points="538,191 530,217 523,243 526,271" fill="none" stroke="#000" stroke-opacity="0.22" stroke-width="6" stroke-linejoin="round" stroke-linecap="round"/>
<polyline points="319,200 308,228 295,254 278,279" fill="none" stroke="#000" stroke-opacity="0.22" stroke-width="6" stroke-linejoin="round" stroke-linecap="round"/>
<polyline points="423,346 443,353 462,364 484,361" fill="none" stroke="#000" stroke-opacity="0.22" stroke-width="6" stroke-linejoin="round" stroke-linecap="round"/>
<polyline points="181,238 178,262 174,287 188,307" fill="none" stroke="#000" stroke-opacity="0.22" stroke-width="6" stroke-linejoin="round" stroke-linecap="round"/>
<polyline points="620,98 612,114 595,120 579,128" fill="none" stroke="#000" stroke-opacity="0.22" stroke-width="6" stroke-linejoin="round" stroke-linecap="round"/>
<polyline points="197,187 195,203 182,211 173,223" fill="none" stroke="#000" stroke-opacity="0.22" stroke-width="6" stroke-linejoin="round" stroke-linecap="round"/>
<polyline points="523,362 546,345 574,339 600,352" fill="none" stroke="#000" stroke-opacity="0.22" stroke-width="6" stroke-linejoin="round" stroke-linecap="round"/>
</g>
<path d="M120,330C118,312 120,282 125,260C130,238 138,220 150,200C162,180 180,157 200,140C220,123 245,112 270,100C295,88 325,78 350,70C375,62 398,53 420,50C442,47 460,45 480,50C500,55 522,67 540,80C558,93 573,112 590,130C607,148 627,168 640,190C653,212 665,237 670,260C675,283 673,312 670,330C667,348 660,360 650,370C640,380 627,385 610,390C593,395 568,393 550,400C532,407 518,420 500,430C482,440 460,452 440,460C420,468 398,477 380,480C362,483 345,483 330,480C315,477 300,470 290,460C280,450 280,430 270,420C260,410 247,405 230,400C213,395 186,395 170,390C154,385 143,380 135,370C127,360 122,348 120,330Z" fill="none" stroke="#222" stroke-opacity="0.55" stroke-width="5" stroke-linejoin="round"/>
</g>
<g transform="translate(432,390) scale(0.10264)">
<clipPath id="bc13"><path d="M110,340C104,323 110,292 115,270C120,248 128,230 140,210C152,190 173,168 190,150C207,132 223,115 240,100C257,85 273,68 290,60C307,52 318,50 340,50C362,50 393,53 420,60C447,67 475,78 500,90C525,102 550,115 570,130C590,145 607,162 620,180C633,198 643,220 650,240C657,260 662,280 660,300C658,320 650,343 640,360C630,377 617,390 600,400C583,410 557,417 540,420C523,423 508,415 500,420C492,425 498,442 490,450C482,458 463,466 450,470C437,474 425,478 410,475C395,472 378,459 360,450C342,441 323,430 300,420C277,410 245,398 220,390C195,382 168,378 150,370C132,362 116,357 110,340Z"/></clipPath>
<path d="M110,340C104,323 110,292 115,270C120,248 128,230 140,210C152,190 173,168 190,150C207,132 223,115 240,100C257,85 273,68 290,60C307,52 318,50 340,50C362,50 393,53 420,60C447,67 475,78 500,90C525,102 550,115 570,130C590,145 607,162 620,180C633,198 643,220 650,240C657,260 662,280 660,300C658,320 650,343 640,360C630,377 617,390 600,400C583,410 557,417 540,420C523,423 508,415 500,420C492,425 498,442 490,450C482,458 463,466 450,470C437,474 425,478 410,475C395,472 378,459 360,450C342,441 323,430 300,420C277,410 245,398 220,390C195,382 168,378 150,370C132,362 116,357 110,340Z" fill="#27a98b"/>
<g clip-path="url(#bc13)">
<path d="M210,190C211,174 232,153 240,140C248,127 273,88 280,80C287,72 295,62 300,70C305,78 318,135 320,150C322,165 325,191 320,200C315,209 287,221 280,230C273,239 266,274 260,280C254,286 236,290 230,280C224,270 209,206 210,190Z" fill="#8bd055" stroke="#8bd055" stroke-width="6" stroke-linejoin="round"/>
<path d="M120,290C124,281 152,229 160,220C168,211 183,205 190,210C197,215 215,252 220,260C225,268 235,275 230,280C225,285 192,298 180,300C168,302 137,301 130,300C123,299 116,299 120,290Z" fill="#f0e21f" stroke="#f0e21f" stroke-width="6" stroke-linejoin="round"/>
<path d="M280,280C278,270 293,248 300,240C307,232 326,214 340,210C354,206 402,204 420,205C438,206 476,215 490,220C504,225 532,241 540,250C548,259 560,290 560,300C560,310 547,332 540,340C533,348 508,364 500,370C492,376 477,385 470,390C463,395 450,412 440,410C430,408 394,379 380,370C366,361 332,340 320,330C308,320 282,290 280,280Z" fill="#f7f7f7" stroke="#f7f7f7" stroke-width="6" stroke-linejoin="round"/>
<path d="M260,280C261,271 272,229 280,220C288,211 325,199 330,200C335,201 324,223 320,230C316,237 304,251 300,260C296,269 294,305 290,310C286,315 274,304 270,300C266,296 259,289 260,280Z" fill="#3b6ea0" stroke="#3b6ea0" stroke-width="6" stroke-linejoin="round"/>
<path d="M120,340C124,336 165,324 180,320C195,316 236,310 250,310C264,310 291,315 300,320C309,325 330,344 330,350C330,356 313,369 300,370C287,371 238,362 220,360C202,358 162,352 150,350C138,348 116,344 120,340Z" fill="#3a5d9a" stroke="#3a5d9a" stroke-width="6" stroke-linejoin="round"/>
<path d="M300,330C302,328 321,333 330,340C339,347 376,383 380,390C384,397 368,404 360,400C352,396 317,368 310,360C303,352 298,332 300,330Z" fill="#4b2a7f" stroke="#4b2a7f" stroke-width="6" stroke-linejoin="round"/>
<path d="M500,380C506,372 546,356 560,350C574,344 611,331 620,330C629,329 640,333 640,340C640,347 629,381 620,390C611,399 573,412 560,415C547,418 517,424 510,420C503,416 494,388 500,380Z" fill="#6cc76a" stroke="#6cc76a" stroke-width="6" stroke-linejoin="round"/>
<path d="M540,250C541,251 558,290 560,300C562,310 565,332 560,340C555,348 527,366 520,370C513,374 498,375 500,370C502,365 534,339 540,330C546,321 550,299 550,290C550,281 539,249 540,250Z" fill="#2c7f8e" stroke="#2c7f8e" stroke-width="6" stroke-linejoin="round"/>
<polyline points="135,313 194,283 274,273" fill="none" stroke="#000" stroke-opacity="0.28" stroke-width="7" stroke-linejoin="round" stroke-linecap="round"/>
<polyline points="184,151 234,212 274,262" fill="none" stroke="#000" stroke-opacity="0.28" stroke-width="7" stroke-linejoin="round" stroke-linecap="round"/>
<polyline points="323,131 422,141 521,171 601,232 630,303" fill="none" stroke="#000" stroke-opacity="0.28" stroke-width="7" stroke-linejoin="round" stroke-linecap="round"/>
<polyline points="234,313 274,333 313,343" fill="none" stroke="#000" stroke-opacity="0.28" stroke-width="7" stroke-linejoin="round" stroke-linecap="round"/>
<polyline points="373,101 432,111 492,131" fill="none" stroke="#000" stroke-opacity="0.28" stroke-width="7" stroke-linejoin="round" stroke-linecap="round"/>
<polyline points="155,232 204,252" fill="none" stroke="#000" stroke-opacity="0.28" stroke-width="7" stroke-linejoin="round" stroke-linecap="round"/>
<polyline points="472,141 551,182" fill="none" stroke="#000" stroke-opacity="0.28" stroke-width="7" stroke-linejoin="round" stroke-linecap="round"/>
<polyline points="224,343 274,364" fill="none" stroke="#000" stroke-opacity="0.28" stroke-width="7" stroke-linejoin="round" stroke-linecap="round"/>
<polyline points="541,313 591,343" fill="none" stroke="#000" stroke-opacity="0.28" stroke-width="7" stroke-linejoin="round" stroke-linecap="round"/>
<polyline points="293,303 303,242 363,202 442,197 511,212 571,247 601,303 591,343" fill="none" stroke="#000" stroke-opacity="0.28" stroke-width="7" stroke-linejoin="round" stroke-linecap="round"/>
<polyline points="274,192 313,161 373,151" fill="none" stroke="#000" stroke-opacity="0.28" stroke-width="7" stroke-linejoin="round" stroke-linecap="round"/>
<polyline points="224,262 254,242" fill="none" stroke="#000" stroke-opacity="0.28" stroke-width="7" stroke-linejoin="round" stroke-linecap="round"/>
<polyline points="313,313 343,283 373,303 353,343 402,364 432,343 472,374 452,404 492,414 511,394" fill="none" stroke="#3a3a3a" stroke-opacity="0.8" stroke-width="6" stroke-linejoin="round"/>
<polyline points="333,273 323,333 363,374 412,394 442,424 482,445" fill="none" stroke="#3a3a3a" stroke-opacity="0.8" stroke-width="6" stroke-linejoin="round"/>
<polyline points="353,313 383,333 373,364 422,384" fill="none" stroke="#3a3a3a" stroke-opacity="0.8" stroke-width="6" stroke-linejoin="round"/>
<polyline points="402,343 442,364 422,394 472,404" fill="none" stroke="#3a3a3a" stroke-opacity="0.8" stroke-width="6" stroke-linejoin="round"/>
<polyline points="323,313 353,374 392,414 452,445 501,455" fill="none" stroke="#3a3a3a" stroke-opacity="0.8" stroke-width="6" stroke-linejoin="round"/>
<polyline points="373,343 422,374 472,394 511,414" fill="none" stroke="#3a3a3a" stroke-opacity="0.8" stroke-width="6" stroke-linejoin="round"/>
</g>
<path d="M110,340C104,323 110,292 115,270C120,248 128,230 140,210C152,190 173,168 190,150C207,132 223,115 240,100C257,85 273,68 290,60C307,52 318,50 340,50C362,50 393,53 420,60C447,67 475,78 500,90C525,102 550,115 570,130C590,145 607,162 620,180C633,198 643,220 650,240C657,260 662,280 660,300C658,320 650,343 640,360C630,377 617,390 600,400C583,410 557,417 540,420C523,423 508,415 500,420C492,425 498,442 490,450C482,458 463,466 450,470C437,474 425,478 410,475C395,472 378,459 360,450C342,441 323,430 300,420C277,410 245,398 220,390C195,382 168,378 150,370C132,362 116,357 110,340Z" fill="none" stroke="#222" stroke-opacity="0.55" stroke-width="5" stroke-linejoin="round"/>
</g>
<g transform="translate(494,390) scale(0.10264)">
<clipPath id="bc14"><path d="M95,330C93,312 94,283 100,260C106,237 115,212 130,190C145,168 168,147 190,130C212,113 235,100 260,90C285,80 317,76 340,70C363,64 383,59 400,55C417,51 425,43 440,45C455,47 473,54 490,65C507,76 525,94 540,110C555,126 568,143 580,160C592,177 602,192 610,210C618,228 625,250 630,270C635,290 642,313 640,330C638,347 633,362 620,370C607,378 580,375 560,380C540,385 523,392 500,400C477,408 443,420 420,430C397,440 378,453 360,460C342,467 325,472 310,470C295,468 280,458 270,450C260,442 262,427 250,420C238,413 218,415 200,410C182,405 155,397 140,390C125,383 118,380 110,370C102,360 97,348 95,330Z"/></clipPath>
<path d="M95,330C93,312 94,283 100,260C106,237 115,212 130,190C145,168 168,147 190,130C212,113 235,100 260,90C285,80 317,76 340,70C363,64 383,59 400,55C417,51 425,43 440,45C455,47 473,54 490,65C507,76 525,94 540,110C555,126 568,143 580,160C592,177 602,192 610,210C618,228 625,250 630,270C635,290 642,313 640,330C638,347 633,362 620,370C607,378 580,375 560,380C540,385 523,392 500,400C477,408 443,420 420,430C397,440 378,453 360,460C342,467 325,472 310,470C295,468 280,458 270,450C260,442 262,427 250,420C238,413 218,415 200,410C182,405 155,397 140,390C125,383 118,380 110,370C102,360 97,348 95,330Z" fill="#2bb08a"/>
<g clip-path="url(#bc14)">
<path d="M340,70C346,59 388,57 400,55C412,53 435,40 440,50C445,60 445,127 440,140C435,153 410,159 400,160C390,161 357,160 350,150C343,140 334,81 340,70Z" fill="#26908c" stroke="#26908c" stroke-width="6" stroke-linejoin="round"/>
<path d="M440,60C446,45 478,59 490,65C502,71 532,100 540,110C548,120 560,140 560,150C560,160 545,187 540,200C535,213 527,252 520,260C513,268 486,274 480,270C474,266 475,239 470,230C465,221 444,210 440,190C436,170 434,75 440,60Z" fill="#8cd056" stroke="#8cd056" stroke-width="6" stroke-linejoin="round"/>
<path d="M520,250C524,241 551,206 560,200C569,194 593,193 600,200C607,207 616,246 620,260C624,274 632,315 630,320C628,325 608,304 600,300C592,296 568,292 560,290C552,288 535,285 530,280C525,275 516,259 520,250Z" fill="#eee120" stroke="#eee120" stroke-width="6" stroke-linejoin="round"/>
<path d="M200,300C198,290 204,268 210,260C216,252 237,235 250,230C263,225 302,217 320,215C338,213 385,208 400,210C415,212 442,222 450,230C458,238 470,268 470,280C470,292 458,320 450,330C442,340 412,362 400,370C388,378 362,395 350,400C338,405 309,412 300,410C291,408 278,387 270,380C262,373 238,359 230,350C222,341 202,310 200,300Z" fill="#f7f7f7" stroke="#f7f7f7" stroke-width="6" stroke-linejoin="round"/>
<path d="M410,210C409,198 442,196 450,200C458,204 476,230 480,240C484,250 482,283 480,290C478,297 468,309 460,300C452,291 411,222 410,210Z" fill="#3b6b9e" stroke="#3b6b9e" stroke-width="6" stroke-linejoin="round"/>
<path d="M460,320C470,311 504,292 520,290C536,288 586,295 600,300C614,305 638,322 640,330C642,338 629,364 620,370C611,376 574,376 560,380C546,384 516,394 500,400C484,406 434,428 420,430C406,432 379,427 380,420C381,413 421,382 430,370C439,358 450,329 460,320Z" fill="#2d7e8f" stroke="#2d7e8f" stroke-width="6" stroke-linejoin="round"/>
<path d="M110,330C115,324 140,319 150,320C160,321 190,334 200,340C210,346 233,363 240,370C247,377 259,394 260,400C261,406 257,419 250,420C243,421 213,414 200,410C187,406 150,395 140,390C130,385 114,377 110,370C106,363 105,336 110,330Z" fill="#86d058" stroke="#86d058" stroke-width="6" stroke-linejoin="round"/>
<path d="M380,380C385,372 432,334 440,330C448,326 455,342 450,350C445,358 408,396 400,400C392,404 375,388 380,380Z" fill="#4a2780" stroke="#4a2780" stroke-width="6" stroke-linejoin="round"/>
<polyline points="615,308 557,278 478,268" fill="none" stroke="#000" stroke-opacity="0.28" stroke-width="7" stroke-linejoin="round" stroke-linecap="round"/>
<polyline points="566,146 517,207 478,258" fill="none" stroke="#000" stroke-opacity="0.28" stroke-width="7" stroke-linejoin="round" stroke-linecap="round"/>
<polyline points="429,126 331,136 232,166 154,227 124,298" fill="none" stroke="#000" stroke-opacity="0.28" stroke-width="7" stroke-linejoin="round" stroke-linecap="round"/>
<polyline points="517,308 478,328 439,338" fill="none" stroke="#000" stroke-opacity="0.28" stroke-width="7" stroke-linejoin="round" stroke-linecap="round"/>
<polyline points="380,96 321,106 262,126" fill="none" stroke="#000" stroke-opacity="0.28" stroke-width="7" stroke-linejoin="round" stroke-linecap="round"/>
<polyline points="596,227 547,247" fill="none" stroke="#000" stroke-opacity="0.28" stroke-width="7" stroke-linejoin="round" stroke-linecap="round"/>
<polyline points="282,136 203,177" fill="none" stroke="#000" stroke-opacity="0.28" stroke-width="7" stroke-linejoin="round" stroke-linecap="round"/>
<polyline points="527,338 478,359" fill="none" stroke="#000" stroke-opacity="0.28" stroke-width="7" stroke-linejoin="round" stroke-linecap="round"/>
<polyline points="213,308 164,338" fill="none" stroke="#000" stroke-opacity="0.28" stroke-width="7" stroke-linejoin="round" stroke-linecap="round"/>
<polyline points="458,298 449,237 390,197 311,192 242,207 183,242 154,298 164,338" fill="none" stroke="#000" stroke-opacity="0.28" stroke-width="7" stroke-linejoin="round" stroke-linecap="round"/>
<polyline points="478,187 439,156 380,146" fill="none" stroke="#000" stroke-opacity="0.28" stroke-width="7" stroke-linejoin="round" stroke-linecap="round"/>
<polyline points="527,258 498,237" fill="none" stroke="#000" stroke-opacity="0.28" stroke-width="7" stroke-linejoin="round" stroke-linecap="round"/>
<polyline points="439,308 409,278 380,298 399,338 350,359 321,338 282,369 301,399 262,409 242,389" fill="none" stroke="#3a3a3a" stroke-opacity="0.8" stroke-width="6" stroke-linejoin="round"/>
<polyline points="419,268 429,328 390,369 340,389 311,419 272,440" fill="none" stroke="#3a3a3a" stroke-opacity="0.8" stroke-width="6" stroke-linejoin="round"/>
<polyline points="399,308 370,328 380,359 331,379" fill="none" stroke="#3a3a3a" stroke-opacity="0.8" stroke-width="6" stroke-linejoin="round"/>
<polyline points="350,338 311,359 331,389 282,399" fill="none" stroke="#3a3a3a" stroke-opacity="0.8" stroke-width="6" stroke-linejoin="round"/>
<polyline points="429,308 399,369 360,409 301,440 252,450" fill="none" stroke="#3a3a3a" stroke-opacity="0.8" stroke-width="6" stroke-linejoin="round"/>
<polyline points="380,338 331,369 282,389 242,409" fill="none" stroke="#3a3a3a" stroke-opacity="0.8" stroke-width="6" stroke-linejoin="round"/>
</g>
<path d="M95,330C93,312 94,283 100,260C106,237 115,212 130,190C145,168 168,147 190,130C212,113 235,100 260,90C285,80 317,76 340,70C363,64 383,59 400,55C417,51 425,43 440,45C455,47 473,54 490,65C507,76 525,94 540,110C555,126 568,143 580,160C592,177 602,192 610,210C618,228 625,250 630,270C635,290 642,313 640,330C638,347 633,362 620,370C607,378 580,375 560,380C540,385 523,392 500,400C477,408 443,420 420,430C397,440 378,453 360,460C342,467 325,472 310,470C295,468 280,458 270,450C260,442 262,427 250,420C238,413 218,415 200,410C182,405 155,397 140,390C125,383 118,380 110,370C102,360 97,348 95,330Z" fill="none" stroke="#222" stroke-opacity="0.55" stroke-width="5" stroke-linejoin="round"/>
</g>
<g transform="translate(555,390) scale(0.10264)">
<clipPath id="bc15"><path d="M85,330C82,313 82,288 90,270C98,252 118,238 130,220C142,202 147,180 160,160C173,140 192,118 210,100C228,82 250,64 270,55C290,46 308,44 330,45C352,46 377,55 400,60C423,65 447,68 470,75C493,82 518,88 540,100C562,112 584,132 600,150C616,168 628,188 635,210C642,232 644,258 645,280C646,302 646,323 640,340C634,357 623,368 610,380C597,392 578,403 560,410C542,417 512,413 500,420C488,427 500,441 490,450C480,459 455,472 440,475C425,478 417,476 400,470C383,464 360,448 340,440C320,432 300,427 280,420C260,413 240,407 220,400C200,393 178,385 160,380C142,375 122,378 110,370C98,362 88,347 85,330Z"/></clipPath>
<path d="M85,330C82,313 82,288 90,270C98,252 118,238 130,220C142,202 147,180 160,160C173,140 192,118 210,100C228,82 250,64 270,55C290,46 308,44 330,45C352,46 377,55 400,60C423,65 447,68 470,75C493,82 518,88 540,100C562,112 584,132 600,150C616,168 628,188 635,210C642,232 644,258 645,280C646,302 646,323 640,340C634,357 623,368 610,380C597,392 578,403 560,410C542,417 512,413 500,420C488,427 500,441 490,450C480,459 455,472 440,475C425,478 417,476 400,470C383,464 360,448 340,440C320,432 300,427 280,420C260,413 240,407 220,400C200,393 178,385 160,380C142,375 122,378 110,370C98,362 88,347 85,330Z" fill="#25a58a"/>
<g clip-path="url(#bc15)">
<path d="M85,330C83,318 85,282 90,270C95,258 121,232 130,230C139,228 162,243 170,250C178,257 194,281 200,290C206,299 219,320 220,330C221,340 217,374 210,380C203,386 172,381 160,380C148,379 119,376 110,370C101,364 87,342 85,330Z" fill="#2a8a8e" stroke="#2a8a8e" stroke-width="6" stroke-linejoin="round"/>
<path d="M150,220C152,210 171,178 180,170C189,162 217,152 230,150C243,148 277,148 290,150C303,152 332,161 340,170C348,179 359,218 360,230C361,242 357,264 350,270C343,276 312,279 300,280C288,281 262,281 250,280C238,279 210,272 200,270C190,268 166,266 160,260C154,254 148,230 150,220Z" fill="#6fcb68" stroke="#6fcb68" stroke-width="6" stroke-linejoin="round"/>
<path d="M340,80C345,71 388,56 400,60C412,64 431,100 440,110C449,120 473,140 480,150C487,160 501,187 500,200C499,213 478,250 470,260C462,270 438,290 430,290C422,290 406,270 400,260C394,250 385,214 380,200C375,186 365,154 360,140C355,126 335,89 340,80Z" fill="#2d7f8e" stroke="#2d7f8e" stroke-width="6" stroke-linejoin="round"/>
<path d="M220,320C228,312 266,296 280,290C294,284 326,271 340,270C354,269 386,274 400,280C414,286 450,311 460,320C470,329 486,348 490,360C494,372 494,408 490,420C486,432 468,454 460,460C452,466 432,472 420,470C408,468 375,446 360,440C345,434 305,425 290,420C275,415 239,407 230,400C221,393 211,369 210,360C209,351 212,328 220,320Z" fill="#b8d93a" stroke="#b8d93a" stroke-width="6" stroke-linejoin="round"/>
<path d="M480,220C486,212 511,192 520,190C529,188 551,194 560,200C569,206 593,230 600,240C607,250 618,278 620,290C622,302 624,331 620,340C616,349 599,365 590,370C581,375 550,381 540,380C530,379 508,368 500,360C492,352 474,322 470,310C466,298 469,270 470,260C471,250 474,228 480,220Z" fill="#93d150" stroke="#93d150" stroke-width="6" stroke-linejoin="round"/>
<polyline points="536,139 486,159 427,139 387,108" fill="none" stroke="#000" stroke-opacity="0.28" stroke-width="7" stroke-linejoin="round" stroke-linecap="round"/>
<polyline points="595,230 536,210 486,225 447,210" fill="none" stroke="#000" stroke-opacity="0.28" stroke-width="7" stroke-linejoin="round" stroke-linecap="round"/>
<polyline points="397,67 407,129 387,180 407,241 397,292" fill="none" stroke="#000" stroke-opacity="0.28" stroke-width="7" stroke-linejoin="round" stroke-linecap="round"/>
<polyline points="338,57 358,118 338,169 367,230 348,271" fill="none" stroke="#000" stroke-opacity="0.28" stroke-width="7" stroke-linejoin="round" stroke-linecap="round"/>
<polyline points="288,52 298,108 278,159 308,241" fill="none" stroke="#000" stroke-opacity="0.28" stroke-width="7" stroke-linejoin="round" stroke-linecap="round"/>
<polyline points="268,149 219,169 169,190 130,230" fill="none" stroke="#000" stroke-opacity="0.28" stroke-width="7" stroke-linejoin="round" stroke-linecap="round"/>
<polyline points="457,322 387,302 308,271 229,256" fill="none" stroke="#000" stroke-opacity="0.28" stroke-width="7" stroke-linejoin="round" stroke-linecap="round"/>
<polyline points="447,383 367,353 288,322 219,302 169,312" fill="none" stroke="#000" stroke-opacity="0.28" stroke-width="7" stroke-linejoin="round" stroke-linecap="round"/>
<polyline points="417,434 338,414 258,383 199,353" fill="none" stroke="#000" stroke-opacity="0.28" stroke-width="7" stroke-linejoin="round" stroke-linecap="round"/>
<polyline points="209,98 189,149 149,169" fill="none" stroke="#000" stroke-opacity="0.28" stroke-width="7" stroke-linejoin="round" stroke-linecap="round"/>
<polyline points="566,312 516,302 486,312" fill="none" stroke="#000" stroke-opacity="0.28" stroke-width="7" stroke-linejoin="round" stroke-linecap="round"/>
<polyline points="239,67 249,118 229,159" fill="none" stroke="#000" stroke-opacity="0.28" stroke-width="7" stroke-linejoin="round" stroke-linecap="round"/>
<polyline points="169,241 130,271 110,312" fill="none" stroke="#000" stroke-opacity="0.28" stroke-width="7" stroke-linejoin="round" stroke-linecap="round"/>
<polyline points="486,108 457,159 477,200" fill="none" stroke="#000" stroke-opacity="0.28" stroke-width="7" stroke-linejoin="round" stroke-linecap="round"/>
<polyline points="586,261 556,251 526,271" fill="none" stroke="#000" stroke-opacity="0.28" stroke-width="7" stroke-linejoin="round" stroke-linecap="round"/>
<polyline points="615,292 576,281 546,302" fill="none" stroke="#000" stroke-opacity="0.28" stroke-width="7" stroke-linejoin="round" stroke-linecap="round"/>
<polyline points="605,343 556,332 516,348" fill="none" stroke="#000" stroke-opacity="0.28" stroke-width="7" stroke-linejoin="round" stroke-linecap="round"/>
<polyline points="556,180 506,190 467,169" fill="none" stroke="#000" stroke-opacity="0.28" stroke-width="7" stroke-linejoin="round" stroke-linecap="round"/>
<polyline points="377,78 367,98 382,118" fill="none" stroke="#000" stroke-opacity="0.28" stroke-width="7" stroke-linejoin="round" stroke-linecap="round"/>
<polyline points="318,88 328,139 308,180 328,210" fill="none" stroke="#000" stroke-opacity="0.28" stroke-width="7" stroke-linejoin="round" stroke-linecap="round"/>
<polyline points="249,78 229,108 209,129" fill="none" stroke="#000" stroke-opacity="0.28" stroke-width="7" stroke-linejoin="round" stroke-linecap="round"/>
<polyline points="189,118 169,159 179,200" fill="none" stroke="#000" stroke-opacity="0.28" stroke-width="7" stroke-linejoin="round" stroke-linecap="round"/>
<polyline points="239,200 199,210 159,251" fill="none" stroke="#000" stroke-opacity="0.28" stroke-width="7" stroke-linejoin="round" stroke-linecap="round"/>
<polyline points="427,414 367,393" fill="none" stroke="#000" stroke-opacity="0.28" stroke-width="7" stroke-linejoin="round" stroke-linecap="round"/>
<polyline points="288,414 239,393" fill="none" stroke="#000" stroke-opacity="0.28" stroke-width="7" stroke-linejoin="round" stroke-linecap="round"/>
<polyline points="149,292 120,332" fill="none" stroke="#000" stroke-opacity="0.28" stroke-width="7" stroke-linejoin="round" stroke-linecap="round"/>
<polyline points="189,271 159,312 130,353" fill="none" stroke="#000" stroke-opacity="0.28" stroke-width="7" stroke-linejoin="round" stroke-linecap="round"/>
<polyline points="358,302 328,286 288,292" fill="none" stroke="#000" stroke-opacity="0.28" stroke-width="7" stroke-linejoin="round" stroke-linecap="round"/>
<polyline points="173,383 153,382 136,392 130,411" fill="none" stroke="#000" stroke-opacity="0.22" stroke-width="6" stroke-linejoin="round" stroke-linecap="round"/>
<polyline points="217,144 222,159 215,174 200,180" fill="none" stroke="#000" stroke-opacity="0.22" stroke-width="6" stroke-linejoin="round" stroke-linecap="round"/>
<polyline points="158,191 148,208 132,220 114,228" fill="none" stroke="#000" stroke-opacity="0.22" stroke-width="6" stroke-linejoin="round" stroke-linecap="round"/>
<polyline points="134,347 113,344 95,334 92,313" fill="none" stroke="#000" stroke-opacity="0.22" stroke-width="6" stroke-linejoin="round" stroke-linecap="round"/>
<polyline points="595,144 577,155 556,148 536,142" fill="none" stroke="#000" stroke-opacity="0.22" stroke-width="6" stroke-linejoin="round" stroke-linecap="round"/>
<polyline points="574,410 561,395 542,387 523,382" fill="none" stroke="#000" stroke-opacity="0.22" stroke-width="6" stroke-linejoin="round" stroke-linecap="round"/>
<polyline points="432,203 426,218 419,233 426,248" fill="none" stroke="#000" stroke-opacity="0.22" stroke-width="6" stroke-linejoin="round" stroke-linecap="round"/>
<polyline points="517,373 502,366 486,368 470,363" fill="none" stroke="#000" stroke-opacity="0.22" stroke-width="6" stroke-linejoin="round" stroke-linecap="round"/>
<polyline points="425,413 411,424 394,423 377,417" fill="none" stroke="#000" stroke-opacity="0.22" stroke-width="6" stroke-linejoin="round" stroke-linecap="round"/>
<polyline points="178,353 163,340 155,321 146,303" fill="none" stroke="#000" stroke-opacity="0.22" stroke-width="6" stroke-linejoin="round" stroke-linecap="round"/>
<polyline points="257,216 267,229 276,243 272,258" fill="none" stroke="#000" stroke-opacity="0.22" stroke-width="6" stroke-linejoin="round" stroke-linecap="round"/>
<polyline points="408,223 426,245 451,259 469,282" fill="none" stroke="#000" stroke-opacity="0.22" stroke-width="6" stroke-linejoin="round" stroke-linecap="round"/>
<polyline points="564,108 555,122 545,136 547,153" fill="none" stroke="#000" stroke-opacity="0.22" stroke-width="6" stroke-linejoin="round" stroke-linecap="round"/>
<polyline points="443,261 450,273 446,287 443,301" fill="none" stroke="#000" stroke-opacity="0.22" stroke-width="6" stroke-linejoin="round" stroke-linecap="round"/>
<polyline points="620,212 620,227 628,239 624,254" fill="none" stroke="#000" stroke-opacity="0.22" stroke-width="6" stroke-linejoin="round" stroke-linecap="round"/>
<polyline points="429,73 422,93 411,111 415,132" fill="none" stroke="#000" stroke-opacity="0.22" stroke-width="6" stroke-linejoin="round" stroke-linecap="round"/>
<polyline points="354,313 329,301 301,305 283,326" fill="none" stroke="#000" stroke-opacity="0.22" stroke-width="6" stroke-linejoin="round" stroke-linecap="round"/>
<polyline points="315,310 301,303 288,295 273,295" fill="none" stroke="#000" stroke-opacity="0.22" stroke-width="6" stroke-linejoin="round" stroke-linecap="round"/>
<polyline points="367,311 353,317 338,317 327,306" fill="none" stroke="#000" stroke-opacity="0.22" stroke-width="6" stroke-linejoin="round" stroke-linecap="round"/>
<polyline points="396,412 382,405 366,404 354,393" fill="none" stroke="#000" stroke-opacity="0.22" stroke-width="6" stroke-linejoin="round" stroke-linecap="round"/>
<polyline points="493,85 515,100 541,103 561,86" fill="none" stroke="#000" stroke-opacity="0.22" stroke-width="6" stroke-linejoin="round" stroke-linecap="round"/>
<polyline points="466,442 438,447 412,437 403,410" fill="none" stroke="#000" stroke-opacity="0.22" stroke-width="6" stroke-linejoin="round" stroke-linecap="round"/>
<polyline points="532,152 526,180 526,209 537,236" fill="none" stroke="#000" stroke-opacity="0.22" stroke-width="6" stroke-linejoin="round" stroke-linecap="round"/>
<polyline points="126,368 111,373 97,366 93,351" fill="none" stroke="#000" stroke-opacity="0.22" stroke-width="6" stroke-linejoin="round" stroke-linecap="round"/>
<polyline points="109,131 92,144 77,157 64,174" fill="none" stroke="#000" stroke-opacity="0.22" stroke-width="6" stroke-linejoin="round" stroke-linecap="round"/>
<polyline points="602,187 612,211 602,235 577,244" fill="none" stroke="#000" stroke-opacity="0.22" stroke-width="6" stroke-linejoin="round" stroke-linecap="round"/>
<polyline points="168,274 161,290 145,297 128,293" fill="none" stroke="#000" stroke-opacity="0.22" stroke-width="6" stroke-linejoin="round" stroke-linecap="round"/>
<polyline points="526,226 532,253 526,280 523,308" fill="none" stroke="#000" stroke-opacity="0.22" stroke-width="6" stroke-linejoin="round" stroke-linecap="round"/>
<polyline points="576,203 588,220 601,237 605,257" fill="none" stroke="#000" stroke-opacity="0.22" stroke-width="6" stroke-linejoin="round" stroke-linecap="round"/>
<polyline points="430,431 416,425 401,421 388,429" fill="none" stroke="#000" stroke-opacity="0.22" stroke-width="6" stroke-linejoin="round" stroke-linecap="round"/>
<polyline points="596,315 574,305 560,285 562,262" fill="none" stroke="#000" stroke-opacity="0.22" stroke-width="6" stroke-linejoin="round" stroke-linecap="round"/>
<polyline points="403,267 415,278 422,294 421,311" fill="none" stroke="#000" stroke-opacity="0.22" stroke-width="6" stroke-linejoin="round" stroke-linecap="round"/>
<polyline points="150,203 148,218 148,233 153,247" fill="none" stroke="#000" stroke-opacity="0.22" stroke-width="6" stroke-linejoin="round" stroke-linecap="round"/>
<polyline points="488,378 467,384 450,399 440,420" fill="none" stroke="#000" stroke-opacity="0.22" stroke-width="6" stroke-linejoin="round" stroke-linecap="round"/>
<polyline points="259,137 269,163 289,184 308,205" fill="none" stroke="#000" stroke-opacity="0.22" stroke-width="6" stroke-linejoin="round" stroke-linecap="round"/>
<polyline points="589,104 600,119 596,137 599,155" fill="none" stroke="#000" stroke-opacity="0.22" stroke-width="6" stroke-linejoin="round" stroke-linecap="round"/>
<polyline points="588,99 607,115 616,138 628,159" fill="none" stroke="#000" stroke-opacity="0.22" stroke-width="6" stroke-linejoin="round" stroke-linecap="round"/>
<polyline points="602,230 606,249 608,267 616,284" fill="none" stroke="#000" stroke-opacity="0.22" stroke-width="6" stroke-linejoin="round" stroke-linecap="round"/>
<polyline points="408,193 413,208 422,221 432,233" fill="none" stroke="#000" stroke-opacity="0.22" stroke-width="6" stroke-linejoin="round" stroke-linecap="round"/>
<polyline points="621,447 604,430 600,405 602,381" fill="none" stroke="#000" stroke-opacity="0.22" stroke-width="6" stroke-linejoin="round" stroke-linecap="round"/>
</g>
<path d="M85,330C82,313 82,288 90,270C98,252 118,238 130,220C142,202 147,180 160,160C173,140 192,118 210,100C228,82 250,64 270,55C290,46 308,44 330,45C352,46 377,55 400,60C423,65 447,68 470,75C493,82 518,88 540,100C562,112 584,132 600,150C616,168 628,188 635,210C642,232 644,258 645,280C646,302 646,323 640,340C634,357 623,368 610,380C597,392 578,403 560,410C542,417 512,413 500,420C488,427 500,441 490,450C480,459 455,472 440,475C425,478 417,476 400,470C383,464 360,448 340,440C320,432 300,427 280,420C260,413 240,407 220,400C200,393 178,385 160,380C142,375 122,378 110,370C98,362 88,347 85,330Z" fill="none" stroke="#222" stroke-opacity="0.55" stroke-width="5" stroke-linejoin="round"/>
</g>
</svg></body></html>
